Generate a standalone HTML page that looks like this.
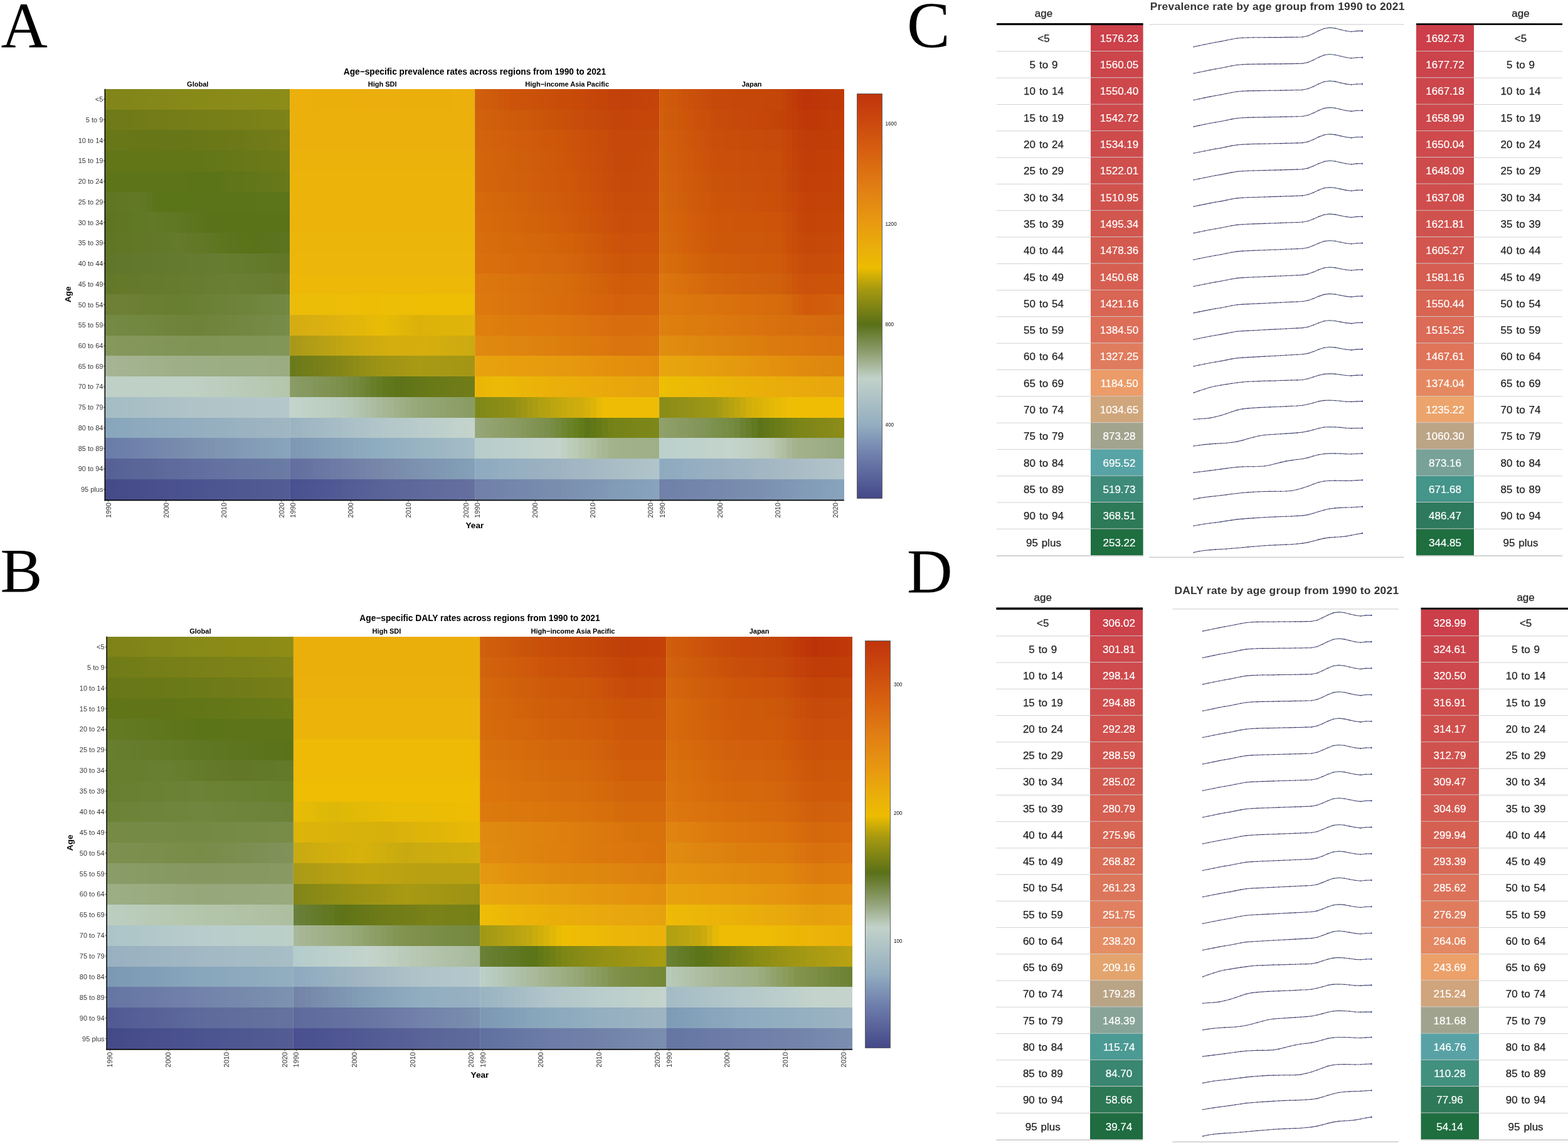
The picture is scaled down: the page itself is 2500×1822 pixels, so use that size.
<!DOCTYPE html>
<html><head><meta charset="utf-8"><title>Figure</title>
<style>
html,body{margin:0;padding:0;background:#fff;overflow:hidden}
#pg{position:relative;width:2500px;height:1822px;overflow:hidden;background:#fff}
.c{position:absolute}
svg{position:absolute;left:0;top:0}
text{font-family:"Liberation Sans",Arial,sans-serif}
.tk{fill:#383838}
.b{font-weight:bold;fill:#000}
.cbt{fill:#111}
.L{font-family:"Liberation Serif","Times New Roman",serif;fill:#000}
.t{fill:#222;stroke:#222;stroke-width:0.25px}
.ag{word-spacing:1.2px}
.v{fill:#fff;stroke:#fff;stroke-width:0.2px}
.tt{font-weight:bold;fill:#333}
.sp{fill:none;stroke:#505080;stroke-width:1.1;stroke-linejoin:round}
.dt circle{fill:#2a3040}
</style></head><body><div id="pg">
<div class="c" style="left:168px;top:141.8px;width:294.85px;height:33.24px;background:linear-gradient(to right,#80851a 0% 3.12%,#81851a 3.12% 6.25%,#81861a 6.25% 9.38%,#82861a 9.38% 12.5%,#828619 12.5% 15.62%,#838719 15.62% 21.88%,#848719 21.88% 25%,#848819 25% 28.12%,#858819 28.12% 34.38%,#868919 34.38% 37.5%,#868918 37.5% 40.62%,#878918 40.62% 43.75%,#878a18 43.75% 46.88%,#888a18 46.88% 56.25%,#898a18 56.25% 62.5%,#898b18 62.5% 68.75%,#8a8b18 68.75% 81.25%,#8b8b18 81.25% 87.5%,#8b8c18 87.5% 93.75%,#8c8c18 93.75% 100%)"></div>
<div class="c" style="left:168px;top:174.54px;width:294.85px;height:33.24px;background:linear-gradient(to right,#6e7a18 0% 3.12%,#6f7a18 3.12% 6.25%,#6f7b18 6.25% 9.38%,#707b18 9.38% 15.62%,#717b18 15.62% 18.75%,#717c18 18.75% 21.88%,#727c18 21.88% 28.12%,#737c18 28.12% 31.25%,#737d18 31.25% 34.38%,#747d18 34.38% 40.62%,#757d18 40.62% 43.75%,#757e18 43.75% 46.88%,#767e18 46.88% 53.12%,#777e18 53.12% 56.25%,#777f18 56.25% 59.38%,#787f18 59.38% 65.62%,#797f18 65.62% 68.75%,#798018 68.75% 71.88%,#7a8018 71.88% 78.12%,#7b8018 78.12% 81.25%,#7b8118 81.25% 84.38%,#7c8118 84.38% 90.62%,#7d8118 90.62% 93.75%,#7d8218 93.75% 96.88%,#7e8218 96.88% 100%)"></div>
<div class="c" style="left:168px;top:207.28px;width:294.85px;height:33.24px;background:linear-gradient(to right,#687818 0% 12.5%,#677718 12.5% 31.25%,#667618 31.25% 43.75%,#677718 43.75% 46.88%,#687718 46.88% 50%,#697718 50% 56.25%,#6a7818 56.25% 59.38%,#6b7818 59.38% 65.62%,#6c7918 65.62% 68.75%,#6d7918 68.75% 75%,#6e7a18 75% 78.12%,#6f7a18 78.12% 81.25%,#707a18 81.25% 84.38%,#707b18 84.38% 87.5%,#717b18 87.5% 90.62%,#727b18 90.62% 93.75%,#727c18 93.75% 96.88%,#737c18 96.88% 100%)"></div>
<div class="c" style="left:168px;top:240.02px;width:294.85px;height:33.24px;background:linear-gradient(to right,#627618 0% 53.12%,#637618 53.12% 56.25%,#647718 56.25% 59.38%,#657718 59.38% 65.62%,#667718 65.62% 68.75%,#677818 68.75% 71.88%,#687818 71.88% 75%,#697818 75% 81.25%,#6a7918 81.25% 84.38%,#6b7918 84.38% 87.5%,#6c7918 87.5% 93.75%,#6d7a18 93.75% 96.88%,#6e7a18 96.88% 100%)"></div>
<div class="c" style="left:168px;top:272.76px;width:294.85px;height:33.24px;background:linear-gradient(to right,#5e7418 0% 15.62%,#5d7418 15.62% 43.75%,#5c7418 43.75% 62.5%,#5d7418 62.5% 65.62%,#5e7518 65.62% 68.75%,#5f7519 68.75% 71.88%,#607519 71.88% 75%,#617619 75% 78.12%,#627619 78.12% 81.25%,#637619 81.25% 84.38%,#647719 84.38% 87.5%,#65771a 87.5% 90.62%,#66771a 90.62% 93.75%,#67781a 93.75% 96.88%,#68781a 96.88% 100%)"></div>
<div class="c" style="left:168px;top:305.5px;width:294.85px;height:33.24px;background:linear-gradient(to right,#607622 0% 3.12%,#607623 3.12% 6.25%,#617725 6.25% 9.38%,#617726 9.38% 12.5%,#627827 12.5% 15.62%,#617827 15.62% 18.75%,#607723 18.75% 21.88%,#5e7620 21.88% 25%,#5c751c 25% 28.12%,#5b7419 28.12% 31.25%,#5a7418 31.25% 46.88%,#5b7419 46.88% 81.25%,#5c741a 81.25% 100%)"></div>
<div class="c" style="left:168px;top:338.24px;width:294.85px;height:33.24px;background:linear-gradient(to right,#5e7420 0% 3.12%,#5f7521 3.12% 6.25%,#5f7622 6.25% 9.38%,#607623 9.38% 12.5%,#607724 12.5% 15.62%,#617825 15.62% 18.75%,#617926 18.75% 21.88%,#627927 21.88% 25%,#627a28 25% 28.12%,#617926 28.12% 31.25%,#607825 31.25% 34.38%,#607823 34.38% 37.5%,#5f7722 37.5% 40.62%,#5e7620 40.62% 43.75%,#5d751f 43.75% 46.88%,#5d751d 46.88% 50%,#5c741c 50% 53.12%,#5b731a 53.12% 56.25%,#5a7219 56.25% 59.38%,#5a7218 59.38% 100%)"></div>
<div class="c" style="left:168px;top:370.98px;width:294.85px;height:33.24px;background:linear-gradient(to right,#607624 0% 3.12%,#607625 3.12% 6.25%,#617725 6.25% 9.38%,#617726 9.38% 12.5%,#617727 12.5% 15.62%,#627827 15.62% 18.75%,#627828 18.75% 21.88%,#627829 21.88% 25%,#637929 25% 28.12%,#63792a 28.12% 34.38%,#647a2b 34.38% 37.5%,#647a2c 37.5% 40.62%,#647a2b 40.62% 43.75%,#637929 43.75% 46.88%,#627828 46.88% 50%,#617826 50% 53.12%,#607725 53.12% 56.25%,#5f7623 56.25% 59.38%,#5f7621 59.38% 62.5%,#5e7520 62.5% 65.62%,#5d741e 65.62% 68.75%,#5c741d 68.75% 71.88%,#5b731b 71.88% 75%,#5b7319 75% 78.12%,#5a7218 78.12% 81.25%,#5a721a 81.25% 84.38%,#5b731b 84.38% 87.5%,#5b731c 87.5% 90.62%,#5b731d 90.62% 93.75%,#5c741f 93.75% 96.88%,#5c7420 96.88% 100%)"></div>
<div class="c" style="left:168px;top:403.72px;width:294.85px;height:33.24px;background:linear-gradient(to right,#60762a 0% 6.25%,#61772b 6.25% 15.62%,#62782c 15.62% 25%,#63792d 25% 34.38%,#647a2e 34.38% 43.75%,#657b2f 43.75% 56.25%,#667c30 56.25% 62.5%,#667c2f 62.5% 65.62%,#657b2e 65.62% 71.88%,#657b2d 71.88% 75%,#647a2d 75% 78.12%,#647a2c 78.12% 81.25%,#647a2b 81.25% 84.38%,#63792b 84.38% 87.5%,#63792a 87.5% 90.62%,#637929 90.62% 93.75%,#627829 93.75% 96.88%,#627828 96.88% 100%)"></div>
<div class="c" style="left:168px;top:436.46px;width:294.85px;height:33.24px;background:linear-gradient(to right,#64782a 0% 6.25%,#65792b 6.25% 12.5%,#65792c 12.5% 18.75%,#667a2d 18.75% 25%,#667a2e 25% 31.25%,#677b2f 31.25% 37.5%,#677b30 37.5% 40.62%,#687c30 40.62% 46.88%,#687c31 46.88% 53.12%,#697d32 53.12% 59.38%,#697d33 59.38% 62.5%,#6a7e33 62.5% 65.62%,#6a7e34 65.62% 71.88%,#6a7e33 71.88% 78.12%,#697d33 78.12% 81.25%,#697d32 81.25% 87.5%,#697d31 87.5% 90.62%,#687c31 90.62% 93.75%,#687c30 93.75% 100%)"></div>
<div class="c" style="left:168px;top:469.2px;width:294.85px;height:33.24px;background:linear-gradient(to right,#6e8036 0% 6.25%,#6d8035 6.25% 12.5%,#6c7f34 12.5% 18.75%,#6b7f33 18.75% 25%,#6a7f32 25% 31.25%,#697e31 31.25% 37.5%,#687e30 37.5% 40.62%,#687e31 40.62% 43.75%,#697f32 43.75% 46.88%,#6a7f33 46.88% 50%,#6a8033 50% 53.12%,#6b8034 53.12% 56.25%,#6b8135 56.25% 59.38%,#6c8236 59.38% 62.5%,#6c8237 62.5% 65.62%,#6d8338 65.62% 68.75%,#6e8339 68.75% 71.88%,#6e843a 71.88% 75%,#6f843b 75% 78.12%,#6f853c 78.12% 81.25%,#70853d 81.25% 84.38%,#71863e 84.38% 87.5%,#71863f 87.5% 90.62%,#728740 90.62% 93.75%,#728741 93.75% 96.88%,#738842 96.88% 100%)"></div>
<div class="c" style="left:168px;top:501.94px;width:294.85px;height:33.24px;background:linear-gradient(to right,#748a44 0% 3.12%,#748943 3.12% 6.25%,#738942 6.25% 9.38%,#738842 9.38% 12.5%,#728841 12.5% 15.62%,#728740 15.62% 18.75%,#72873f 18.75% 21.88%,#71863f 21.88% 25%,#71863e 25% 28.12%,#71853d 28.12% 31.25%,#70853c 31.25% 34.38%,#70843b 34.38% 37.5%,#6f843b 37.5% 40.62%,#6f833a 40.62% 43.75%,#6f8339 43.75% 46.88%,#6e8238 46.88% 50%,#6e8239 50% 53.12%,#6f833a 53.12% 56.25%,#70843b 56.25% 59.38%,#70843c 59.38% 62.5%,#71853d 62.5% 65.62%,#72863e 65.62% 68.75%,#728640 68.75% 71.88%,#738741 71.88% 75%,#738742 75% 78.12%,#748843 78.12% 81.25%,#758944 81.25% 84.38%,#758945 84.38% 87.5%,#768a47 87.5% 90.62%,#778b48 90.62% 93.75%,#778b49 93.75% 96.88%,#788c4a 96.88% 100%)"></div>
<div class="c" style="left:168px;top:534.68px;width:294.85px;height:33.24px;background:linear-gradient(to right,#86985c 0% 6.25%,#85975b 6.25% 12.5%,#84975a 12.5% 18.75%,#84965a 18.75% 21.88%,#839659 21.88% 31.25%,#829558 31.25% 37.5%,#819557 37.5% 43.75%,#819457 43.75% 46.88%,#809456 46.88% 62.5%,#819557 62.5% 87.5%,#829658 87.5% 100%)"></div>
<div class="c" style="left:168px;top:567.42px;width:294.85px;height:33.24px;background:linear-gradient(to right,#a6b494 0% 3.12%,#a5b493 3.12% 6.25%,#a5b392 6.25% 9.38%,#a4b391 9.38% 12.5%,#a3b290 12.5% 15.62%,#a3b28f 15.62% 18.75%,#a2b28e 18.75% 21.88%,#a1b18d 21.88% 25%,#a1b18c 25% 28.12%,#a0b18b 28.12% 31.25%,#a0b08a 31.25% 34.38%,#9fb089 34.38% 37.5%,#9eaf88 37.5% 40.62%,#9eaf87 40.62% 43.75%,#9daf86 43.75% 46.88%,#9cae85 46.88% 50%,#9cae84 50% 56.25%,#9cae83 56.25% 62.5%,#9bad83 62.5% 68.75%,#9bad82 68.75% 81.25%,#9bad81 81.25% 87.5%,#9aac81 87.5% 93.75%,#9aac80 93.75% 100%)"></div>
<div class="c" style="left:168px;top:600.16px;width:294.85px;height:33.24px;background:linear-gradient(to right,#bfd0c8 0% 6.25%,#bfd0c7 6.25% 18.75%,#bfd0c6 18.75% 31.25%,#bfd0c5 31.25% 43.75%,#bfd0c4 43.75% 50%,#bfd0c3 50% 53.12%,#becfc2 53.12% 56.25%,#bdcec0 56.25% 59.38%,#bdcebf 59.38% 62.5%,#bccdbd 62.5% 65.62%,#bbccbb 65.62% 68.75%,#baccba 68.75% 71.88%,#bacbb8 71.88% 75%,#b9cbb7 75% 78.12%,#b8cab5 78.12% 81.25%,#b8c9b4 81.25% 84.38%,#b7c9b2 84.38% 87.5%,#b6c8b1 87.5% 90.62%,#b5c7af 90.62% 93.75%,#b5c7ae 93.75% 96.88%,#b4c6ac 96.88% 100%)"></div>
<div class="c" style="left:168px;top:632.9px;width:294.85px;height:33.24px;background:linear-gradient(to right,#a4bcc4 0% 3.12%,#a5bdc4 3.12% 6.25%,#a6bdc5 6.25% 9.38%,#a6bec5 9.38% 12.5%,#a7bec5 12.5% 15.62%,#a8bfc5 15.62% 18.75%,#a9bfc6 18.75% 21.88%,#a9c0c6 21.88% 25%,#aac0c6 25% 28.12%,#abc1c6 28.12% 31.25%,#acc1c7 31.25% 34.38%,#adc2c7 34.38% 40.62%,#aec3c7 40.62% 43.75%,#afc3c8 43.75% 46.88%,#b0c4c8 46.88% 56.25%,#b1c5c9 56.25% 68.75%,#b2c6ca 68.75% 81.25%,#b3c7cb 81.25% 93.75%,#b4c8cc 93.75% 100%)"></div>
<div class="c" style="left:168px;top:665.64px;width:294.85px;height:33.24px;background:linear-gradient(to right,#88a6bc 0% 3.12%,#89a7bc 3.12% 6.25%,#8aa7bd 6.25% 9.38%,#8aa8bd 9.38% 12.5%,#8ba8bd 12.5% 15.62%,#8ca9bd 15.62% 18.75%,#8da9be 18.75% 21.88%,#8daabe 21.88% 25%,#8eaabe 25% 28.12%,#8fabbe 28.12% 31.25%,#90abbf 31.25% 34.38%,#91acbf 34.38% 40.62%,#92adbf 40.62% 43.75%,#93adc0 43.75% 46.88%,#94aec0 46.88% 53.12%,#95afc0 53.12% 56.25%,#96afc0 56.25% 59.38%,#97b0c0 59.38% 62.5%,#97b0c1 62.5% 65.62%,#98b1c1 65.62% 68.75%,#99b1c1 68.75% 71.88%,#9ab2c1 71.88% 75%,#9bb2c1 75% 78.12%,#9bb3c1 78.12% 81.25%,#9cb3c1 81.25% 84.38%,#9db4c1 84.38% 87.5%,#9eb4c2 87.5% 90.62%,#9eb5c2 90.62% 93.75%,#9fb5c2 93.75% 96.88%,#a0b6c2 96.88% 100%)"></div>
<div class="c" style="left:168px;top:698.38px;width:294.85px;height:33.24px;background:linear-gradient(to right,#6a7ca8 0% 3.12%,#6b7da9 3.12% 6.25%,#6c7fa9 6.25% 9.38%,#6d80aa 9.38% 12.5%,#6f81aa 12.5% 15.62%,#7082ab 15.62% 18.75%,#7184ab 18.75% 21.88%,#7285ac 21.88% 25%,#7386ac 25% 28.12%,#7488ad 28.12% 31.25%,#7689ad 31.25% 34.38%,#778aae 34.38% 37.5%,#788bae 37.5% 40.62%,#798daf 40.62% 43.75%,#7a8eaf 43.75% 46.88%,#7b8fb0 46.88% 50%,#7c91b0 50% 53.12%,#7d92b1 53.12% 56.25%,#7e93b2 56.25% 59.38%,#7f95b3 59.38% 62.5%,#7f96b3 62.5% 65.62%,#8097b4 65.62% 68.75%,#8198b5 68.75% 71.88%,#829ab6 71.88% 75%,#839bb7 75% 78.12%,#839cb7 78.12% 81.25%,#849eb8 81.25% 84.38%,#859fb9 84.38% 87.5%,#86a0ba 87.5% 90.62%,#86a1ba 90.62% 93.75%,#87a3bb 93.75% 96.88%,#88a4bc 96.88% 100%)"></div>
<div class="c" style="left:168px;top:731.12px;width:294.85px;height:33.24px;background:linear-gradient(to right,#566094 0% 3.12%,#576195 3.12% 6.25%,#586296 6.25% 9.38%,#586396 9.38% 12.5%,#596497 12.5% 15.62%,#5a6598 15.62% 18.75%,#5b6599 18.75% 21.88%,#5b6699 21.88% 25%,#5c679a 25% 28.12%,#5d689b 28.12% 31.25%,#5e699c 31.25% 34.38%,#5f6a9d 34.38% 37.5%,#5f6b9d 37.5% 40.62%,#606c9e 40.62% 43.75%,#616d9f 43.75% 46.88%,#626ea0 46.88% 53.12%,#636fa0 53.12% 56.25%,#6370a1 56.25% 59.38%,#6471a1 59.38% 62.5%,#6472a1 62.5% 65.62%,#6573a1 65.62% 68.75%,#6574a2 68.75% 71.88%,#6675a2 71.88% 75%,#6676a2 75% 78.12%,#6777a2 78.12% 81.25%,#6777a3 81.25% 84.38%,#6878a3 84.38% 87.5%,#6879a3 87.5% 90.62%,#697aa3 90.62% 93.75%,#697ba4 93.75% 96.88%,#6a7ca4 96.88% 100%)"></div>
<div class="c" style="left:168px;top:763.86px;width:294.85px;height:33.24px;background:linear-gradient(to right,#454a88 0% 3.12%,#454b89 3.12% 6.25%,#464b89 6.25% 9.38%,#464c8a 9.38% 12.5%,#474d8a 12.5% 15.62%,#474d8b 15.62% 18.75%,#484e8b 18.75% 21.88%,#484f8c 21.88% 25%,#494f8c 25% 28.12%,#49508d 28.12% 31.25%,#4a508d 31.25% 34.38%,#4a518e 34.38% 37.5%,#4a528e 37.5% 40.62%,#4b528f 40.62% 43.75%,#4b538f 43.75% 46.88%,#4c5490 46.88% 53.12%,#4d5590 53.12% 56.25%,#4d5591 56.25% 59.38%,#4e5691 59.38% 65.62%,#4f5791 65.62% 68.75%,#4f5792 68.75% 71.88%,#505892 71.88% 78.12%,#515992 78.12% 81.25%,#515993 81.25% 84.38%,#525a93 84.38% 90.62%,#535b93 90.62% 93.75%,#535b94 93.75% 96.88%,#545c94 96.88% 100%)"></div>
<div class="c" style="left:462.45px;top:141.8px;width:294.85px;height:33.24px;background:linear-gradient(to right,#ebb00c 0% 12.5%,#ebaf0c 12.5% 37.5%,#ebae0c 37.5% 62.5%,#ebaf0c 62.5% 87.5%,#ebb00c 87.5% 100%)"></div>
<div class="c" style="left:462.45px;top:174.54px;width:294.85px;height:33.24px;background:linear-gradient(to right,#ebb00c 0% 100%)"></div>
<div class="c" style="left:462.45px;top:207.28px;width:294.85px;height:33.24px;background:linear-gradient(to right,#ebb00c 0% 100%)"></div>
<div class="c" style="left:462.45px;top:240.02px;width:294.85px;height:33.24px;background:linear-gradient(to right,#ebb20c 0% 100%)"></div>
<div class="c" style="left:462.45px;top:272.76px;width:294.85px;height:33.24px;background:linear-gradient(to right,#ecb40a 0% 100%)"></div>
<div class="c" style="left:462.45px;top:305.5px;width:294.85px;height:33.24px;background:linear-gradient(to right,#ecb40a 0% 100%)"></div>
<div class="c" style="left:462.45px;top:338.24px;width:294.85px;height:33.24px;background:linear-gradient(to right,#ecb40a 0% 100%)"></div>
<div class="c" style="left:462.45px;top:370.98px;width:294.85px;height:33.24px;background:linear-gradient(to right,#ecb50a 0% 100%)"></div>
<div class="c" style="left:462.45px;top:403.72px;width:294.85px;height:33.24px;background:linear-gradient(to right,#ecb60a 0% 100%)"></div>
<div class="c" style="left:462.45px;top:436.46px;width:294.85px;height:33.24px;background:linear-gradient(to right,#edb808 0% 100%)"></div>
<div class="c" style="left:462.45px;top:469.2px;width:294.85px;height:33.24px;background:linear-gradient(to right,#ecbd08 0% 12.5%,#ecbd07 12.5% 25%,#edbd07 25% 37.5%,#edbd06 37.5% 50%,#edbe06 50% 62.5%,#edbe05 62.5% 75%,#eebe05 75% 87.5%,#eebe04 87.5% 100%)"></div>
<div class="c" style="left:462.45px;top:501.94px;width:294.85px;height:33.24px;background:linear-gradient(to right,#d4ac14 0% 3.12%,#d5ad13 3.12% 6.25%,#d7ae12 6.25% 9.38%,#d8af11 9.38% 12.5%,#d9af11 12.5% 15.62%,#dab010 15.62% 18.75%,#dcb10f 18.75% 21.88%,#ddb20e 21.88% 25%,#deb30d 25% 28.12%,#e0b40c 28.12% 31.25%,#e1b50b 31.25% 34.38%,#e2b60a 34.38% 37.5%,#e3b709 37.5% 40.62%,#e5b908 40.62% 43.75%,#e6ba07 43.75% 46.88%,#e7bb06 46.88% 53.12%,#e5ba07 53.12% 56.25%,#e3b808 56.25% 59.38%,#e1b608 59.38% 62.5%,#dfb509 62.5% 65.62%,#ddb30a 65.62% 68.75%,#dcb20a 68.75% 71.88%,#ddb20a 71.88% 78.12%,#ddb30a 78.12% 81.25%,#deb30a 81.25% 87.5%,#dfb30a 87.5% 90.62%,#dfb40a 90.62% 93.75%,#e0b40a 93.75% 100%)"></div>
<div class="c" style="left:462.45px;top:534.68px;width:294.85px;height:33.24px;background:linear-gradient(to right,#a89818 0% 3.12%,#ab9a17 3.12% 6.25%,#ae9b17 6.25% 9.38%,#b19d16 9.38% 12.5%,#b49e15 12.5% 15.62%,#b7a015 15.62% 18.75%,#baa114 18.75% 21.88%,#bda313 21.88% 25%,#c0a413 25% 28.12%,#c3a612 28.12% 31.25%,#c5a712 31.25% 34.38%,#c8a811 34.38% 37.5%,#caa911 37.5% 40.62%,#ccaa10 40.62% 43.75%,#ceab10 43.75% 46.88%,#d0ac0f 46.88% 50%,#d2ad0f 50% 53.12%,#d4ae0e 53.12% 59.38%,#d5ae0e 59.38% 68.75%,#d6ae0e 68.75% 75%,#d5ae0e 75% 78.12%,#d4ad0f 78.12% 81.25%,#d2ad0f 81.25% 84.38%,#d1ac10 84.38% 87.5%,#d0ac10 87.5% 90.62%,#cfab11 90.62% 93.75%,#cdab11 93.75% 96.88%,#ccaa12 96.88% 100%)"></div>
<div class="c" style="left:462.45px;top:567.42px;width:294.85px;height:33.24px;background:linear-gradient(to right,#6a7a1a 0% 3.12%,#6d7b1a 3.12% 6.25%,#707d19 6.25% 9.38%,#737e19 9.38% 12.5%,#767f19 12.5% 15.62%,#798019 15.62% 18.75%,#7d8218 18.75% 21.88%,#808318 21.88% 25%,#838518 25% 28.12%,#878718 28.12% 31.25%,#8b8917 31.25% 34.38%,#8f8b17 34.38% 37.5%,#928e17 37.5% 40.62%,#969016 40.62% 43.75%,#9a9216 43.75% 46.88%,#9c9316 46.88% 50%,#9e9415 50% 53.12%,#a09515 53.12% 56.25%,#a19615 56.25% 59.38%,#a39715 59.38% 62.5%,#a59814 62.5% 65.62%,#a79914 65.62% 68.75%,#a89a14 68.75% 71.88%,#a79914 71.88% 81.25%,#a69814 81.25% 87.5%,#a59714 87.5% 93.75%,#a49614 93.75% 100%)"></div>
<div class="c" style="left:462.45px;top:600.16px;width:294.85px;height:33.24px;background:linear-gradient(to right,#8a9c66 0% 3.12%,#889a63 3.12% 6.25%,#879960 6.25% 9.38%,#85975c 9.38% 12.5%,#839659 12.5% 15.62%,#819456 15.62% 18.75%,#809353 18.75% 21.88%,#7e914f 21.88% 25%,#7c904c 25% 28.12%,#7b8e49 28.12% 31.25%,#778c43 31.25% 34.38%,#73893d 34.38% 37.5%,#708537 37.5% 40.62%,#6c8230 40.62% 43.75%,#687f2a 43.75% 46.88%,#647c23 46.88% 50%,#61791f 50% 53.12%,#60771c 53.12% 56.25%,#5f751a 56.25% 59.38%,#5f7418 59.38% 62.5%,#617518 62.5% 65.62%,#637618 65.62% 68.75%,#657718 68.75% 71.88%,#677818 71.88% 75%,#687918 75% 78.12%,#6a7a18 78.12% 81.25%,#6b7a18 81.25% 84.38%,#6c7b18 84.38% 87.5%,#6d7b18 87.5% 90.62%,#6e7b18 90.62% 93.75%,#6f7c18 93.75% 96.88%,#707c18 96.88% 100%)"></div>
<div class="c" style="left:462.45px;top:632.9px;width:294.85px;height:33.24px;background:linear-gradient(to right,#c2d4cc 0% 3.12%,#c1d3ca 3.12% 6.25%,#c0d2c8 6.25% 9.38%,#bfd1c6 9.38% 12.5%,#bed0c4 12.5% 15.62%,#bdcfc2 15.62% 18.75%,#bccec0 18.75% 21.88%,#baccbe 21.88% 25%,#b9cbbd 25% 28.12%,#b8cabb 28.12% 31.25%,#b6c8b6 31.25% 34.38%,#b4c5b1 34.38% 37.5%,#b1c2ab 37.5% 40.62%,#aebfa6 40.62% 43.75%,#acbca0 43.75% 46.88%,#a9b99b 46.88% 50%,#a7b795 50% 53.12%,#a4b490 53.12% 56.25%,#a1b28b 56.25% 59.38%,#9eaf86 59.38% 62.5%,#9bac81 62.5% 65.62%,#98aa7c 65.62% 68.75%,#96a877 68.75% 71.88%,#94a675 71.88% 75%,#93a573 75% 78.12%,#92a470 78.12% 81.25%,#90a26e 81.25% 84.38%,#8fa16b 84.38% 87.5%,#8ea069 87.5% 90.62%,#8d9f67 90.62% 93.75%,#8b9d64 93.75% 96.88%,#8a9c62 96.88% 100%)"></div>
<div class="c" style="left:462.45px;top:665.64px;width:294.85px;height:33.24px;background:linear-gradient(to right,#9cb4c2 0% 3.12%,#9db5c3 3.12% 6.25%,#9fb6c3 6.25% 9.38%,#a0b7c4 9.38% 12.5%,#a2b9c4 12.5% 15.62%,#a3bac5 15.62% 18.75%,#a5bbc5 18.75% 21.88%,#a6bcc6 21.88% 25%,#a7bdc6 25% 28.12%,#a9bec7 28.12% 31.25%,#aac0c7 31.25% 34.38%,#acc1c8 34.38% 37.5%,#adc2c8 37.5% 40.62%,#aec3c9 40.62% 43.75%,#b0c4c9 43.75% 46.88%,#b1c5ca 46.88% 50%,#b3c6ca 50% 53.12%,#b4c7ca 53.12% 56.25%,#b5c8ca 56.25% 59.38%,#b6c9ca 59.38% 62.5%,#b7cacb 62.5% 65.62%,#b8cbcb 65.62% 68.75%,#bacccb 68.75% 71.88%,#bbcdcb 71.88% 75%,#bccecb 75% 78.12%,#bdcfcb 78.12% 81.25%,#becfcb 81.25% 84.38%,#bfd0cb 84.38% 87.5%,#c1d1cc 87.5% 90.62%,#c2d2cc 90.62% 93.75%,#c3d3cc 93.75% 96.88%,#c4d4cc 96.88% 100%)"></div>
<div class="c" style="left:462.45px;top:698.38px;width:294.85px;height:33.24px;background:linear-gradient(to right,#7e98b4 0% 3.12%,#7f99b5 3.12% 6.25%,#809bb6 6.25% 9.38%,#819cb6 9.38% 12.5%,#839eb7 12.5% 15.62%,#849fb8 15.62% 18.75%,#85a1b9 18.75% 21.88%,#86a2b9 21.88% 25%,#87a3ba 25% 28.12%,#88a5bb 28.12% 31.25%,#8aa6bc 31.25% 34.38%,#8ba8bd 34.38% 37.5%,#8ca9bd 37.5% 40.62%,#8daabe 40.62% 43.75%,#8eacbf 43.75% 46.88%,#8fadc0 46.88% 50%,#91aec0 50% 53.12%,#92afc1 53.12% 56.25%,#93b0c1 56.25% 59.38%,#95b1c1 59.38% 62.5%,#96b2c2 62.5% 65.62%,#97b3c2 65.62% 68.75%,#98b4c3 68.75% 71.88%,#9ab5c3 71.88% 75%,#9bb6c3 75% 78.12%,#9cb7c4 78.12% 81.25%,#9eb7c4 81.25% 84.38%,#9fb8c4 84.38% 87.5%,#a0b9c5 87.5% 90.62%,#a1bac5 90.62% 93.75%,#a3bbc6 93.75% 96.88%,#a4bcc6 96.88% 100%)"></div>
<div class="c" style="left:462.45px;top:731.12px;width:294.85px;height:33.24px;background:linear-gradient(to right,#646ea0 0% 3.12%,#6570a1 3.12% 6.25%,#6771a1 6.25% 9.38%,#6873a2 9.38% 12.5%,#6975a3 12.5% 15.62%,#6a76a3 15.62% 18.75%,#6c78a4 18.75% 21.88%,#6d7aa5 21.88% 25%,#6e7ba5 25% 28.12%,#707da6 28.12% 31.25%,#717fa6 31.25% 34.38%,#7280a7 34.38% 37.5%,#7382a8 37.5% 40.62%,#7584a8 40.62% 43.75%,#7685a9 43.75% 46.88%,#7787aa 46.88% 50%,#7889aa 50% 53.12%,#798aab 53.12% 56.25%,#7a8cac 56.25% 59.38%,#7b8dad 59.38% 62.5%,#7b8fae 62.5% 65.62%,#7c91af 65.62% 68.75%,#7d92b0 68.75% 71.88%,#7e94b1 71.88% 75%,#7f95b2 75% 78.12%,#7f97b3 78.12% 81.25%,#8098b3 81.25% 84.38%,#819ab4 84.38% 87.5%,#829bb5 87.5% 90.62%,#829db6 90.62% 93.75%,#839eb7 93.75% 96.88%,#84a0b8 96.88% 100%)"></div>
<div class="c" style="left:462.45px;top:763.86px;width:294.85px;height:33.24px;background:linear-gradient(to right,#4a5090 0% 3.12%,#4b5191 3.12% 6.25%,#4c5391 6.25% 9.38%,#4d5492 9.38% 12.5%,#4e5592 12.5% 15.62%,#4f5693 15.62% 18.75%,#505893 18.75% 21.88%,#515994 21.88% 25%,#525a94 25% 28.12%,#535c95 28.12% 31.25%,#545d95 31.25% 34.38%,#555e96 34.38% 37.5%,#565f96 37.5% 40.62%,#576197 40.62% 43.75%,#586297 43.75% 46.88%,#596398 46.88% 50%,#5a6498 50% 53.12%,#5b6599 53.12% 56.25%,#5c6699 56.25% 59.38%,#5d679a 59.38% 65.62%,#5e689b 65.62% 68.75%,#5f699b 68.75% 71.88%,#606a9c 71.88% 75%,#616b9c 75% 78.12%,#616b9d 78.12% 81.25%,#626c9d 81.25% 84.38%,#636d9e 84.38% 87.5%,#646e9e 87.5% 90.62%,#646e9f 90.62% 93.75%,#656f9f 93.75% 96.88%,#6670a0 96.88% 100%)"></div>
<div class="c" style="left:756.9px;top:141.8px;width:294.85px;height:33.24px;background:linear-gradient(to right,#d0600c 0% 3.12%,#cf5e0c 3.12% 6.25%,#cf5c0b 6.25% 9.38%,#ce5a0b 9.38% 12.5%,#cd580b 12.5% 15.62%,#cd560a 15.62% 18.75%,#cc540a 18.75% 21.88%,#cc530a 21.88% 25%,#cb520a 25% 28.12%,#cb5209 28.12% 31.25%,#ca5109 31.25% 34.38%,#ca5009 34.38% 37.5%,#ca4f09 37.5% 40.62%,#c94e09 40.62% 43.75%,#c94d08 43.75% 46.88%,#c84c08 46.88% 50%,#c84b08 50% 53.12%,#c74a08 53.12% 56.25%,#c74909 56.25% 59.38%,#c64709 59.38% 62.5%,#c64609 62.5% 65.62%,#c54509 65.62% 68.75%,#c5440a 68.75% 71.88%,#c4420a 71.88% 75%,#c3410a 75% 78.12%,#c2400a 78.12% 81.25%,#c2410a 81.25% 84.38%,#c3410a 84.38% 87.5%,#c3420a 87.5% 90.62%,#c3430a 90.62% 93.75%,#c4430a 93.75% 96.88%,#c4440a 96.88% 100%)"></div>
<div class="c" style="left:756.9px;top:174.54px;width:294.85px;height:33.24px;background:linear-gradient(to right,#d2620c 0% 3.12%,#d1610c 3.12% 6.25%,#d1600c 6.25% 9.38%,#d05f0c 9.38% 12.5%,#cf5d0b 12.5% 15.62%,#cf5c0b 15.62% 18.75%,#ce5b0b 18.75% 21.88%,#cd5a0b 21.88% 25%,#cd590b 25% 28.12%,#cc580b 28.12% 31.25%,#cc560b 31.25% 34.38%,#cb550b 34.38% 37.5%,#ca540a 37.5% 40.62%,#ca530a 40.62% 43.75%,#c9520a 43.75% 46.88%,#c8510a 46.88% 50%,#c84f0a 50% 53.12%,#c74e0a 53.12% 56.25%,#c74d0a 56.25% 59.38%,#c64b0a 59.38% 62.5%,#c64a0a 62.5% 65.62%,#c6490a 65.62% 68.75%,#c5480a 68.75% 71.88%,#c5460a 71.88% 75%,#c4450a 75% 78.12%,#c4440a 78.12% 84.38%,#c5450a 84.38% 93.75%,#c6460a 93.75% 100%)"></div>
<div class="c" style="left:756.9px;top:207.28px;width:294.85px;height:33.24px;background:linear-gradient(to right,#d4640c 0% 3.12%,#d3630c 3.12% 6.25%,#d3620c 6.25% 9.38%,#d2610c 9.38% 12.5%,#d2600b 12.5% 15.62%,#d15f0b 15.62% 18.75%,#d15e0b 18.75% 21.88%,#d05d0b 21.88% 25%,#d05c0b 25% 28.12%,#cf5b0b 28.12% 31.25%,#cf5a0b 31.25% 34.38%,#ce590b 34.38% 37.5%,#ce580a 37.5% 40.62%,#cd570a 40.62% 43.75%,#cd560a 43.75% 46.88%,#cc550a 46.88% 50%,#cc530a 50% 53.12%,#cb520a 53.12% 56.25%,#ca510a 56.25% 59.38%,#ca4f0a 59.38% 62.5%,#c94e0a 62.5% 65.62%,#c84d0a 65.62% 68.75%,#c84c0a 68.75% 71.88%,#c74a0a 71.88% 75%,#c7490a 75% 78.12%,#c6480a 78.12% 84.38%,#c6490a 84.38% 93.75%,#c64a0a 93.75% 100%)"></div>
<div class="c" style="left:756.9px;top:240.02px;width:294.85px;height:33.24px;background:linear-gradient(to right,#d4660c 0% 3.12%,#d3650c 3.12% 6.25%,#d3640c 6.25% 9.38%,#d2630c 9.38% 12.5%,#d2620b 12.5% 15.62%,#d1610b 15.62% 18.75%,#d1600b 18.75% 21.88%,#d05f0b 21.88% 25%,#d05e0b 25% 28.12%,#cf5d0b 28.12% 31.25%,#cf5c0b 31.25% 34.38%,#ce5b0b 34.38% 37.5%,#ce5a0a 37.5% 40.62%,#cd590a 40.62% 43.75%,#cd580a 43.75% 46.88%,#cc570a 46.88% 50%,#cc550a 50% 53.12%,#cb540a 53.12% 56.25%,#ca520a 56.25% 59.38%,#ca510a 59.38% 62.5%,#c94f0a 62.5% 65.62%,#c84e0a 65.62% 68.75%,#c84c0a 68.75% 71.88%,#c74b0a 71.88% 75%,#c7490a 75% 78.12%,#c6480a 78.12% 81.25%,#c6490a 81.25% 84.38%,#c7490a 84.38% 87.5%,#c74a0a 87.5% 90.62%,#c74b0a 90.62% 93.75%,#c84b0a 93.75% 96.88%,#c84c0a 96.88% 100%)"></div>
<div class="c" style="left:756.9px;top:272.76px;width:294.85px;height:33.24px;background:linear-gradient(to right,#d4660c 0% 3.12%,#d4650c 3.12% 6.25%,#d3640c 6.25% 9.38%,#d3630c 9.38% 12.5%,#d2620b 12.5% 15.62%,#d2610b 15.62% 21.88%,#d1600b 21.88% 25%,#d15f0b 25% 28.12%,#d15e0b 28.12% 31.25%,#d05d0b 31.25% 34.38%,#d05c0b 34.38% 37.5%,#cf5b0a 37.5% 40.62%,#cf5a0a 40.62% 43.75%,#cf590a 43.75% 46.88%,#ce580a 46.88% 50%,#ce570a 50% 53.12%,#cd560a 53.12% 56.25%,#cc540a 56.25% 59.38%,#cb530a 59.38% 62.5%,#ca510a 62.5% 65.62%,#c9500a 65.62% 68.75%,#c84e0a 68.75% 71.88%,#c84d0a 71.88% 75%,#c74b0a 75% 78.12%,#c64a0a 78.12% 84.38%,#c74b0a 84.38% 93.75%,#c84c0a 93.75% 100%)"></div>
<div class="c" style="left:756.9px;top:305.5px;width:294.85px;height:33.24px;background:linear-gradient(to right,#d66a0c 0% 3.12%,#d5690c 3.12% 6.25%,#d5680c 6.25% 9.38%,#d4670c 9.38% 12.5%,#d4660b 12.5% 15.62%,#d3650b 15.62% 18.75%,#d3640b 18.75% 21.88%,#d2630b 21.88% 25%,#d2620b 25% 28.12%,#d1610b 28.12% 31.25%,#d1600b 31.25% 34.38%,#d05f0b 34.38% 37.5%,#d05e0a 37.5% 40.62%,#cf5d0a 40.62% 43.75%,#cf5c0a 43.75% 46.88%,#ce5b0a 46.88% 50%,#ce590a 50% 53.12%,#cd580a 53.12% 56.25%,#cc560a 56.25% 59.38%,#cc550a 59.38% 62.5%,#cb530a 62.5% 65.62%,#ca520a 65.62% 68.75%,#ca500a 68.75% 71.88%,#c94f0a 71.88% 75%,#c94d0a 75% 78.12%,#c84c0a 78.12% 84.38%,#c94d0a 84.38% 93.75%,#ca4e0a 93.75% 100%)"></div>
<div class="c" style="left:756.9px;top:338.24px;width:294.85px;height:33.24px;background:linear-gradient(to right,#d86c0c 0% 3.12%,#d76b0c 3.12% 6.25%,#d76a0c 6.25% 9.38%,#d6690c 9.38% 12.5%,#d6680b 12.5% 15.62%,#d5670b 15.62% 18.75%,#d5660b 18.75% 21.88%,#d4650b 21.88% 25%,#d4640b 25% 28.12%,#d3630b 28.12% 31.25%,#d3620b 31.25% 34.38%,#d2610b 34.38% 37.5%,#d2600a 37.5% 40.62%,#d15f0a 40.62% 43.75%,#d15e0a 43.75% 46.88%,#d05d0a 46.88% 50%,#d05b0a 50% 53.12%,#cf5a0a 53.12% 56.25%,#ce580a 56.25% 59.38%,#cd570a 59.38% 62.5%,#cc550a 62.5% 65.62%,#cb540a 65.62% 68.75%,#ca520a 68.75% 71.88%,#ca510a 71.88% 75%,#c94f0a 75% 78.12%,#c84e0a 78.12% 84.38%,#c94f0a 84.38% 93.75%,#ca500a 93.75% 100%)"></div>
<div class="c" style="left:756.9px;top:370.98px;width:294.85px;height:33.24px;background:linear-gradient(to right,#d86e0c 0% 3.12%,#d86d0c 3.12% 6.25%,#d76c0c 6.25% 12.5%,#d66b0b 12.5% 15.62%,#d66a0b 15.62% 18.75%,#d6690b 18.75% 21.88%,#d5690b 21.88% 25%,#d5680b 25% 28.12%,#d5670b 28.12% 31.25%,#d4660b 31.25% 34.38%,#d4650b 34.38% 37.5%,#d3650a 37.5% 40.62%,#d3640a 40.62% 43.75%,#d3630a 43.75% 46.88%,#d2620a 46.88% 50%,#d2610a 50% 53.12%,#d15f0a 53.12% 56.25%,#d05e0a 56.25% 59.38%,#cf5c0a 59.38% 62.5%,#ce5a0a 62.5% 65.62%,#cd590a 65.62% 68.75%,#cc570a 68.75% 71.88%,#cc550a 71.88% 75%,#cb530a 75% 78.12%,#ca520a 78.12% 84.38%,#cb530a 84.38% 93.75%,#cc540a 93.75% 100%)"></div>
<div class="c" style="left:756.9px;top:403.72px;width:294.85px;height:33.24px;background:linear-gradient(to right,#da700c 0% 3.12%,#da6f0c 3.12% 6.25%,#d96f0c 6.25% 9.38%,#d96e0c 9.38% 12.5%,#d86d0c 12.5% 18.75%,#d86c0c 18.75% 21.88%,#d76b0c 21.88% 28.12%,#d76a0c 28.12% 31.25%,#d66a0c 31.25% 34.38%,#d6690c 34.38% 37.5%,#d5680c 37.5% 43.75%,#d5670c 43.75% 46.88%,#d4660c 46.88% 50%,#d4650c 50% 53.12%,#d3630c 53.12% 56.25%,#d2620b 56.25% 59.38%,#d1600b 59.38% 62.5%,#d05e0b 62.5% 65.62%,#cf5d0b 65.62% 68.75%,#ce5b0b 68.75% 71.88%,#ce590a 71.88% 75%,#cd570a 75% 78.12%,#cc560a 78.12% 84.38%,#cd570a 84.38% 93.75%,#ce580a 93.75% 100%)"></div>
<div class="c" style="left:756.9px;top:436.46px;width:294.85px;height:33.24px;background:linear-gradient(to right,#dc780e 0% 3.12%,#dc770e 3.12% 6.25%,#db760e 6.25% 12.5%,#da750d 12.5% 15.62%,#da740d 15.62% 18.75%,#da730d 18.75% 21.88%,#d9730d 21.88% 25%,#d9720d 25% 28.12%,#d9710d 28.12% 31.25%,#d8700d 31.25% 34.38%,#d86f0d 34.38% 37.5%,#d76f0c 37.5% 40.62%,#d76e0c 40.62% 43.75%,#d76d0c 43.75% 46.88%,#d66c0c 46.88% 50%,#d66b0c 50% 53.12%,#d5690c 53.12% 56.25%,#d4680b 56.25% 59.38%,#d4660b 59.38% 62.5%,#d3640b 62.5% 65.62%,#d2630b 65.62% 68.75%,#d2610b 68.75% 71.88%,#d15f0a 71.88% 75%,#d15d0a 75% 78.12%,#d05c0a 78.12% 84.38%,#d05d0a 84.38% 93.75%,#d05e0a 93.75% 100%)"></div>
<div class="c" style="left:756.9px;top:469.2px;width:294.85px;height:33.24px;background:linear-gradient(to right,#dc7a0e 0% 3.12%,#dc790e 3.12% 6.25%,#db780e 6.25% 9.38%,#db770e 9.38% 12.5%,#db760d 12.5% 15.62%,#db750d 15.62% 18.75%,#da750d 18.75% 21.88%,#da740d 21.88% 25%,#da730d 25% 28.12%,#da720d 28.12% 31.25%,#d9710d 31.25% 34.38%,#d9700d 34.38% 37.5%,#d96f0c 37.5% 40.62%,#d96e0c 40.62% 43.75%,#d86d0c 43.75% 46.88%,#d86c0c 46.88% 50%,#d86b0c 50% 53.12%,#d76a0c 53.12% 56.25%,#d7690c 56.25% 59.38%,#d6670c 59.38% 62.5%,#d6660c 62.5% 65.62%,#d5640c 65.62% 68.75%,#d5630c 68.75% 71.88%,#d5620c 71.88% 75%,#d4600c 75% 81.25%,#d4610c 81.25% 93.75%,#d4620c 93.75% 100%)"></div>
<div class="c" style="left:756.9px;top:501.94px;width:294.85px;height:33.24px;background:linear-gradient(to right,#de800e 0% 3.12%,#de7f0e 3.12% 9.38%,#de7e0e 9.38% 12.5%,#dd7d0e 12.5% 18.75%,#dd7c0e 18.75% 21.88%,#dd7b0e 21.88% 28.12%,#dd7a0e 28.12% 34.38%,#dd790e 34.38% 37.5%,#dc780e 37.5% 43.75%,#dc770e 43.75% 46.88%,#dc760e 46.88% 50%,#dc750e 50% 53.12%,#db740e 53.12% 56.25%,#db730e 56.25% 59.38%,#da720e 59.38% 62.5%,#da710e 62.5% 65.62%,#da700e 65.62% 68.75%,#d96f0e 68.75% 71.88%,#d96e0e 71.88% 75%,#d86d0e 75% 78.12%,#d86c0e 78.12% 84.38%,#d86d0e 84.38% 93.75%,#d86e0e 93.75% 100%)"></div>
<div class="c" style="left:756.9px;top:534.68px;width:294.85px;height:33.24px;background:linear-gradient(to right,#e08a10 0% 3.12%,#e08910 3.12% 6.25%,#df8810 6.25% 12.5%,#df870f 12.5% 15.62%,#df860f 15.62% 18.75%,#de850f 18.75% 25%,#de840f 25% 28.12%,#de830f 28.12% 31.25%,#dd820f 31.25% 34.38%,#dd810f 34.38% 37.5%,#dd810e 37.5% 40.62%,#dd800e 40.62% 43.75%,#dc7f0e 43.75% 46.88%,#dc7e0e 46.88% 50%,#dc7d0e 50% 53.12%,#dc7c0e 53.12% 56.25%,#db7b0e 56.25% 59.38%,#db7a0e 59.38% 62.5%,#db790e 62.5% 65.62%,#db780e 65.62% 68.75%,#db770e 68.75% 71.88%,#da760e 71.88% 75%,#da750e 75% 78.12%,#da740e 78.12% 84.38%,#da750e 84.38% 93.75%,#da760e 93.75% 100%)"></div>
<div class="c" style="left:756.9px;top:567.42px;width:294.85px;height:33.24px;background:linear-gradient(to right,#e8a20e 0% 3.12%,#e8a10e 3.12% 9.38%,#e8a00e 9.38% 12.5%,#e79f0e 12.5% 18.75%,#e79e0e 18.75% 21.88%,#e79d0e 21.88% 28.12%,#e79c0e 28.12% 34.38%,#e79b0e 34.38% 37.5%,#e69a0e 37.5% 43.75%,#e6990e 43.75% 46.88%,#e6980e 46.88% 53.12%,#e6970e 53.12% 56.25%,#e5960e 56.25% 59.38%,#e5950e 59.38% 62.5%,#e5940e 62.5% 65.62%,#e5930e 65.62% 68.75%,#e4920e 68.75% 71.88%,#e4910e 71.88% 75%,#e4900e 75% 78.12%,#e48f0e 78.12% 81.25%,#e38f0e 81.25% 84.38%,#e38e0e 84.38% 87.5%,#e38d0e 87.5% 90.62%,#e38c0e 90.62% 93.75%,#e28b0e 93.75% 96.88%,#e28a0e 96.88% 100%)"></div>
<div class="c" style="left:756.9px;top:600.16px;width:294.85px;height:33.24px;background:linear-gradient(to right,#ecb408 0% 3.12%,#ecb607 3.12% 6.25%,#ecb807 6.25% 9.38%,#ecba06 9.38% 12.5%,#ecb906 12.5% 15.62%,#ecb807 15.62% 18.75%,#ecb707 18.75% 21.88%,#ebb607 21.88% 25%,#ebb508 25% 28.12%,#ebb408 28.12% 31.25%,#ebb308 31.25% 34.38%,#ebb209 34.38% 37.5%,#ebb109 37.5% 40.62%,#eab009 40.62% 43.75%,#eaaf0a 43.75% 46.88%,#eaae0a 46.88% 53.12%,#eaad0a 53.12% 56.25%,#eaac0b 56.25% 59.38%,#eaab0b 59.38% 62.5%,#e9ab0b 62.5% 65.62%,#e9aa0b 65.62% 68.75%,#e9a90c 68.75% 71.88%,#e9a80c 71.88% 75%,#e9a70c 75% 81.25%,#e9a60d 81.25% 84.38%,#e9a50d 84.38% 87.5%,#e8a40d 87.5% 93.75%,#e8a30e 93.75% 96.88%,#e8a20e 96.88% 100%)"></div>
<div class="c" style="left:756.9px;top:632.9px;width:294.85px;height:33.24px;background:linear-gradient(to right,#7e8818 0% 3.12%,#818918 3.12% 6.25%,#848b17 6.25% 9.38%,#888c17 9.38% 12.5%,#8b8d17 12.5% 15.62%,#8e8e16 15.62% 18.75%,#919016 18.75% 21.88%,#979315 21.88% 25%,#9e9614 25% 28.12%,#a49a14 28.12% 31.25%,#ab9d13 31.25% 34.38%,#b1a012 34.38% 37.5%,#b6a211 37.5% 40.62%,#bba510 40.62% 43.75%,#c0a70f 43.75% 46.88%,#c5a90e 46.88% 50%,#caab0e 50% 53.12%,#cdac0d 53.12% 56.25%,#d0ad0c 56.25% 59.38%,#d6b00b 59.38% 62.5%,#dfb408 62.5% 65.62%,#e8b906 65.62% 68.75%,#eebc04 68.75% 100%)"></div>
<div class="c" style="left:756.9px;top:665.64px;width:294.85px;height:33.24px;background:linear-gradient(to right,#96a678 0% 3.12%,#94a474 3.12% 6.25%,#92a371 6.25% 9.38%,#90a16d 9.38% 12.5%,#8ea06a 12.5% 15.62%,#8c9e66 15.62% 18.75%,#8a9c63 18.75% 21.88%,#889a5f 21.88% 25%,#85985b 25% 28.12%,#839657 28.12% 31.25%,#809353 31.25% 34.38%,#7e914f 34.38% 37.5%,#7b8f4c 37.5% 40.62%,#778c44 40.62% 43.75%,#73893b 43.75% 46.88%,#6f8631 46.88% 50%,#6b8328 50% 53.12%,#66801e 53.12% 56.25%,#627b1b 56.25% 59.38%,#5d7519 59.38% 62.5%,#617718 62.5% 65.62%,#677a18 65.62% 68.75%,#6d7e18 68.75% 71.88%,#738118 71.88% 75%,#758318 75% 78.12%,#768318 78.12% 81.25%,#788418 81.25% 84.38%,#798518 84.38% 87.5%,#7a8618 87.5% 90.62%,#7b8618 90.62% 93.75%,#7d8718 93.75% 96.88%,#7e8818 96.88% 100%)"></div>
<div class="c" style="left:756.9px;top:698.38px;width:294.85px;height:33.24px;background:linear-gradient(to right,#b8ccca 0% 3.12%,#b9cdca 3.12% 6.25%,#bacdca 6.25% 9.38%,#bbceca 9.38% 12.5%,#bbcecb 12.5% 15.62%,#bccfcb 15.62% 18.75%,#bdcfcb 18.75% 21.88%,#bed0cb 21.88% 25%,#bfd1cb 25% 28.12%,#c0d1cb 28.12% 31.25%,#c1d2cb 31.25% 34.38%,#c1d2cc 34.38% 37.5%,#c2d3cc 37.5% 40.62%,#c3d3cc 40.62% 43.75%,#c4d4cc 43.75% 46.88%,#c0d0c4 46.88% 50%,#bdcdbc 50% 53.12%,#bacab5 53.12% 56.25%,#b6c6ad 56.25% 59.38%,#b3c3a6 59.38% 62.5%,#afbf9f 62.5% 65.62%,#abbb99 65.62% 68.75%,#a7b793 68.75% 71.88%,#a3b38d 71.88% 75%,#a2b28c 75% 78.12%,#a1b28b 78.12% 81.25%,#a1b18b 81.25% 84.38%,#a0b18a 84.38% 90.62%,#9fb189 90.62% 93.75%,#9fb089 93.75% 96.88%,#9eb088 96.88% 100%)"></div>
<div class="c" style="left:756.9px;top:731.12px;width:294.85px;height:33.24px;background:linear-gradient(to right,#8eaac0 0% 3.12%,#8fabc0 3.12% 6.25%,#90abc0 6.25% 9.38%,#91acc0 9.38% 12.5%,#93adc1 12.5% 15.62%,#94adc1 15.62% 18.75%,#95aec1 18.75% 21.88%,#96afc1 21.88% 25%,#97afc1 25% 28.12%,#98b0c1 28.12% 31.25%,#9ab0c1 31.25% 34.38%,#9bb1c1 34.38% 37.5%,#9cb2c2 37.5% 40.62%,#9db2c2 40.62% 43.75%,#9eb3c2 43.75% 46.88%,#9fb4c2 46.88% 50%,#a1b5c2 50% 53.12%,#a2b6c3 53.12% 56.25%,#a3b7c3 56.25% 59.38%,#a4b8c4 59.38% 62.5%,#a5b9c4 62.5% 65.62%,#a6bac5 65.62% 68.75%,#a7bbc5 68.75% 71.88%,#a8bcc6 71.88% 75%,#a9bdc6 75% 78.12%,#aabec7 78.12% 81.25%,#abbfc7 81.25% 84.38%,#acc0c8 84.38% 87.5%,#adc1c8 87.5% 90.62%,#aec2c9 90.62% 93.75%,#afc3c9 93.75% 96.88%,#b0c4ca 96.88% 100%)"></div>
<div class="c" style="left:756.9px;top:763.86px;width:294.85px;height:33.24px;background:linear-gradient(to right,#7080a8 0% 3.12%,#7181a9 3.12% 6.25%,#7182a9 6.25% 9.38%,#7283aa 9.38% 12.5%,#7384aa 12.5% 15.62%,#7385ab 15.62% 18.75%,#7486ab 18.75% 21.88%,#7587ac 21.88% 25%,#7588ac 25% 28.12%,#7689ad 28.12% 31.25%,#768aad 31.25% 34.38%,#778bae 34.38% 37.5%,#788cae 37.5% 40.62%,#788daf 40.62% 43.75%,#798eaf 43.75% 46.88%,#7a8fb0 46.88% 50%,#7a91b0 50% 53.12%,#7b92b1 53.12% 56.25%,#7c93b2 56.25% 59.38%,#7d95b3 59.38% 62.5%,#7e96b3 62.5% 65.62%,#7f97b4 65.62% 68.75%,#8098b5 68.75% 71.88%,#819ab6 71.88% 75%,#829bb7 75% 78.12%,#839cb7 78.12% 81.25%,#839eb8 81.25% 84.38%,#849fb9 84.38% 87.5%,#85a0ba 87.5% 90.62%,#86a1ba 90.62% 93.75%,#87a3bb 93.75% 96.88%,#88a4bc 96.88% 100%)"></div>
<div class="c" style="left:1051.35px;top:141.8px;width:294.85px;height:33.24px;background:linear-gradient(to right,#d05c0c 0% 3.12%,#cf5a0c 3.12% 6.25%,#ce580c 6.25% 9.38%,#cd560b 9.38% 12.5%,#cc530b 12.5% 15.62%,#cb510b 15.62% 18.75%,#ca4f0b 18.75% 21.88%,#c84d0a 21.88% 25%,#c74b0a 25% 28.12%,#c6490a 28.12% 31.25%,#c6480a 31.25% 40.62%,#c54709 40.62% 56.25%,#c44608 56.25% 65.62%,#c34308 65.62% 68.75%,#c13f08 68.75% 71.88%,#bf3b08 71.88% 75%,#bd3708 75% 78.12%,#bc3408 78.12% 81.25%,#bd3508 81.25% 84.38%,#bd3608 84.38% 87.5%,#be3708 87.5% 90.62%,#bf3808 90.62% 93.75%,#bf3908 93.75% 96.88%,#c03a08 96.88% 100%)"></div>
<div class="c" style="left:1051.35px;top:174.54px;width:294.85px;height:33.24px;background:linear-gradient(to right,#d05e0c 0% 3.12%,#cf5c0c 3.12% 6.25%,#ce5a0c 6.25% 9.38%,#cd580b 9.38% 12.5%,#cd560b 12.5% 15.62%,#cc540b 15.62% 18.75%,#cb520b 18.75% 21.88%,#ca500a 21.88% 25%,#c94f0a 25% 28.12%,#c84d0a 28.12% 31.25%,#c84b0a 31.25% 34.38%,#c74b0a 34.38% 37.5%,#c74a0a 37.5% 40.62%,#c74909 40.62% 43.75%,#c64909 43.75% 46.88%,#c64809 46.88% 50%,#c64709 50% 53.12%,#c54609 53.12% 56.25%,#c54608 56.25% 59.38%,#c44508 59.38% 62.5%,#c44408 62.5% 65.62%,#c34208 65.62% 68.75%,#c23f08 68.75% 71.88%,#c03d08 71.88% 75%,#bf3a08 75% 78.12%,#be3808 78.12% 81.25%,#bf3908 81.25% 87.5%,#c03a08 87.5% 90.62%,#c13b08 90.62% 96.88%,#c23c08 96.88% 100%)"></div>
<div class="c" style="left:1051.35px;top:207.28px;width:294.85px;height:33.24px;background:linear-gradient(to right,#d2600c 0% 3.12%,#d15e0c 3.12% 6.25%,#d05c0c 6.25% 9.38%,#cf5a0b 9.38% 12.5%,#ce580b 12.5% 15.62%,#cd560b 15.62% 18.75%,#cc540b 18.75% 21.88%,#ca520a 21.88% 25%,#c9510a 25% 28.12%,#c84f0a 28.12% 31.25%,#c84e0a 31.25% 34.38%,#c84d0a 34.38% 40.62%,#c74d0a 40.62% 43.75%,#c74c0a 43.75% 53.12%,#c74b0a 53.12% 56.25%,#c64b0a 56.25% 59.38%,#c64a0a 59.38% 65.62%,#c5470a 65.62% 68.75%,#c44409 68.75% 71.88%,#c24109 71.88% 75%,#c13e08 75% 78.12%,#c03c08 78.12% 84.38%,#c13d08 84.38% 93.75%,#c23e08 93.75% 100%)"></div>
<div class="c" style="left:1051.35px;top:240.02px;width:294.85px;height:33.24px;background:linear-gradient(to right,#d2620c 0% 3.12%,#d1600c 3.12% 6.25%,#d05e0c 6.25% 9.38%,#cf5c0b 9.38% 12.5%,#cf5a0b 12.5% 15.62%,#ce580b 15.62% 18.75%,#cd560b 18.75% 21.88%,#cc540a 21.88% 25%,#cb530a 25% 28.12%,#ca510a 28.12% 31.25%,#ca500a 31.25% 34.38%,#ca4f0a 34.38% 40.62%,#c94f0a 40.62% 43.75%,#c94e0a 43.75% 53.12%,#c94d0a 53.12% 56.25%,#c84d0a 56.25% 59.38%,#c84c0a 59.38% 65.62%,#c7490a 65.62% 68.75%,#c64609 68.75% 71.88%,#c44309 71.88% 75%,#c34008 75% 78.12%,#c23e08 78.12% 84.38%,#c33f08 84.38% 93.75%,#c44008 93.75% 100%)"></div>
<div class="c" style="left:1051.35px;top:272.76px;width:294.85px;height:33.24px;background:linear-gradient(to right,#d4640c 0% 3.12%,#d3620c 3.12% 6.25%,#d2600c 6.25% 9.38%,#d15e0b 9.38% 12.5%,#d05c0b 12.5% 15.62%,#cf5a0b 15.62% 18.75%,#ce580b 18.75% 21.88%,#cc560a 21.88% 25%,#cb550a 25% 28.12%,#ca530a 28.12% 31.25%,#ca520a 31.25% 34.38%,#ca510a 34.38% 40.62%,#c9510a 40.62% 43.75%,#c9500a 43.75% 53.12%,#c94f0a 53.12% 56.25%,#c84f0a 56.25% 59.38%,#c84e0a 59.38% 65.62%,#c74b0a 65.62% 68.75%,#c64809 68.75% 71.88%,#c44509 71.88% 75%,#c34208 75% 78.12%,#c24008 78.12% 84.38%,#c34108 84.38% 93.75%,#c44208 93.75% 100%)"></div>
<div class="c" style="left:1051.35px;top:305.5px;width:294.85px;height:33.24px;background:linear-gradient(to right,#d4660c 0% 3.12%,#d3640c 3.12% 6.25%,#d2620c 6.25% 9.38%,#d1600b 9.38% 12.5%,#d15e0b 12.5% 15.62%,#d05c0b 15.62% 18.75%,#cf5a0b 18.75% 21.88%,#ce580a 21.88% 25%,#cd570a 25% 28.12%,#cc550a 28.12% 31.25%,#cc540a 31.25% 34.38%,#cc530a 34.38% 40.62%,#cb530a 40.62% 43.75%,#cb520a 43.75% 53.12%,#cb510a 53.12% 56.25%,#ca510a 56.25% 59.38%,#ca500a 59.38% 65.62%,#c94d0a 65.62% 68.75%,#c84a09 68.75% 71.88%,#c64709 71.88% 75%,#c54408 75% 78.12%,#c44208 78.12% 84.38%,#c44308 84.38% 93.75%,#c44408 93.75% 100%)"></div>
<div class="c" style="left:1051.35px;top:338.24px;width:294.85px;height:33.24px;background:linear-gradient(to right,#d6680c 0% 3.12%,#d5660c 3.12% 6.25%,#d4640c 6.25% 9.38%,#d3620b 9.38% 12.5%,#d3600b 12.5% 15.62%,#d25e0b 15.62% 18.75%,#d15c0b 18.75% 21.88%,#d05a0a 21.88% 25%,#cf590a 25% 28.12%,#ce570a 28.12% 31.25%,#ce560a 31.25% 40.62%,#cd550a 40.62% 56.25%,#cc540a 56.25% 65.62%,#cb510a 65.62% 68.75%,#c94e09 68.75% 71.88%,#c74a09 71.88% 75%,#c54708 75% 78.12%,#c44408 78.12% 84.38%,#c54508 84.38% 93.75%,#c64608 93.75% 100%)"></div>
<div class="c" style="left:1051.35px;top:370.98px;width:294.85px;height:33.24px;background:linear-gradient(to right,#d66a0c 0% 3.12%,#d5680c 3.12% 6.25%,#d4660c 6.25% 9.38%,#d3640b 9.38% 12.5%,#d3620b 12.5% 15.62%,#d2600b 15.62% 18.75%,#d15e0b 18.75% 21.88%,#d05c0a 21.88% 25%,#cf5b0a 25% 28.12%,#ce590a 28.12% 31.25%,#ce580a 31.25% 40.62%,#cd570a 40.62% 56.25%,#cc560a 56.25% 65.62%,#cb530a 65.62% 68.75%,#ca5009 68.75% 71.88%,#c84d09 71.88% 75%,#c74a08 75% 78.12%,#c64808 78.12% 84.38%,#c74909 84.38% 93.75%,#c84a0a 93.75% 100%)"></div>
<div class="c" style="left:1051.35px;top:403.72px;width:294.85px;height:33.24px;background:linear-gradient(to right,#d86e0c 0% 3.12%,#d76c0c 3.12% 6.25%,#d66b0c 6.25% 9.38%,#d5690b 9.38% 12.5%,#d5670b 12.5% 15.62%,#d4650b 15.62% 18.75%,#d3640b 18.75% 21.88%,#d2620a 21.88% 25%,#d1600a 25% 28.12%,#d05f0a 28.12% 31.25%,#d05e0a 31.25% 34.38%,#d05d0a 34.38% 40.62%,#cf5d0a 40.62% 43.75%,#cf5c0a 43.75% 53.12%,#cf5b0a 53.12% 56.25%,#ce5b0a 56.25% 59.38%,#ce5a0a 59.38% 65.62%,#cd570a 65.62% 68.75%,#cc540a 68.75% 71.88%,#ca510a 71.88% 75%,#c94e0a 75% 78.12%,#c84c0a 78.12% 84.38%,#c94d0a 84.38% 93.75%,#ca4e0a 93.75% 100%)"></div>
<div class="c" style="left:1051.35px;top:436.46px;width:294.85px;height:33.24px;background:linear-gradient(to right,#dc760e 0% 3.12%,#db740e 3.12% 6.25%,#da730e 6.25% 9.38%,#d9710d 9.38% 12.5%,#d96f0d 12.5% 15.62%,#d86d0d 15.62% 18.75%,#d76c0d 18.75% 21.88%,#d66a0c 21.88% 25%,#d5680c 25% 28.12%,#d4670c 28.12% 31.25%,#d4660c 31.25% 34.38%,#d3650c 34.38% 40.62%,#d3640c 40.62% 43.75%,#d2630c 43.75% 50%,#d2620c 50% 53.12%,#d1620c 53.12% 56.25%,#d1610c 56.25% 59.38%,#d0610c 59.38% 62.5%,#d0600c 62.5% 65.62%,#cf5d0c 65.62% 68.75%,#ce5a0b 68.75% 71.88%,#cc570b 71.88% 75%,#cb540a 75% 78.12%,#ca520a 78.12% 84.38%,#cb530a 84.38% 93.75%,#cc540a 93.75% 100%)"></div>
<div class="c" style="left:1051.35px;top:469.2px;width:294.85px;height:33.24px;background:linear-gradient(to right,#dc7a0e 0% 3.12%,#dc790e 3.12% 6.25%,#db780e 6.25% 12.5%,#db770d 12.5% 15.62%,#db760d 15.62% 18.75%,#da750d 18.75% 25%,#da740d 25% 28.12%,#da730d 28.12% 31.25%,#d9720d 31.25% 34.38%,#d9710d 34.38% 37.5%,#d9710c 37.5% 40.62%,#d9700c 40.62% 43.75%,#d86f0c 43.75% 46.88%,#d86e0c 46.88% 53.12%,#d76d0c 53.12% 56.25%,#d66c0c 56.25% 62.5%,#d56b0c 62.5% 65.62%,#d46a0c 65.62% 68.75%,#d4680c 68.75% 71.88%,#d2630b 71.88% 75%,#d15e0b 75% 78.12%,#d05a0a 78.12% 81.25%,#d05b0a 81.25% 84.38%,#d15c0b 84.38% 87.5%,#d15d0b 87.5% 90.62%,#d15e0b 90.62% 93.75%,#d25f0c 93.75% 96.88%,#d2600c 96.88% 100%)"></div>
<div class="c" style="left:1051.35px;top:501.94px;width:294.85px;height:33.24px;background:linear-gradient(to right,#de800e 0% 3.12%,#de7f0e 3.12% 6.25%,#dd7e0e 6.25% 12.5%,#dd7d0e 12.5% 15.62%,#dd7c0e 15.62% 18.75%,#dc7b0e 18.75% 25%,#dc7a0e 25% 28.12%,#dc790e 28.12% 31.25%,#db780e 31.25% 34.38%,#db770e 34.38% 40.62%,#db760e 40.62% 43.75%,#da750e 43.75% 46.88%,#da740e 46.88% 53.12%,#d9730e 53.12% 56.25%,#d9720e 56.25% 59.38%,#d8710e 59.38% 62.5%,#d8700e 62.5% 65.62%,#d86f0e 65.62% 68.75%,#d76e0e 68.75% 75%,#d66d0e 75% 78.12%,#d66c0e 78.12% 84.38%,#d56b0e 84.38% 93.75%,#d46a0e 93.75% 100%)"></div>
<div class="c" style="left:1051.35px;top:534.68px;width:294.85px;height:33.24px;background:linear-gradient(to right,#e08e10 0% 3.12%,#e08d10 3.12% 6.25%,#df8c10 6.25% 9.38%,#df8b10 9.38% 12.5%,#df8a0f 12.5% 15.62%,#df890f 15.62% 18.75%,#de880f 18.75% 21.88%,#de870f 21.88% 25%,#de860f 25% 28.12%,#de850f 28.12% 31.25%,#dd840f 31.25% 34.38%,#dd830f 34.38% 37.5%,#dd820e 37.5% 40.62%,#dd810e 40.62% 43.75%,#dc800e 43.75% 46.88%,#dc7f0e 46.88% 50%,#dc7e0e 50% 53.12%,#dc7d0e 53.12% 56.25%,#db7c0e 56.25% 59.38%,#db7b0e 59.38% 62.5%,#db7a0e 62.5% 65.62%,#db790e 65.62% 68.75%,#db780e 68.75% 71.88%,#da780e 71.88% 75%,#da770e 75% 78.12%,#da760e 78.12% 81.25%,#da750e 81.25% 84.38%,#d9750e 84.38% 87.5%,#d9740e 87.5% 90.62%,#d9730e 90.62% 93.75%,#d8730e 93.75% 96.88%,#d8720e 96.88% 100%)"></div>
<div class="c" style="left:1051.35px;top:567.42px;width:294.85px;height:33.24px;background:linear-gradient(to right,#e8a60e 0% 3.12%,#e8a50e 3.12% 6.25%,#e7a40e 6.25% 9.38%,#e7a30e 9.38% 12.5%,#e7a20e 12.5% 15.62%,#e7a10e 15.62% 18.75%,#e6a00e 18.75% 21.88%,#e69f0e 21.88% 25%,#e69e0e 25% 28.12%,#e69d0e 28.12% 31.25%,#e59c0e 31.25% 34.38%,#e59b0e 34.38% 37.5%,#e59a0e 37.5% 40.62%,#e5990e 40.62% 43.75%,#e4980e 43.75% 46.88%,#e4970e 46.88% 50%,#e4950e 50% 53.12%,#e3940e 53.12% 56.25%,#e3930e 56.25% 59.38%,#e2910e 59.38% 62.5%,#e2900e 62.5% 65.62%,#e28f0e 65.62% 68.75%,#e18e0e 68.75% 71.88%,#e18c0e 71.88% 75%,#e08b0e 75% 78.12%,#e08a0e 78.12% 81.25%,#e0890e 81.25% 84.38%,#df890e 84.38% 87.5%,#df880e 87.5% 90.62%,#df870e 90.62% 93.75%,#de870e 93.75% 96.88%,#de860e 96.88% 100%)"></div>
<div class="c" style="left:1051.35px;top:600.16px;width:294.85px;height:33.24px;background:linear-gradient(to right,#ecbe04 0% 3.12%,#ecbd04 3.12% 6.25%,#ecbc05 6.25% 9.38%,#ecbb05 9.38% 12.5%,#ebba06 12.5% 15.62%,#ebb906 15.62% 21.88%,#ebb807 21.88% 25%,#ebb707 25% 28.12%,#ebb607 28.12% 31.25%,#ebb508 31.25% 34.38%,#ebb408 34.38% 37.5%,#eab309 37.5% 40.62%,#eab209 40.62% 43.75%,#eab109 43.75% 46.88%,#eab00a 46.88% 53.12%,#eaaf0a 53.12% 56.25%,#eaae0b 56.25% 62.5%,#e9ad0b 62.5% 65.62%,#e9ac0b 65.62% 68.75%,#e9ac0c 68.75% 71.88%,#e9ab0c 71.88% 78.12%,#e9aa0c 78.12% 81.25%,#e9a90d 81.25% 87.5%,#e8a80d 87.5% 90.62%,#e8a70d 90.62% 93.75%,#e8a70e 93.75% 96.88%,#e8a60e 96.88% 100%)"></div>
<div class="c" style="left:1051.35px;top:632.9px;width:294.85px;height:33.24px;background:linear-gradient(to right,#8a8c18 0% 3.12%,#8c8d18 3.12% 6.25%,#8f8f18 6.25% 9.38%,#919017 9.38% 12.5%,#939117 12.5% 15.62%,#969217 15.62% 18.75%,#989417 18.75% 21.88%,#9b9516 21.88% 25%,#9d9616 25% 28.12%,#9f9816 28.12% 31.25%,#a69b15 31.25% 34.38%,#ae9f13 34.38% 37.5%,#b7a211 37.5% 40.62%,#bfa60f 40.62% 43.75%,#c7aa0d 43.75% 46.88%,#d0ae0b 46.88% 50%,#d6b10a 50% 53.12%,#dab309 53.12% 56.25%,#deb608 56.25% 59.38%,#e3b807 59.38% 62.5%,#e7ba06 62.5% 65.62%,#ebbc05 65.62% 68.75%,#eebe04 68.75% 78.12%,#efbd04 78.12% 90.62%,#f0bc04 90.62% 100%)"></div>
<div class="c" style="left:1051.35px;top:665.64px;width:294.85px;height:33.24px;background:linear-gradient(to right,#90a06a 0% 3.12%,#8e9e67 3.12% 6.25%,#8c9d65 6.25% 9.38%,#8a9b62 9.38% 12.5%,#889a60 12.5% 15.62%,#86985d 15.62% 18.75%,#84965b 18.75% 21.88%,#829457 21.88% 25%,#7f9352 25% 28.12%,#7d914e 28.12% 31.25%,#7a8f4a 31.25% 34.38%,#788d46 34.38% 37.5%,#758b42 37.5% 40.62%,#71873b 40.62% 43.75%,#6c8232 43.75% 46.88%,#677e2a 46.88% 50%,#617921 50% 53.12%,#5c7418 53.12% 56.25%,#617618 56.25% 59.38%,#657918 59.38% 62.5%,#6a7c18 62.5% 65.62%,#6f7e18 65.62% 68.75%,#748118 68.75% 71.88%,#798318 71.88% 75%,#7c8518 75% 78.12%,#7e8618 78.12% 81.25%,#808718 81.25% 84.38%,#838818 84.38% 87.5%,#858918 87.5% 90.62%,#878a18 90.62% 93.75%,#8a8b18 93.75% 96.88%,#8c8c18 96.88% 100%)"></div>
<div class="c" style="left:1051.35px;top:698.38px;width:294.85px;height:33.24px;background:linear-gradient(to right,#bcd0cc 0% 3.12%,#bdd0cc 3.12% 6.25%,#bdd1cc 6.25% 9.38%,#bed1cc 9.38% 12.5%,#bfd1cc 12.5% 15.62%,#bfd2cc 15.62% 18.75%,#c0d2cc 18.75% 21.88%,#c1d2cc 21.88% 25%,#c1d3cc 25% 28.12%,#c2d3cc 28.12% 34.38%,#c3d4cc 34.38% 37.5%,#c4d4cc 37.5% 40.62%,#c3d3ca 40.62% 43.75%,#c2d1c7 43.75% 46.88%,#c1d0c4 46.88% 50%,#bfcec0 50% 53.12%,#becdbd 53.12% 56.25%,#bdcbba 56.25% 59.38%,#bac8b4 59.38% 62.5%,#b5c3ab 62.5% 65.62%,#b0bea1 65.62% 68.75%,#aab898 68.75% 71.88%,#a5b38e 71.88% 75%,#a3b18b 75% 78.12%,#a1b089 78.12% 81.25%,#a0af88 81.25% 84.38%,#9eae86 84.38% 87.5%,#9dad85 87.5% 90.62%,#9bac83 90.62% 93.75%,#9aab82 93.75% 96.88%,#98aa80 96.88% 100%)"></div>
<div class="c" style="left:1051.35px;top:731.12px;width:294.85px;height:33.24px;background:linear-gradient(to right,#8eaac0 0% 3.12%,#8fabc0 3.12% 6.25%,#90abc0 6.25% 9.38%,#91acc0 9.38% 12.5%,#93adc1 12.5% 15.62%,#94adc1 15.62% 18.75%,#95aec1 18.75% 21.88%,#96afc1 21.88% 25%,#97afc1 25% 28.12%,#98b0c1 28.12% 31.25%,#9ab0c1 31.25% 34.38%,#9bb1c1 34.38% 37.5%,#9cb2c2 37.5% 40.62%,#9db2c2 40.62% 43.75%,#9eb3c2 43.75% 46.88%,#9fb4c2 46.88% 50%,#a1b5c2 50% 53.12%,#a2b6c3 53.12% 56.25%,#a3b7c3 56.25% 59.38%,#a4b8c4 59.38% 62.5%,#a5b9c4 62.5% 65.62%,#a6bac5 65.62% 68.75%,#a8bbc5 68.75% 71.88%,#a9bcc6 71.88% 75%,#aabdc6 75% 78.12%,#abbec7 78.12% 81.25%,#acbfc7 81.25% 84.38%,#adc0c8 84.38% 87.5%,#afc1c8 87.5% 90.62%,#b0c2c9 90.62% 93.75%,#b1c3c9 93.75% 96.88%,#b2c4ca 96.88% 100%)"></div>
<div class="c" style="left:1051.35px;top:763.86px;width:294.85px;height:33.24px;background:linear-gradient(to right,#7080a8 0% 3.12%,#7181a9 3.12% 6.25%,#7182a9 6.25% 9.38%,#7283aa 9.38% 12.5%,#7384aa 12.5% 15.62%,#7385ab 15.62% 18.75%,#7485ab 18.75% 21.88%,#7586ac 21.88% 25%,#7587ac 25% 28.12%,#7688ad 28.12% 31.25%,#7689ad 31.25% 34.38%,#778aae 34.38% 37.5%,#788bae 37.5% 40.62%,#788caf 40.62% 43.75%,#798daf 43.75% 46.88%,#7a8eb0 46.88% 50%,#7a8fb0 50% 53.12%,#7b90b1 53.12% 56.25%,#7c92b2 56.25% 59.38%,#7d93b3 59.38% 62.5%,#7e94b3 62.5% 65.62%,#7f96b4 65.62% 68.75%,#8097b5 68.75% 71.88%,#8199b6 71.88% 75%,#829ab7 75% 78.12%,#839bb7 78.12% 81.25%,#839db8 81.25% 84.38%,#849eb9 84.38% 87.5%,#85a0ba 87.5% 90.62%,#86a1ba 90.62% 93.75%,#87a3bb 93.75% 96.88%,#88a4bc 96.88% 100%)"></div>
<div class="c" style="left:462.05px;top:141.8px;width:0.8px;height:654.8px;background:rgba(255,255,255,0.11)"></div>
<div class="c" style="left:756.5px;top:141.8px;width:0.8px;height:654.8px;background:rgba(255,255,255,0.11)"></div>
<div class="c" style="left:1050.95px;top:141.8px;width:0.8px;height:654.8px;background:rgba(255,255,255,0.11)"></div>
<div class="c" style="left:1366.6px;top:149.6px;width:39.2px;height:644.6px;background:linear-gradient(to top,#444888 0%,#6e7eac 10.4%,#7e94b6 14%,#94aec0 18.2%,#c2d2ca 29.6%,#8a9a68 36.6%,#5a7018 43%,#a89a10 51.9%,#ecbc00 57%,#eab00a 61.5%,#e89a10 68%,#e07c14 77.6%,#d86410 84.6%,#cc4a0e 92.6%,#c0340c 100%);box-shadow:0 0 0 0.8px #3a3a3a"></div>
<div class="c" style="left:170.8px;top:1014.6px;width:297.47px;height:33.37px;background:linear-gradient(to right,#7e8218 0% 3.12%,#7f8318 3.12% 9.38%,#808418 9.38% 12.5%,#818418 12.5% 15.62%,#818518 15.62% 18.75%,#828518 18.75% 21.88%,#838618 21.88% 28.12%,#848718 28.12% 34.38%,#858818 34.38% 37.5%,#868818 37.5% 40.62%,#868918 40.62% 43.75%,#878918 43.75% 46.88%,#888a18 46.88% 53.12%,#898a18 53.12% 56.25%,#898a17 56.25% 62.5%,#8a8b17 62.5% 68.75%,#8b8b16 68.75% 78.12%,#8c8b16 78.12% 81.25%,#8c8b15 81.25% 87.5%,#8d8c15 87.5% 93.75%,#8e8c14 93.75% 100%)"></div>
<div class="c" style="left:170.8px;top:1047.47px;width:297.47px;height:33.37px;background:linear-gradient(to right,#707c18 0% 3.12%,#717c18 3.12% 6.25%,#717d18 6.25% 9.38%,#727d18 9.38% 12.5%,#737d18 12.5% 18.75%,#747e18 18.75% 21.88%,#757e18 21.88% 28.12%,#767e18 28.12% 31.25%,#767f18 31.25% 34.38%,#777f18 34.38% 37.5%,#787f18 37.5% 43.75%,#798018 43.75% 46.88%,#7a8018 46.88% 53.12%,#7b8018 53.12% 56.25%,#7b8118 56.25% 62.5%,#7c8118 62.5% 68.75%,#7d8218 68.75% 78.12%,#7e8218 78.12% 81.25%,#7e8318 81.25% 87.5%,#7f8318 87.5% 93.75%,#808418 93.75% 100%)"></div>
<div class="c" style="left:170.8px;top:1080.34px;width:297.47px;height:33.37px;background:linear-gradient(to right,#687818 0% 6.25%,#697818 6.25% 12.5%,#697918 12.5% 18.75%,#6a7918 18.75% 31.25%,#6b7918 31.25% 37.5%,#6b7a18 37.5% 43.75%,#6c7a18 43.75% 53.12%,#6d7a18 53.12% 56.25%,#6e7b18 56.25% 62.5%,#6f7b18 62.5% 65.62%,#707b18 65.62% 68.75%,#707c18 68.75% 71.88%,#717c18 71.88% 78.12%,#727c18 78.12% 81.25%,#737d18 81.25% 87.5%,#747d18 87.5% 90.62%,#757d18 90.62% 93.75%,#757e18 93.75% 96.88%,#767e18 96.88% 100%)"></div>
<div class="c" style="left:170.8px;top:1113.21px;width:297.47px;height:33.37px;background:linear-gradient(to right,#607418 0% 12.5%,#617518 12.5% 37.5%,#627618 37.5% 53.12%,#637618 53.12% 56.25%,#637718 56.25% 59.38%,#647718 59.38% 65.62%,#657718 65.62% 68.75%,#657818 68.75% 71.88%,#667818 71.88% 78.12%,#677818 78.12% 81.25%,#677918 81.25% 84.38%,#687918 84.38% 90.62%,#697918 90.62% 93.75%,#697a18 93.75% 96.88%,#6a7a18 96.88% 100%)"></div>
<div class="c" style="left:170.8px;top:1146.08px;width:297.47px;height:33.37px;background:linear-gradient(to right,#647a24 0% 3.12%,#637a23 3.12% 6.25%,#637922 6.25% 9.38%,#627922 9.38% 12.5%,#627821 12.5% 15.62%,#617820 15.62% 18.75%,#61781f 18.75% 21.88%,#60771f 21.88% 25%,#60771e 25% 28.12%,#5f771d 28.12% 31.25%,#5f761c 31.25% 34.38%,#5e761b 34.38% 37.5%,#5e751b 37.5% 40.62%,#5d751a 40.62% 43.75%,#5d7519 43.75% 46.88%,#5c7418 46.88% 62.5%,#5d7418 62.5% 87.5%,#5e7418 87.5% 100%)"></div>
<div class="c" style="left:170.8px;top:1178.95px;width:297.47px;height:33.37px;background:linear-gradient(to right,#687e30 0% 3.12%,#677e2f 3.12% 6.25%,#677d2e 6.25% 9.38%,#667d2d 9.38% 12.5%,#667c2d 12.5% 15.62%,#657c2c 15.62% 18.75%,#657b2b 18.75% 21.88%,#647b2a 21.88% 25%,#647b29 25% 28.12%,#637a28 28.12% 31.25%,#637a27 31.25% 34.38%,#627927 34.38% 37.5%,#627926 37.5% 40.62%,#617825 40.62% 43.75%,#607824 43.75% 46.88%,#607823 46.88% 50%,#5f7722 50% 53.12%,#5f7721 53.12% 56.25%,#5e7621 56.25% 59.38%,#5e7620 59.38% 62.5%,#5e761f 62.5% 65.62%,#5d751e 65.62% 71.88%,#5d751d 71.88% 75%,#5c741d 75% 78.12%,#5c741c 78.12% 81.25%,#5c741b 81.25% 84.38%,#5b731b 84.38% 87.5%,#5b731a 87.5% 90.62%,#5b7319 90.62% 93.75%,#5a7219 93.75% 96.88%,#5a7218 96.88% 100%)"></div>
<div class="c" style="left:170.8px;top:1211.82px;width:297.47px;height:33.37px;background:linear-gradient(to right,#667e2e 0% 9.38%,#677e2f 9.38% 21.88%,#687e30 21.88% 34.38%,#677d2f 34.38% 37.5%,#677d2e 37.5% 40.62%,#667c2e 40.62% 43.75%,#667c2d 43.75% 46.88%,#657b2c 46.88% 53.12%,#647a2b 53.12% 56.25%,#647a2a 56.25% 59.38%,#63792a 59.38% 62.5%,#637929 62.5% 65.62%,#627828 65.62% 78.12%,#627929 78.12% 90.62%,#627a2a 90.62% 100%)"></div>
<div class="c" style="left:170.8px;top:1244.69px;width:297.47px;height:33.37px;background:linear-gradient(to right,#687e30 0% 6.25%,#697f31 6.25% 12.5%,#697f32 12.5% 18.75%,#6a8032 18.75% 21.88%,#6a8033 21.88% 31.25%,#6b8134 31.25% 37.5%,#6b8135 37.5% 43.75%,#6c8235 43.75% 46.88%,#6c8236 46.88% 53.12%,#6b8235 53.12% 59.38%,#6b8234 59.38% 62.5%,#6a8134 62.5% 65.62%,#6a8133 65.62% 68.75%,#698133 68.75% 71.88%,#698132 71.88% 78.12%,#688131 78.12% 84.38%,#688130 84.38% 87.5%,#678030 87.5% 90.62%,#67802f 90.62% 93.75%,#66802f 93.75% 96.88%,#66802e 96.88% 100%)"></div>
<div class="c" style="left:170.8px;top:1277.56px;width:297.47px;height:33.37px;background:linear-gradient(to right,#6c8236 0% 3.12%,#6c8237 3.12% 6.25%,#6d8337 6.25% 9.38%,#6d8338 9.38% 15.62%,#6d8339 15.62% 18.75%,#6e8439 18.75% 21.88%,#6e843a 21.88% 28.12%,#6e843b 28.12% 31.25%,#6f853b 31.25% 34.38%,#6f853c 34.38% 40.62%,#6f853d 40.62% 43.75%,#70863d 43.75% 46.88%,#70863e 46.88% 53.12%,#70863d 53.12% 56.25%,#6f853d 56.25% 62.5%,#6f853c 62.5% 68.75%,#6e843b 68.75% 78.12%,#6e843a 78.12% 81.25%,#6d833a 81.25% 87.5%,#6d8339 87.5% 93.75%,#6c8238 93.75% 100%)"></div>
<div class="c" style="left:170.8px;top:1310.43px;width:297.47px;height:33.37px;background:linear-gradient(to right,#768a46 0% 12.5%,#758a45 12.5% 37.5%,#748a44 37.5% 56.25%,#758a45 56.25% 62.5%,#758b45 62.5% 68.75%,#768b46 68.75% 81.25%,#778b47 81.25% 87.5%,#778c47 87.5% 93.75%,#788c48 93.75% 100%)"></div>
<div class="c" style="left:170.8px;top:1343.3px;width:297.47px;height:33.37px;background:linear-gradient(to right,#7e9050 0% 3.12%,#7e904f 3.12% 6.25%,#7d8f4f 6.25% 9.38%,#7d8f4e 9.38% 12.5%,#7c8f4e 12.5% 15.62%,#7c8f4d 15.62% 18.75%,#7c8e4d 18.75% 21.88%,#7b8e4c 21.88% 28.12%,#7b8e4b 28.12% 31.25%,#7a8d4b 31.25% 34.38%,#7a8d4a 34.38% 37.5%,#798d4a 37.5% 40.62%,#798d49 40.62% 43.75%,#798c49 43.75% 46.88%,#788c48 46.88% 50%,#788c49 50% 53.12%,#798d4a 53.12% 56.25%,#798d4b 56.25% 59.38%,#7a8d4c 59.38% 62.5%,#7a8e4d 62.5% 65.62%,#7b8e4e 65.62% 68.75%,#7b8f50 68.75% 71.88%,#7c8f51 71.88% 75%,#7c8f52 75% 78.12%,#7d9053 78.12% 81.25%,#7d9054 81.25% 84.38%,#7e9055 84.38% 87.5%,#7e9157 87.5% 90.62%,#7f9158 90.62% 93.75%,#7f9259 93.75% 96.88%,#80925a 96.88% 100%)"></div>
<div class="c" style="left:170.8px;top:1376.17px;width:297.47px;height:33.37px;background:linear-gradient(to right,#8a9c68 0% 3.12%,#8a9c67 3.12% 6.25%,#899b67 6.25% 9.38%,#899b66 9.38% 15.62%,#899b65 15.62% 18.75%,#889a65 18.75% 21.88%,#889a64 21.88% 28.12%,#889a63 28.12% 31.25%,#879963 31.25% 34.38%,#879962 34.38% 40.62%,#879961 40.62% 43.75%,#869861 43.75% 46.88%,#869860 46.88% 62.5%,#879961 62.5% 87.5%,#889a62 87.5% 100%)"></div>
<div class="c" style="left:170.8px;top:1409.04px;width:297.47px;height:33.37px;background:linear-gradient(to right,#9cae84 0% 3.12%,#9cae83 3.12% 6.25%,#9bad83 6.25% 9.38%,#9bad82 9.38% 12.5%,#9aac81 12.5% 18.75%,#9aac80 18.75% 21.88%,#99ab7f 21.88% 28.12%,#99ab7e 28.12% 31.25%,#98aa7e 31.25% 34.38%,#98aa7d 34.38% 37.5%,#97a97c 37.5% 43.75%,#97a97b 43.75% 46.88%,#96a87a 46.88% 56.25%,#96a87b 56.25% 62.5%,#97a97b 62.5% 68.75%,#97a97c 68.75% 81.25%,#97a97d 81.25% 87.5%,#98aa7d 87.5% 93.75%,#98aa7e 93.75% 100%)"></div>
<div class="c" style="left:170.8px;top:1441.91px;width:297.47px;height:33.37px;background:linear-gradient(to right,#bccec0 0% 3.12%,#bbcdbf 3.12% 6.25%,#bbcdbd 6.25% 9.38%,#baccbc 9.38% 12.5%,#baccba 12.5% 15.62%,#b9cbb9 15.62% 18.75%,#b9cbb7 18.75% 21.88%,#b8cab6 21.88% 25%,#b8cab5 25% 28.12%,#b7c9b3 28.12% 31.25%,#b7c9b2 31.25% 34.38%,#b6c8b0 34.38% 37.5%,#b6c8af 37.5% 40.62%,#b5c7ae 40.62% 43.75%,#b5c7ac 43.75% 46.88%,#b4c6ab 46.88% 50%,#b4c6aa 50% 53.12%,#b3c5a9 53.12% 56.25%,#b3c5a8 56.25% 59.38%,#b3c4a8 59.38% 62.5%,#b2c4a7 62.5% 65.62%,#b2c3a6 65.62% 68.75%,#b1c3a6 68.75% 71.88%,#b1c2a5 71.88% 78.12%,#b0c1a4 78.12% 81.25%,#b0c1a3 81.25% 84.38%,#b0c0a3 84.38% 87.5%,#afc0a2 87.5% 90.62%,#afbfa1 90.62% 93.75%,#aebfa1 93.75% 96.88%,#aebea0 96.88% 100%)"></div>
<div class="c" style="left:170.8px;top:1474.78px;width:297.47px;height:33.37px;background:linear-gradient(to right,#acc4c8 0% 3.12%,#adc5c8 3.12% 6.25%,#aec5c9 6.25% 9.38%,#aec6c9 9.38% 12.5%,#afc6c9 12.5% 15.62%,#b0c7c9 15.62% 18.75%,#b1c7ca 18.75% 21.88%,#b1c8ca 21.88% 25%,#b2c8ca 25% 28.12%,#b3c9ca 28.12% 31.25%,#b4c9cb 31.25% 34.38%,#b5cacb 34.38% 40.62%,#b6cbcb 40.62% 43.75%,#b7cbcc 43.75% 46.88%,#b8cccc 46.88% 56.25%,#b9cdcb 56.25% 68.75%,#baceca 68.75% 81.25%,#bbcfc9 81.25% 93.75%,#bcd0c8 93.75% 100%)"></div>
<div class="c" style="left:170.8px;top:1507.65px;width:297.47px;height:33.37px;background:linear-gradient(to right,#98b0c0 0% 3.12%,#99b1c0 3.12% 6.25%,#99b1c1 6.25% 9.38%,#9ab2c1 9.38% 12.5%,#9bb2c1 12.5% 15.62%,#9bb3c1 15.62% 18.75%,#9cb3c2 18.75% 21.88%,#9db4c2 21.88% 28.12%,#9eb5c2 28.12% 31.25%,#9eb5c3 31.25% 34.38%,#9fb6c3 34.38% 37.5%,#a0b6c3 37.5% 40.62%,#a0b7c3 40.62% 43.75%,#a1b7c4 43.75% 46.88%,#a2b8c4 46.88% 53.12%,#a3b9c4 53.12% 62.5%,#a4bac5 62.5% 68.75%,#a5bbc5 68.75% 78.12%,#a6bcc5 78.12% 87.5%,#a7bdc6 87.5% 93.75%,#a8bec6 93.75% 100%)"></div>
<div class="c" style="left:170.8px;top:1540.52px;width:297.47px;height:33.37px;background:linear-gradient(to right,#7c98b4 0% 3.12%,#7d99b5 3.12% 6.25%,#7e9ab5 6.25% 9.38%,#7e9bb6 9.38% 12.5%,#7f9cb6 12.5% 15.62%,#809db7 15.62% 18.75%,#819db7 18.75% 21.88%,#819eb8 21.88% 25%,#829fb8 25% 28.12%,#83a0b9 28.12% 31.25%,#84a1b9 31.25% 34.38%,#85a2ba 34.38% 37.5%,#85a3ba 37.5% 40.62%,#86a4bb 40.62% 43.75%,#87a5bb 43.75% 46.88%,#88a6bc 46.88% 53.12%,#89a7bc 53.12% 56.25%,#8aa7bd 56.25% 59.38%,#8aa8bd 59.38% 62.5%,#8ba8bd 62.5% 65.62%,#8ca9bd 65.62% 68.75%,#8ca9be 68.75% 71.88%,#8daabe 71.88% 78.12%,#8eabbe 78.12% 81.25%,#8fabbf 81.25% 84.38%,#8facbf 84.38% 87.5%,#90acbf 87.5% 90.62%,#91adbf 90.62% 93.75%,#91adc0 93.75% 96.88%,#92aec0 96.88% 100%)"></div>
<div class="c" style="left:170.8px;top:1573.39px;width:297.47px;height:33.37px;background:linear-gradient(to right,#6676a4 0% 3.12%,#6777a4 3.12% 6.25%,#6878a5 6.25% 12.5%,#6979a6 12.5% 15.62%,#6a7aa6 15.62% 18.75%,#6b7ba6 18.75% 21.88%,#6b7ba7 21.88% 25%,#6c7ca7 25% 28.12%,#6d7da7 28.12% 31.25%,#6e7ea8 31.25% 34.38%,#6f7fa8 34.38% 37.5%,#6f7fa9 37.5% 40.62%,#7080a9 40.62% 43.75%,#7181a9 43.75% 46.88%,#7282aa 46.88% 50%,#7283aa 50% 53.12%,#7384ab 53.12% 56.25%,#7485ab 56.25% 59.38%,#7486ab 59.38% 62.5%,#7587ac 62.5% 65.62%,#7688ac 65.62% 68.75%,#7689ad 68.75% 71.88%,#778aad 71.88% 75%,#778bad 75% 78.12%,#788cae 78.12% 81.25%,#798dae 81.25% 84.38%,#798eae 84.38% 87.5%,#7a8faf 87.5% 90.62%,#7b90af 90.62% 93.75%,#7b91b0 93.75% 96.88%,#7c92b0 96.88% 100%)"></div>
<div class="c" style="left:170.8px;top:1606.26px;width:297.47px;height:33.37px;background:linear-gradient(to right,#525a94 0% 3.12%,#535b95 3.12% 6.25%,#545c95 6.25% 9.38%,#545d96 9.38% 12.5%,#555e96 12.5% 15.62%,#565f97 15.62% 18.75%,#576097 18.75% 21.88%,#576198 21.88% 25%,#586298 25% 28.12%,#596399 28.12% 31.25%,#5a6499 31.25% 34.38%,#5b659a 34.38% 37.5%,#5b669a 37.5% 40.62%,#5c679b 40.62% 43.75%,#5d689b 43.75% 46.88%,#5e699c 46.88% 50%,#5e6a9c 50% 53.12%,#5f6b9c 53.12% 59.38%,#606c9c 59.38% 62.5%,#606c9d 62.5% 65.62%,#616d9d 65.62% 71.88%,#626e9d 71.88% 78.12%,#636f9d 78.12% 84.38%,#64709d 84.38% 87.5%,#64709e 87.5% 90.62%,#65719e 90.62% 96.88%,#66729e 96.88% 100%)"></div>
<div class="c" style="left:170.8px;top:1639.13px;width:297.47px;height:33.37px;background:linear-gradient(to right,#444a88 0% 3.12%,#454b89 3.12% 9.38%,#464c8a 9.38% 12.5%,#464d8a 12.5% 15.62%,#474d8b 15.62% 18.75%,#474e8b 18.75% 21.88%,#484f8c 21.88% 28.12%,#49508d 28.12% 34.38%,#4a518e 34.38% 37.5%,#4a528e 37.5% 40.62%,#4b528f 40.62% 43.75%,#4b538f 43.75% 46.88%,#4c5490 46.88% 53.12%,#4d5590 53.12% 56.25%,#4d5591 56.25% 59.38%,#4e5691 59.38% 65.62%,#4f5791 65.62% 68.75%,#4f5792 68.75% 71.88%,#505892 71.88% 78.12%,#515992 78.12% 81.25%,#515993 81.25% 84.38%,#525a93 84.38% 90.62%,#535b93 90.62% 93.75%,#535b94 93.75% 96.88%,#545c94 96.88% 100%)"></div>
<div class="c" style="left:467.88px;top:1014.6px;width:297.47px;height:33.37px;background:linear-gradient(to right,#ebaf0c 0% 100%)"></div>
<div class="c" style="left:467.88px;top:1047.47px;width:297.47px;height:33.37px;background:linear-gradient(to right,#ebaf0c 0% 100%)"></div>
<div class="c" style="left:467.88px;top:1080.34px;width:297.47px;height:33.37px;background:linear-gradient(to right,#ebb00c 0% 100%)"></div>
<div class="c" style="left:467.88px;top:1113.21px;width:297.47px;height:33.37px;background:linear-gradient(to right,#ecb40a 0% 100%)"></div>
<div class="c" style="left:467.88px;top:1146.08px;width:297.47px;height:33.37px;background:linear-gradient(to right,#ecb40a 0% 100%)"></div>
<div class="c" style="left:467.88px;top:1178.95px;width:297.47px;height:33.37px;background:linear-gradient(to right,#eeba06 0% 100%)"></div>
<div class="c" style="left:467.88px;top:1211.82px;width:297.47px;height:33.37px;background:linear-gradient(to right,#eeba06 0% 100%)"></div>
<div class="c" style="left:467.88px;top:1244.69px;width:297.47px;height:33.37px;background:linear-gradient(to right,#eebd04 0% 100%)"></div>
<div class="c" style="left:467.88px;top:1277.56px;width:297.47px;height:33.37px;background:linear-gradient(to right,#e8bc06 0% 3.12%,#e6bb06 3.12% 6.25%,#e4bb07 6.25% 9.38%,#e2ba07 9.38% 12.5%,#e0b907 12.5% 15.62%,#deb908 15.62% 18.75%,#dcb808 18.75% 21.88%,#ddb808 21.88% 25%,#deb908 25% 28.12%,#e0b907 28.12% 31.25%,#e1ba07 31.25% 34.38%,#e2ba07 34.38% 37.5%,#e3ba07 37.5% 40.62%,#e5bb07 40.62% 43.75%,#e6bb06 43.75% 46.88%,#e7bc06 46.88% 50%,#e8bc06 50% 53.12%,#e9bc06 53.12% 62.5%,#eabc05 62.5% 68.75%,#ebbc05 68.75% 78.12%,#ecbc05 78.12% 87.5%,#edbc04 87.5% 93.75%,#eebc04 93.75% 100%)"></div>
<div class="c" style="left:467.88px;top:1310.43px;width:297.47px;height:33.37px;background:linear-gradient(to right,#dcb40a 0% 6.25%,#dbb30a 6.25% 12.5%,#dab30b 12.5% 18.75%,#dab20b 18.75% 21.88%,#d9b20b 21.88% 31.25%,#d8b10b 31.25% 37.5%,#d7b10c 37.5% 43.75%,#d7b00c 43.75% 46.88%,#d6b00c 46.88% 50%,#d7b00c 50% 53.12%,#d8b10b 53.12% 56.25%,#d9b20b 56.25% 59.38%,#dab20b 59.38% 62.5%,#dbb30a 62.5% 65.62%,#dcb40a 65.62% 68.75%,#deb409 68.75% 71.88%,#dfb509 71.88% 75%,#e0b509 75% 78.12%,#e1b608 78.12% 81.25%,#e2b708 81.25% 84.38%,#e3b708 84.38% 87.5%,#e5b807 87.5% 90.62%,#e6b907 90.62% 93.75%,#e7b906 93.75% 96.88%,#e8ba06 96.88% 100%)"></div>
<div class="c" style="left:467.88px;top:1343.3px;width:297.47px;height:33.37px;background:linear-gradient(to right,#c8aa12 0% 3.12%,#c9ab11 3.12% 6.25%,#cbab11 6.25% 9.38%,#ccac10 9.38% 12.5%,#cead0f 12.5% 15.62%,#cfae0e 15.62% 18.75%,#d1ae0e 18.75% 21.88%,#d2af0d 21.88% 25%,#d4b00c 25% 28.12%,#d5b10b 28.12% 31.25%,#d7b10b 31.25% 34.38%,#d8b20a 34.38% 37.5%,#d6b10b 37.5% 40.62%,#d4b00c 40.62% 43.75%,#d1af0c 43.75% 46.88%,#cfae0d 46.88% 50%,#cdad0e 50% 53.12%,#cbac0f 53.12% 56.25%,#c9ab10 56.25% 59.38%,#c8aa10 59.38% 62.5%,#c9aa10 62.5% 65.62%,#caab10 65.62% 68.75%,#cbab0f 68.75% 71.88%,#ccab0f 71.88% 75%,#ccac0f 75% 78.12%,#cdac0f 78.12% 81.25%,#ceac0f 81.25% 84.38%,#cfad0f 84.38% 87.5%,#d0ad0e 87.5% 93.75%,#d1ae0e 93.75% 96.88%,#d2ae0e 96.88% 100%)"></div>
<div class="c" style="left:467.88px;top:1376.17px;width:297.47px;height:33.37px;background:linear-gradient(to right,#aa9a16 0% 3.12%,#ac9b16 3.12% 6.25%,#ae9c15 6.25% 9.38%,#af9c15 9.38% 12.5%,#b19d14 12.5% 15.62%,#b39e14 15.62% 18.75%,#b59f13 18.75% 21.88%,#b6a013 21.88% 25%,#b8a012 25% 28.12%,#baa112 28.12% 31.25%,#bca211 31.25% 34.38%,#bea311 34.38% 37.5%,#bfa410 37.5% 43.75%,#bfa310 43.75% 46.88%,#bea311 46.88% 50%,#bda211 50% 53.12%,#bca211 53.12% 56.25%,#bba211 56.25% 59.38%,#baa111 59.38% 62.5%,#b9a112 62.5% 65.62%,#b9a012 65.62% 68.75%,#b8a012 68.75% 100%)"></div>
<div class="c" style="left:467.88px;top:1409.04px;width:297.47px;height:33.37px;background:linear-gradient(to right,#828618 0% 3.12%,#848718 3.12% 6.25%,#868817 6.25% 9.38%,#898917 9.38% 12.5%,#8b8a17 12.5% 15.62%,#8d8c16 15.62% 18.75%,#8f8d16 18.75% 21.88%,#918e15 21.88% 25%,#948f15 25% 28.12%,#969015 28.12% 31.25%,#989114 31.25% 34.38%,#9a9214 34.38% 37.5%,#9c9314 37.5% 40.62%,#9e9413 40.62% 43.75%,#a09513 43.75% 46.88%,#a19613 46.88% 50%,#a39713 50% 53.12%,#a59812 53.12% 56.25%,#a79912 56.25% 59.38%,#a89a12 59.38% 62.5%,#a79912 62.5% 65.62%,#a69812 65.62% 68.75%,#a59813 68.75% 71.88%,#a49713 71.88% 75%,#a39713 75% 78.12%,#a29613 78.12% 81.25%,#a19513 81.25% 84.38%,#a09513 84.38% 87.5%,#9f9414 87.5% 90.62%,#9e9314 90.62% 93.75%,#9d9314 93.75% 96.88%,#9c9214 96.88% 100%)"></div>
<div class="c" style="left:467.88px;top:1441.91px;width:297.47px;height:33.37px;background:linear-gradient(to right,#6a803a 0% 3.12%,#687e36 3.12% 6.25%,#677d31 6.25% 9.38%,#657b2d 9.38% 12.5%,#647a28 12.5% 15.62%,#627824 15.62% 18.75%,#617720 18.75% 21.88%,#5f751b 21.88% 25%,#5f7418 25% 28.12%,#617518 28.12% 31.25%,#637618 31.25% 34.38%,#657718 34.38% 37.5%,#687818 37.5% 40.62%,#6a7918 40.62% 43.75%,#6c7a18 43.75% 46.88%,#6e7b18 46.88% 50%,#6f7c18 50% 53.12%,#717d18 53.12% 56.25%,#727d18 56.25% 59.38%,#747e18 59.38% 62.5%,#757f18 62.5% 65.62%,#778018 65.62% 68.75%,#788118 68.75% 71.88%,#7a8218 71.88% 75%,#798218 75% 81.25%,#788118 81.25% 84.38%,#778118 84.38% 87.5%,#768118 87.5% 93.75%,#758018 93.75% 96.88%,#748018 96.88% 100%)"></div>
<div class="c" style="left:467.88px;top:1474.78px;width:297.47px;height:33.37px;background:linear-gradient(to right,#a8b898 0% 3.12%,#a6b695 3.12% 6.25%,#a5b592 6.25% 9.38%,#a3b38e 9.38% 12.5%,#a1b28b 12.5% 15.62%,#9fb088 15.62% 18.75%,#9eaf85 18.75% 21.88%,#9cad81 21.88% 25%,#9aac7e 25% 28.12%,#99aa7b 28.12% 31.25%,#96a877 31.25% 34.38%,#94a672 34.38% 37.5%,#91a36d 37.5% 40.62%,#8ea068 40.62% 43.75%,#8c9e64 43.75% 46.88%,#899b5f 46.88% 50%,#87995a 50% 53.12%,#849656 53.12% 56.25%,#829451 56.25% 59.38%,#80924d 59.38% 62.5%,#7f914c 62.5% 65.62%,#7e904b 65.62% 68.75%,#7d8f4a 68.75% 71.88%,#7c8e48 71.88% 75%,#7b8e47 75% 78.12%,#7a8d46 78.12% 81.25%,#798c44 81.25% 84.38%,#788b43 84.38% 87.5%,#778a42 87.5% 90.62%,#768a41 90.62% 93.75%,#75893f 93.75% 96.88%,#74883e 96.88% 100%)"></div>
<div class="c" style="left:467.88px;top:1507.65px;width:297.47px;height:33.37px;background:linear-gradient(to right,#b4cccc 0% 3.12%,#b5cdcc 3.12% 6.25%,#b7cdcc 6.25% 9.38%,#b8cecc 9.38% 12.5%,#b9cfcc 12.5% 15.62%,#bacfcc 15.62% 18.75%,#bcd0cc 18.75% 21.88%,#bdd1cc 21.88% 25%,#bed1cc 25% 28.12%,#c0d2cc 28.12% 31.25%,#c1d2cc 31.25% 34.38%,#c2d3cc 34.38% 37.5%,#c3d4cc 37.5% 40.62%,#c3d3ca 40.62% 43.75%,#c2d2c7 43.75% 46.88%,#c0d0c4 46.88% 50%,#becec1 50% 53.12%,#bdcdbe 53.12% 56.25%,#bbcbbb 56.25% 59.38%,#bacab8 59.38% 62.5%,#b8c8b4 62.5% 65.62%,#b7c7b2 65.62% 68.75%,#b5c6b0 68.75% 71.88%,#b4c4ae 71.88% 75%,#b2c3ab 75% 78.12%,#b1c2a9 78.12% 81.25%,#afc0a7 81.25% 84.38%,#aebfa5 84.38% 87.5%,#acbea3 87.5% 90.62%,#abbda0 90.62% 93.75%,#a9bb9e 93.75% 96.88%,#a8ba9c 96.88% 100%)"></div>
<div class="c" style="left:467.88px;top:1540.52px;width:297.47px;height:33.37px;background:linear-gradient(to right,#8eaac0 0% 3.12%,#90abc0 3.12% 6.25%,#91acc0 6.25% 9.38%,#93adc1 9.38% 12.5%,#95aec1 12.5% 15.62%,#96b0c1 15.62% 18.75%,#98b1c1 18.75% 21.88%,#9ab2c1 21.88% 25%,#9bb3c1 25% 28.12%,#9db4c2 28.12% 31.25%,#9fb5c2 31.25% 34.38%,#a0b6c2 34.38% 37.5%,#a2b7c3 37.5% 40.62%,#a3b9c3 40.62% 43.75%,#a5bac4 43.75% 46.88%,#a6bbc5 46.88% 50%,#a8bdc5 50% 53.12%,#a9bec6 53.12% 56.25%,#abbfc7 56.25% 59.38%,#acc1c7 59.38% 62.5%,#aec2c8 62.5% 68.75%,#afc3c9 68.75% 71.88%,#b0c4c9 71.88% 78.12%,#b1c5ca 78.12% 84.38%,#b2c6cb 84.38% 90.62%,#b3c7cb 90.62% 93.75%,#b3c7cc 93.75% 96.88%,#b4c8cc 96.88% 100%)"></div>
<div class="c" style="left:467.88px;top:1573.39px;width:297.47px;height:33.37px;background:linear-gradient(to right,#7484a8 0% 3.12%,#7586a9 3.12% 6.25%,#7789ab 6.25% 9.38%,#788bac 9.38% 12.5%,#798dad 12.5% 15.62%,#7a8fae 15.62% 18.75%,#7c92b0 18.75% 21.88%,#7d94b1 21.88% 25%,#7e96b2 25% 28.12%,#8098b4 28.12% 31.25%,#819bb5 31.25% 34.38%,#829db6 34.38% 37.5%,#839fb7 37.5% 40.62%,#85a1b9 40.62% 43.75%,#86a2b9 43.75% 46.88%,#87a4ba 46.88% 50%,#89a5bb 50% 53.12%,#8aa7bc 53.12% 56.25%,#8ba8bd 56.25% 59.38%,#8daabe 59.38% 62.5%,#8eabbf 62.5% 65.62%,#8fadbf 65.62% 68.75%,#90aec0 68.75% 71.88%,#91aec0 71.88% 75%,#92aec0 75% 78.12%,#93afc1 78.12% 81.25%,#94afc1 81.25% 84.38%,#95afc1 84.38% 90.62%,#96b0c2 90.62% 93.75%,#97b0c2 93.75% 96.88%,#98b0c2 96.88% 100%)"></div>
<div class="c" style="left:467.88px;top:1606.26px;width:297.47px;height:33.37px;background:linear-gradient(to right,#5e6a9c 0% 3.12%,#5f6b9c 3.12% 6.25%,#606c9d 6.25% 12.5%,#616d9e 12.5% 15.62%,#626e9e 15.62% 18.75%,#636f9f 18.75% 21.88%,#64709f 21.88% 25%,#6470a0 25% 28.12%,#6571a0 28.12% 31.25%,#6672a1 31.25% 34.38%,#6773a1 34.38% 37.5%,#6874a2 37.5% 40.62%,#6975a3 40.62% 43.75%,#6a76a3 43.75% 46.88%,#6b78a4 46.88% 50%,#6c79a5 50% 53.12%,#6d7ba6 53.12% 56.25%,#6e7ca7 56.25% 59.38%,#6f7ea8 59.38% 62.5%,#707fa9 62.5% 65.62%,#7181a9 65.62% 68.75%,#7282aa 68.75% 71.88%,#7384ab 71.88% 75%,#7485ab 75% 78.12%,#7586ab 78.12% 81.25%,#7688ac 81.25% 84.38%,#7789ac 84.38% 87.5%,#778aad 87.5% 90.62%,#788bad 90.62% 93.75%,#798dae 93.75% 96.88%,#7a8eae 96.88% 100%)"></div>
<div class="c" style="left:467.88px;top:1639.13px;width:297.47px;height:33.37px;background:linear-gradient(to right,#4a5090 0% 3.12%,#4b5190 3.12% 6.25%,#4b5291 6.25% 9.38%,#4c5291 9.38% 12.5%,#4d5391 12.5% 15.62%,#4d5492 15.62% 18.75%,#4e5592 18.75% 21.88%,#4f5692 21.88% 25%,#4f5693 25% 28.12%,#505793 28.12% 31.25%,#505893 31.25% 34.38%,#515994 34.38% 37.5%,#525a94 37.5% 40.62%,#535b94 40.62% 43.75%,#535c95 43.75% 46.88%,#545d95 46.88% 50%,#555e96 50% 53.12%,#565f96 53.12% 56.25%,#576096 56.25% 59.38%,#586197 59.38% 62.5%,#596297 62.5% 65.62%,#596398 65.62% 68.75%,#5a6498 68.75% 71.88%,#5b6599 71.88% 78.12%,#5b6699 78.12% 81.25%,#5c679a 81.25% 87.5%,#5d689b 87.5% 90.62%,#5d699b 90.62% 93.75%,#5e699c 93.75% 96.88%,#5e6a9c 96.88% 100%)"></div>
<div class="c" style="left:764.95px;top:1014.6px;width:297.47px;height:33.37px;background:linear-gradient(to right,#d0600c 0% 3.12%,#cf5e0c 3.12% 6.25%,#cf5d0c 6.25% 9.38%,#ce5b0b 9.38% 12.5%,#cd590b 12.5% 15.62%,#cc580b 15.62% 18.75%,#cc560b 18.75% 21.88%,#cb540b 21.88% 25%,#ca530b 25% 28.12%,#c9510a 28.12% 31.25%,#c94f0a 31.25% 34.38%,#c84e0a 34.38% 37.5%,#c74d0a 37.5% 40.62%,#c74c09 40.62% 43.75%,#c64c09 43.75% 46.88%,#c64b09 46.88% 50%,#c54a09 50% 53.12%,#c54908 53.12% 56.25%,#c44808 56.25% 59.38%,#c44708 59.38% 62.5%,#c34608 62.5% 65.62%,#c24408 65.62% 68.75%,#c24308 68.75% 71.88%,#c14108 71.88% 75%,#c13f08 75% 78.12%,#c03e08 78.12% 81.25%,#c13f08 81.25% 87.5%,#c24008 87.5% 90.62%,#c34108 90.62% 96.88%,#c44208 96.88% 100%)"></div>
<div class="c" style="left:764.95px;top:1047.47px;width:297.47px;height:33.37px;background:linear-gradient(to right,#d2640c 0% 3.12%,#d1630c 3.12% 6.25%,#d1610c 6.25% 9.38%,#d0600b 9.38% 12.5%,#d05e0b 12.5% 15.62%,#cf5d0b 15.62% 18.75%,#cf5b0b 18.75% 21.88%,#ce5a0b 21.88% 25%,#ce580b 25% 28.12%,#cd570a 28.12% 31.25%,#cc550a 31.25% 34.38%,#cc540a 34.38% 37.5%,#cb530a 37.5% 40.62%,#cb520a 40.62% 43.75%,#ca520a 43.75% 46.88%,#ca510a 46.88% 50%,#c9500a 50% 53.12%,#c94f0a 53.12% 56.25%,#c84e0a 56.25% 59.38%,#c84d0a 59.38% 62.5%,#c74c0a 62.5% 65.62%,#c64a09 65.62% 68.75%,#c64909 68.75% 71.88%,#c54709 71.88% 75%,#c54508 75% 78.12%,#c44408 78.12% 84.38%,#c54509 84.38% 93.75%,#c6460a 93.75% 100%)"></div>
<div class="c" style="left:764.95px;top:1080.34px;width:297.47px;height:33.37px;background:linear-gradient(to right,#d4680c 0% 3.12%,#d3670c 3.12% 6.25%,#d3650c 6.25% 9.38%,#d2640b 9.38% 12.5%,#d2630b 12.5% 15.62%,#d1620b 15.62% 18.75%,#d1600b 18.75% 21.88%,#d05f0b 21.88% 25%,#d05e0b 25% 28.12%,#cf5c0a 28.12% 31.25%,#ce5b0a 31.25% 34.38%,#ce5a0a 34.38% 37.5%,#ce590a 37.5% 40.62%,#cd590a 40.62% 43.75%,#cd580a 43.75% 50%,#cd570a 50% 53.12%,#cc570a 53.12% 56.25%,#cc560a 56.25% 59.38%,#cc550a 59.38% 62.5%,#cb530a 62.5% 65.62%,#ca510a 65.62% 68.75%,#ca4f0a 68.75% 71.88%,#c94d0a 71.88% 75%,#c94c0a 75% 78.12%,#c84a0a 78.12% 84.38%,#c84b0a 84.38% 93.75%,#c84c0a 93.75% 100%)"></div>
<div class="c" style="left:764.95px;top:1113.21px;width:297.47px;height:33.37px;background:linear-gradient(to right,#d66a0c 0% 3.12%,#d5690c 3.12% 6.25%,#d5680c 6.25% 9.38%,#d4670b 9.38% 12.5%,#d4660b 12.5% 15.62%,#d3640b 15.62% 18.75%,#d3630b 18.75% 21.88%,#d2620b 21.88% 25%,#d2610b 25% 28.12%,#d1600a 28.12% 31.25%,#d05f0a 31.25% 34.38%,#d05e0a 34.38% 37.5%,#cf5d0a 37.5% 43.75%,#ce5c0a 43.75% 50%,#cd5b0a 50% 56.25%,#cc5a0a 56.25% 59.38%,#cc590a 59.38% 62.5%,#cc580a 62.5% 65.62%,#cb570a 65.62% 68.75%,#cb560a 68.75% 71.88%,#cb540a 71.88% 75%,#ca530a 75% 78.12%,#ca520a 78.12% 84.38%,#ca530a 84.38% 93.75%,#ca540a 93.75% 100%)"></div>
<div class="c" style="left:764.95px;top:1146.08px;width:297.47px;height:33.37px;background:linear-gradient(to right,#d66c0c 0% 3.12%,#d66b0c 3.12% 6.25%,#d56a0c 6.25% 9.38%,#d5690c 9.38% 12.5%,#d5680c 12.5% 15.62%,#d4670c 15.62% 18.75%,#d4660c 18.75% 21.88%,#d3660c 21.88% 25%,#d3650c 25% 28.12%,#d3640c 28.12% 31.25%,#d2630c 31.25% 34.38%,#d2620c 34.38% 37.5%,#d2610c 37.5% 40.62%,#d1610b 40.62% 43.75%,#d1600b 43.75% 50%,#d15f0b 50% 53.12%,#d05f0a 53.12% 56.25%,#d05e0a 56.25% 59.38%,#d05d0a 59.38% 62.5%,#cf5c0a 62.5% 65.62%,#ce5b0a 65.62% 68.75%,#ce5a0a 68.75% 71.88%,#cd580a 71.88% 75%,#cd570a 75% 78.12%,#cc560a 78.12% 100%)"></div>
<div class="c" style="left:764.95px;top:1178.95px;width:297.47px;height:33.37px;background:linear-gradient(to right,#d8700c 0% 3.12%,#d86f0c 3.12% 6.25%,#d76f0c 6.25% 9.38%,#d76e0c 9.38% 12.5%,#d76d0c 12.5% 15.62%,#d66c0c 15.62% 21.88%,#d56b0c 21.88% 25%,#d56a0c 25% 28.12%,#d5690c 28.12% 31.25%,#d4690c 31.25% 34.38%,#d4680c 34.38% 37.5%,#d4670c 37.5% 40.62%,#d3670c 40.62% 43.75%,#d3660c 43.75% 50%,#d3650c 50% 53.12%,#d2650c 53.12% 56.25%,#d2640c 56.25% 59.38%,#d2630c 59.38% 62.5%,#d1620c 62.5% 65.62%,#d0600b 65.62% 68.75%,#d05f0b 68.75% 71.88%,#cf5d0b 71.88% 75%,#cf5b0a 75% 78.12%,#ce5a0a 78.12% 100%)"></div>
<div class="c" style="left:764.95px;top:1211.82px;width:297.47px;height:33.37px;background:linear-gradient(to right,#da740c 0% 3.12%,#da730c 3.12% 6.25%,#d9730c 6.25% 9.38%,#d9720c 9.38% 12.5%,#d9710c 12.5% 15.62%,#d8700c 15.62% 21.88%,#d76f0c 21.88% 25%,#d76e0c 25% 28.12%,#d76d0c 28.12% 31.25%,#d66d0c 31.25% 34.38%,#d66c0c 34.38% 37.5%,#d66b0c 37.5% 40.62%,#d56b0c 40.62% 43.75%,#d56a0c 43.75% 50%,#d5690c 50% 53.12%,#d4690c 53.12% 56.25%,#d4680c 56.25% 59.38%,#d4670c 59.38% 62.5%,#d3660c 62.5% 65.62%,#d2640b 65.62% 68.75%,#d2630b 68.75% 71.88%,#d1610b 71.88% 75%,#d15f0a 75% 78.12%,#d05e0a 78.12% 100%)"></div>
<div class="c" style="left:764.95px;top:1244.69px;width:297.47px;height:33.37px;background:linear-gradient(to right,#dc760c 0% 3.12%,#dc750c 3.12% 6.25%,#db750c 6.25% 9.38%,#db740c 9.38% 15.62%,#da730c 15.62% 21.88%,#d9720c 21.88% 28.12%,#d9710c 28.12% 31.25%,#d8700c 31.25% 37.5%,#d86f0c 37.5% 40.62%,#d76f0c 40.62% 43.75%,#d76e0c 43.75% 50%,#d76d0c 50% 53.12%,#d66d0c 53.12% 56.25%,#d66c0c 56.25% 59.38%,#d66b0c 59.38% 62.5%,#d56a0c 62.5% 65.62%,#d4690c 65.62% 68.75%,#d4680c 68.75% 71.88%,#d3660c 71.88% 75%,#d3650c 75% 78.12%,#d2640c 78.12% 100%)"></div>
<div class="c" style="left:764.95px;top:1277.56px;width:297.47px;height:33.37px;background:linear-gradient(to right,#dc7a0e 0% 6.25%,#dc790e 6.25% 9.38%,#db790d 9.38% 15.62%,#db780d 15.62% 21.88%,#db770d 21.88% 28.12%,#da770c 28.12% 31.25%,#da760c 31.25% 37.5%,#da750c 37.5% 40.62%,#d9750c 40.62% 43.75%,#d9740c 43.75% 50%,#d9730c 50% 53.12%,#d8730c 53.12% 56.25%,#d8720c 56.25% 59.38%,#d8710c 59.38% 62.5%,#d7700c 62.5% 65.62%,#d66f0c 65.62% 68.75%,#d66e0c 68.75% 71.88%,#d56c0c 71.88% 75%,#d56b0c 75% 78.12%,#d46a0c 78.12% 100%)"></div>
<div class="c" style="left:764.95px;top:1310.43px;width:297.47px;height:33.37px;background:linear-gradient(to right,#e08a10 0% 3.12%,#e08910 3.12% 9.38%,#df880f 9.38% 12.5%,#df870f 12.5% 15.62%,#df860f 15.62% 21.88%,#df850f 21.88% 25%,#df840f 25% 28.12%,#de830e 28.12% 34.38%,#de820e 34.38% 37.5%,#de810e 37.5% 40.62%,#dd800e 40.62% 43.75%,#dd7f0e 43.75% 46.88%,#dd7e0e 46.88% 50%,#dd7d0e 50% 53.12%,#dc7c0e 53.12% 56.25%,#dc7b0e 56.25% 59.38%,#dc7a0e 59.38% 62.5%,#db790e 62.5% 65.62%,#da780d 65.62% 68.75%,#da770d 68.75% 71.88%,#d9760d 71.88% 75%,#d9750c 75% 78.12%,#d8740c 78.12% 84.38%,#d8730c 84.38% 93.75%,#d8720c 93.75% 100%)"></div>
<div class="c" style="left:764.95px;top:1343.3px;width:297.47px;height:33.37px;background:linear-gradient(to right,#e08c10 0% 3.12%,#e08b10 3.12% 6.25%,#e08a10 6.25% 9.38%,#e08910 9.38% 12.5%,#df880f 12.5% 15.62%,#df870f 15.62% 18.75%,#df860f 18.75% 21.88%,#df850f 21.88% 25%,#df840f 25% 28.12%,#df830f 28.12% 31.25%,#de820e 31.25% 34.38%,#de810e 34.38% 37.5%,#de800e 37.5% 40.62%,#de7f0e 40.62% 46.88%,#dd7e0e 46.88% 50%,#dd7d0e 50% 53.12%,#dd7c0e 53.12% 56.25%,#dd7b0e 56.25% 59.38%,#dd7a0e 59.38% 62.5%,#dc790e 62.5% 68.75%,#dc780e 68.75% 71.88%,#dc770e 71.88% 78.12%,#db760d 78.12% 81.25%,#db750d 81.25% 87.5%,#db740d 87.5% 90.62%,#da730c 90.62% 96.88%,#da720c 96.88% 100%)"></div>
<div class="c" style="left:764.95px;top:1376.17px;width:297.47px;height:33.37px;background:linear-gradient(to right,#e49810 0% 3.12%,#e49710 3.12% 6.25%,#e39610 6.25% 9.38%,#e39510 9.38% 12.5%,#e3930f 12.5% 15.62%,#e2920f 15.62% 18.75%,#e2910f 18.75% 21.88%,#e2900f 21.88% 25%,#e18f0f 25% 28.12%,#e18e0f 28.12% 31.25%,#e18d0e 31.25% 34.38%,#e08c0e 34.38% 37.5%,#e08a0e 37.5% 43.75%,#e0890e 43.75% 46.88%,#df890e 46.88% 50%,#df880e 50% 59.38%,#df870e 59.38% 62.5%,#de870e 62.5% 65.62%,#de860e 65.62% 71.88%,#de850e 71.88% 75%,#de840e 75% 78.12%,#dd830e 78.12% 81.25%,#dd820e 81.25% 84.38%,#dd810e 84.38% 90.62%,#dc800e 90.62% 93.75%,#dc7f0e 93.75% 96.88%,#dc7e0e 96.88% 100%)"></div>
<div class="c" style="left:764.95px;top:1409.04px;width:297.47px;height:33.37px;background:linear-gradient(to right,#e8a80e 0% 3.12%,#e8a70e 3.12% 6.25%,#e8a60e 6.25% 12.5%,#e7a50e 12.5% 15.62%,#e7a40e 15.62% 18.75%,#e7a30e 18.75% 21.88%,#e7a20e 21.88% 28.12%,#e7a10e 28.12% 31.25%,#e6a00e 31.25% 34.38%,#e69f0e 34.38% 37.5%,#e69e0e 37.5% 40.62%,#e69d0e 40.62% 46.88%,#e59c0e 46.88% 50%,#e59b0e 50% 53.12%,#e59a0e 53.12% 56.25%,#e5990e 56.25% 59.38%,#e5980e 59.38% 62.5%,#e4970e 62.5% 68.75%,#e4960e 68.75% 71.88%,#e4950e 71.88% 75%,#e4940e 75% 78.12%,#e3930e 78.12% 81.25%,#e3920e 81.25% 84.38%,#e3910e 84.38% 90.62%,#e2900e 90.62% 93.75%,#e28f0e 93.75% 96.88%,#e28e0e 96.88% 100%)"></div>
<div class="c" style="left:764.95px;top:1441.91px;width:297.47px;height:33.37px;background:linear-gradient(to right,#eebc06 0% 3.12%,#eebb06 3.12% 6.25%,#edba07 6.25% 9.38%,#edb907 9.38% 12.5%,#edb707 12.5% 15.62%,#ecb608 15.62% 18.75%,#ecb508 18.75% 21.88%,#ecb408 21.88% 25%,#ebb309 25% 28.12%,#ebb209 28.12% 31.25%,#ebb109 31.25% 34.38%,#eab00a 34.38% 37.5%,#eaae0a 37.5% 43.75%,#eaad0b 43.75% 46.88%,#e9ac0b 46.88% 50%,#e9ac0c 50% 53.12%,#e9ab0c 53.12% 56.25%,#e9aa0c 56.25% 59.38%,#e9aa0d 59.38% 62.5%,#e8a90d 62.5% 65.62%,#e8a80e 65.62% 71.88%,#e8a70e 71.88% 78.12%,#e7a60e 78.12% 81.25%,#e7a50e 81.25% 87.5%,#e7a40e 87.5% 90.62%,#e6a30e 90.62% 96.88%,#e6a20e 96.88% 100%)"></div>
<div class="c" style="left:764.95px;top:1474.78px;width:297.47px;height:33.37px;background:linear-gradient(to right,#a09816 0% 3.12%,#a49a15 3.12% 6.25%,#a89c14 6.25% 9.38%,#ac9e14 9.38% 12.5%,#b1a013 12.5% 15.62%,#b5a212 15.62% 18.75%,#b9a411 18.75% 21.88%,#bda611 21.88% 25%,#c2a910 25% 28.12%,#c9ac0e 28.12% 31.25%,#d1b00c 31.25% 34.38%,#d8b40a 34.38% 37.5%,#e0b708 37.5% 40.62%,#e7bb06 40.62% 43.75%,#eebe04 43.75% 46.88%,#eebd04 46.88% 50%,#eebc05 50% 53.12%,#edbb05 53.12% 56.25%,#edbb06 56.25% 59.38%,#edba06 59.38% 62.5%,#edb907 62.5% 65.62%,#ecb807 65.62% 68.75%,#ecb707 68.75% 71.88%,#ecb608 71.88% 78.12%,#ecb508 78.12% 81.25%,#ebb509 81.25% 84.38%,#ebb409 84.38% 90.62%,#ebb309 90.62% 93.75%,#eab30a 93.75% 96.88%,#eab20a 96.88% 100%)"></div>
<div class="c" style="left:764.95px;top:1507.65px;width:297.47px;height:33.37px;background:linear-gradient(to right,#6a8036 0% 3.12%,#687f33 3.12% 6.25%,#667d2f 6.25% 9.38%,#647c2c 9.38% 12.5%,#637a28 12.5% 15.62%,#617925 15.62% 18.75%,#5f7821 18.75% 21.88%,#5d761e 21.88% 25%,#5b751a 25% 28.12%,#5c7518 28.12% 31.25%,#637917 31.25% 34.38%,#6a7c17 34.38% 37.5%,#717f17 37.5% 40.62%,#788316 40.62% 43.75%,#7e8616 43.75% 46.88%,#818816 46.88% 50%,#858915 50% 53.12%,#888b15 53.12% 56.25%,#8b8d15 56.25% 59.38%,#8e8e14 59.38% 62.5%,#929014 62.5% 65.62%,#949114 65.62% 68.75%,#969214 68.75% 71.88%,#989313 71.88% 75%,#9b9413 75% 78.12%,#9d9513 78.12% 81.25%,#9f9613 81.25% 84.38%,#a19813 84.38% 87.5%,#a39913 87.5% 90.62%,#a69a12 90.62% 93.75%,#a89b12 93.75% 96.88%,#aa9c12 96.88% 100%)"></div>
<div class="c" style="left:764.95px;top:1540.52px;width:297.47px;height:33.37px;background:linear-gradient(to right,#bccfc8 0% 3.12%,#bacdc3 3.12% 6.25%,#b8cabe 6.25% 9.38%,#b6c8b9 9.38% 12.5%,#b3c5b3 12.5% 15.62%,#b1c3ae 15.62% 18.75%,#afc0a9 18.75% 21.88%,#adbea4 21.88% 25%,#abbb9f 25% 28.12%,#a9b99a 28.12% 31.25%,#a6b695 31.25% 34.38%,#a4b490 34.38% 37.5%,#a1b28b 37.5% 40.62%,#9eb086 40.62% 43.75%,#9cad81 43.75% 46.88%,#99ab7c 46.88% 50%,#96a877 50% 53.12%,#93a570 53.12% 56.25%,#90a26a 56.25% 59.38%,#8c9e63 59.38% 62.5%,#899b5d 62.5% 65.62%,#869857 65.62% 68.75%,#829450 68.75% 71.88%,#7f914a 71.88% 75%,#7d8f46 75% 78.12%,#7c8e44 78.12% 81.25%,#7a8d42 81.25% 84.38%,#798c40 84.38% 87.5%,#788b3e 87.5% 90.62%,#778a3c 90.62% 93.75%,#75893a 93.75% 96.88%,#748838 96.88% 100%)"></div>
<div class="c" style="left:764.95px;top:1573.39px;width:297.47px;height:33.37px;background:linear-gradient(to right,#9ab4c2 0% 3.12%,#9cb5c3 3.12% 6.25%,#9eb7c3 6.25% 9.38%,#a0b8c4 9.38% 12.5%,#a2bac5 12.5% 15.62%,#a4bbc6 15.62% 18.75%,#a6bdc6 18.75% 21.88%,#a8bec7 21.88% 25%,#aac0c8 25% 28.12%,#acc1c9 28.12% 31.25%,#aec3c9 31.25% 34.38%,#b0c4ca 34.38% 37.5%,#b1c5ca 37.5% 40.62%,#b2c6cb 40.62% 43.75%,#b3c7cb 43.75% 46.88%,#b4c8cb 46.88% 50%,#b5c9cb 50% 53.12%,#b6cacc 53.12% 56.25%,#b7cbcc 56.25% 59.38%,#b8cccc 59.38% 62.5%,#b9cdcc 62.5% 65.62%,#bacecc 65.62% 68.75%,#bbcecc 68.75% 71.88%,#bccfcc 71.88% 75%,#bdcfcc 75% 78.12%,#bed0cc 78.12% 81.25%,#bfd1cc 81.25% 84.38%,#c0d1cc 84.38% 87.5%,#c1d2cc 87.5% 90.62%,#c2d3cc 90.62% 93.75%,#c3d3cc 93.75% 96.88%,#c4d4cc 96.88% 100%)"></div>
<div class="c" style="left:764.95px;top:1606.26px;width:297.47px;height:33.37px;background:linear-gradient(to right,#7c98b4 0% 3.12%,#7d99b5 3.12% 6.25%,#7f9bb5 6.25% 9.38%,#809cb6 9.38% 12.5%,#819eb7 12.5% 15.62%,#829fb8 15.62% 18.75%,#84a1b8 18.75% 21.88%,#85a2b9 21.88% 25%,#86a4ba 25% 28.12%,#88a5bb 28.12% 31.25%,#89a7bb 31.25% 34.38%,#8aa8bc 34.38% 37.5%,#8ba9bd 37.5% 40.62%,#8caabd 40.62% 43.75%,#8daabe 43.75% 46.88%,#8eabbe 46.88% 50%,#8facbf 50% 53.12%,#90adbf 53.12% 56.25%,#91aec0 56.25% 59.38%,#92aec0 59.38% 62.5%,#93afc0 62.5% 65.62%,#94afc0 65.62% 68.75%,#95b0c1 68.75% 71.88%,#96b0c1 71.88% 75%,#97b1c1 75% 78.12%,#98b1c1 78.12% 81.25%,#99b2c1 81.25% 84.38%,#9ab2c1 84.38% 87.5%,#9bb3c2 87.5% 90.62%,#9cb3c2 90.62% 93.75%,#9db4c2 93.75% 96.88%,#9eb4c2 96.88% 100%)"></div>
<div class="c" style="left:764.95px;top:1639.13px;width:297.47px;height:33.37px;background:linear-gradient(to right,#6070a0 0% 3.12%,#6171a1 3.12% 6.25%,#6272a1 6.25% 9.38%,#6373a2 9.38% 12.5%,#6474a3 12.5% 15.62%,#6676a4 15.62% 18.75%,#6777a4 18.75% 21.88%,#6878a5 21.88% 25%,#6979a6 25% 28.12%,#6a7aa7 28.12% 31.25%,#6b7ba7 31.25% 34.38%,#6c7ca8 34.38% 37.5%,#6d7da8 37.5% 43.75%,#6e7ea8 43.75% 50%,#6f7fa8 50% 56.25%,#7080a8 56.25% 62.5%,#7182a9 62.5% 65.62%,#7283aa 65.62% 68.75%,#7384aa 68.75% 71.88%,#7485ab 71.88% 75%,#7486ab 75% 78.12%,#7587ac 78.12% 81.25%,#7688ad 81.25% 84.38%,#7789ad 84.38% 87.5%,#788bae 87.5% 90.62%,#788caf 90.62% 93.75%,#798daf 93.75% 96.88%,#7a8eb0 96.88% 100%)"></div>
<div class="c" style="left:1062.02px;top:1014.6px;width:297.47px;height:33.37px;background:linear-gradient(to right,#d05e0c 0% 3.12%,#cf5c0c 3.12% 6.25%,#cf5a0c 6.25% 9.38%,#ce580b 9.38% 12.5%,#cd560b 12.5% 15.62%,#cc540b 15.62% 18.75%,#cc520b 18.75% 21.88%,#cb500b 21.88% 25%,#ca4e0b 25% 28.12%,#c94c0a 28.12% 31.25%,#c94a0a 31.25% 34.38%,#c8480a 34.38% 37.5%,#c7480a 37.5% 40.62%,#c74709 40.62% 43.75%,#c64709 43.75% 50%,#c54709 50% 53.12%,#c54608 53.12% 56.25%,#c44608 56.25% 59.38%,#c34508 59.38% 62.5%,#c24108 62.5% 65.62%,#c13e08 65.62% 68.75%,#c03b08 68.75% 71.88%,#be3808 71.88% 75%,#bd3508 75% 78.12%,#bc3208 78.12% 81.25%,#bd3408 81.25% 84.38%,#bd3508 84.38% 87.5%,#be3608 87.5% 90.62%,#bf3708 90.62% 93.75%,#bf3908 93.75% 96.88%,#c03a08 96.88% 100%)"></div>
<div class="c" style="left:1062.02px;top:1047.47px;width:297.47px;height:33.37px;background:linear-gradient(to right,#d2620c 0% 3.12%,#d1600c 3.12% 6.25%,#d05f0c 6.25% 9.38%,#cf5d0b 9.38% 12.5%,#ce5b0b 12.5% 15.62%,#cd5a0b 15.62% 18.75%,#cc580b 18.75% 21.88%,#cc560b 21.88% 25%,#cb550b 25% 28.12%,#ca530a 28.12% 31.25%,#c9510a 31.25% 34.38%,#c8500a 34.38% 37.5%,#c84f0a 37.5% 40.62%,#c74e0a 40.62% 46.88%,#c74d0a 46.88% 50%,#c74c0a 50% 53.12%,#c64b0a 53.12% 56.25%,#c64a0a 56.25% 59.38%,#c6490a 59.38% 62.5%,#c5470a 62.5% 65.62%,#c44509 65.62% 68.75%,#c34209 68.75% 71.88%,#c24009 71.88% 75%,#c13e08 75% 78.12%,#c03c08 78.12% 84.38%,#c13d08 84.38% 93.75%,#c23e08 93.75% 100%)"></div>
<div class="c" style="left:1062.02px;top:1080.34px;width:297.47px;height:33.37px;background:linear-gradient(to right,#d4660c 0% 3.12%,#d3650c 3.12% 6.25%,#d3630c 6.25% 9.38%,#d2620b 9.38% 12.5%,#d1600b 12.5% 15.62%,#d05f0b 15.62% 18.75%,#d05d0b 18.75% 21.88%,#cf5c0b 21.88% 25%,#ce5a0b 25% 28.12%,#cd590a 28.12% 31.25%,#cd570a 31.25% 34.38%,#cc560a 34.38% 37.5%,#cc550a 37.5% 40.62%,#cb550a 40.62% 43.75%,#cb540a 43.75% 50%,#cb530a 50% 53.12%,#ca530a 53.12% 56.25%,#ca520a 56.25% 59.38%,#ca510a 59.38% 62.5%,#c94f0a 62.5% 65.62%,#c84d09 65.62% 68.75%,#c74a09 68.75% 71.88%,#c64809 71.88% 75%,#c54608 75% 78.12%,#c44408 78.12% 84.38%,#c44508 84.38% 93.75%,#c44608 93.75% 100%)"></div>
<div class="c" style="left:1062.02px;top:1113.21px;width:297.47px;height:33.37px;background:linear-gradient(to right,#d66a0c 0% 3.12%,#d5690c 3.12% 6.25%,#d5670c 6.25% 9.38%,#d4660b 9.38% 12.5%,#d3640b 12.5% 15.62%,#d2630b 15.62% 18.75%,#d2610b 18.75% 21.88%,#d1600b 21.88% 25%,#d05e0b 25% 28.12%,#cf5d0a 28.12% 31.25%,#cf5b0a 31.25% 34.38%,#ce5a0a 34.38% 40.62%,#cd590a 40.62% 53.12%,#cc580a 53.12% 59.38%,#cc570a 59.38% 62.5%,#cb550a 62.5% 65.62%,#ca530a 65.62% 68.75%,#c9500a 68.75% 71.88%,#c84e0a 71.88% 75%,#c74c0a 75% 78.12%,#c64a0a 78.12% 84.38%,#c74b0a 84.38% 93.75%,#c84c0a 93.75% 100%)"></div>
<div class="c" style="left:1062.02px;top:1146.08px;width:297.47px;height:33.37px;background:linear-gradient(to right,#d66a0c 0% 3.12%,#d5690c 3.12% 6.25%,#d5670c 6.25% 9.38%,#d4660b 9.38% 12.5%,#d4650b 12.5% 15.62%,#d3640b 15.62% 18.75%,#d3620b 18.75% 21.88%,#d2610b 21.88% 25%,#d2600b 25% 28.12%,#d15e0a 28.12% 31.25%,#d05d0a 31.25% 34.38%,#d05c0a 34.38% 40.62%,#cf5b0a 40.62% 53.12%,#ce5a0a 53.12% 59.38%,#ce590a 59.38% 62.5%,#cd570a 62.5% 65.62%,#cc550a 65.62% 68.75%,#cb530a 68.75% 71.88%,#ca510a 71.88% 75%,#c9500a 75% 78.12%,#c84e0a 78.12% 84.38%,#c94f0a 84.38% 93.75%,#ca500a 93.75% 100%)"></div>
<div class="c" style="left:1062.02px;top:1178.95px;width:297.47px;height:33.37px;background:linear-gradient(to right,#d86e0c 0% 3.12%,#d76d0c 3.12% 6.25%,#d76b0c 6.25% 9.38%,#d66a0c 9.38% 12.5%,#d6690c 12.5% 15.62%,#d5680c 15.62% 18.75%,#d5660c 18.75% 21.88%,#d4650c 21.88% 25%,#d4640c 25% 28.12%,#d3620c 28.12% 31.25%,#d2610c 31.25% 34.38%,#d2600c 34.38% 40.62%,#d15f0b 40.62% 53.12%,#d05e0a 53.12% 59.38%,#d05d0a 59.38% 62.5%,#cf5b0a 62.5% 65.62%,#ce590a 65.62% 68.75%,#cd570a 68.75% 71.88%,#cc550a 71.88% 75%,#cb540a 75% 78.12%,#ca520a 78.12% 84.38%,#cb530a 84.38% 93.75%,#cc540a 93.75% 100%)"></div>
<div class="c" style="left:1062.02px;top:1211.82px;width:297.47px;height:33.37px;background:linear-gradient(to right,#da720c 0% 3.12%,#d9710c 3.12% 6.25%,#d96f0c 6.25% 9.38%,#d86e0c 9.38% 12.5%,#d86d0c 12.5% 15.62%,#d76c0c 15.62% 18.75%,#d76a0c 18.75% 21.88%,#d6690c 21.88% 25%,#d6680c 25% 28.12%,#d5660c 28.12% 31.25%,#d4650c 31.25% 34.38%,#d4640c 34.38% 40.62%,#d3630c 40.62% 53.12%,#d2620c 53.12% 59.38%,#d2610c 59.38% 62.5%,#d15f0c 62.5% 65.62%,#d05d0b 65.62% 68.75%,#cf5b0b 68.75% 71.88%,#ce590b 71.88% 75%,#cd580a 75% 78.12%,#cc560a 78.12% 84.38%,#cd570a 84.38% 93.75%,#ce580a 93.75% 100%)"></div>
<div class="c" style="left:1062.02px;top:1244.69px;width:297.47px;height:33.37px;background:linear-gradient(to right,#da740c 0% 3.12%,#da730c 3.12% 6.25%,#d9720c 6.25% 9.38%,#d9710c 9.38% 12.5%,#d9700c 12.5% 15.62%,#d86e0c 15.62% 18.75%,#d86d0c 18.75% 21.88%,#d76c0c 21.88% 25%,#d76b0c 25% 28.12%,#d76a0c 28.12% 31.25%,#d6690c 31.25% 34.38%,#d6680c 34.38% 40.62%,#d5670c 40.62% 53.12%,#d4660c 53.12% 59.38%,#d4650c 59.38% 62.5%,#d3630c 62.5% 65.62%,#d2610b 65.62% 68.75%,#d15f0b 68.75% 71.88%,#d05d0b 71.88% 75%,#cf5c0a 75% 78.12%,#ce5a0a 78.12% 84.38%,#cf5b0a 84.38% 93.75%,#d05c0a 93.75% 100%)"></div>
<div class="c" style="left:1062.02px;top:1277.56px;width:297.47px;height:33.37px;background:linear-gradient(to right,#dc780e 0% 3.12%,#dc770e 3.12% 6.25%,#db760e 6.25% 9.38%,#db750d 9.38% 12.5%,#db740d 12.5% 15.62%,#da730d 15.62% 18.75%,#da720d 18.75% 21.88%,#d9720d 21.88% 25%,#d9710d 25% 28.12%,#d9700c 28.12% 31.25%,#d86f0c 31.25% 34.38%,#d86e0c 34.38% 37.5%,#d86d0c 37.5% 40.62%,#d76d0c 40.62% 43.75%,#d76c0c 43.75% 50%,#d76b0c 50% 53.12%,#d66b0c 53.12% 56.25%,#d66a0c 56.25% 59.38%,#d6690c 59.38% 62.5%,#d5680c 62.5% 65.62%,#d4660c 65.62% 68.75%,#d3650c 68.75% 71.88%,#d2630c 71.88% 75%,#d1610c 75% 78.12%,#d0600c 78.12% 84.38%,#d1610c 84.38% 93.75%,#d2620c 93.75% 100%)"></div>
<div class="c" style="left:1062.02px;top:1310.43px;width:297.47px;height:33.37px;background:linear-gradient(to right,#e08410 0% 3.12%,#e08310 3.12% 6.25%,#df8110 6.25% 9.38%,#df800f 9.38% 12.5%,#df7f0f 12.5% 15.62%,#de7e0f 15.62% 18.75%,#de7c0f 18.75% 21.88%,#dd7b0f 21.88% 25%,#dd7a0f 25% 28.12%,#dd780e 28.12% 31.25%,#dc770e 31.25% 34.38%,#dc760e 34.38% 37.5%,#dc750e 37.5% 40.62%,#db750d 40.62% 43.75%,#db740d 43.75% 50%,#db730d 50% 53.12%,#da730c 53.12% 56.25%,#da720c 56.25% 59.38%,#da710c 59.38% 62.5%,#d9700c 62.5% 65.62%,#d86e0c 65.62% 68.75%,#d76d0c 68.75% 71.88%,#d66b0c 71.88% 75%,#d5690c 75% 78.12%,#d4680c 78.12% 84.38%,#d5690c 84.38% 93.75%,#d66a0c 93.75% 100%)"></div>
<div class="c" style="left:1062.02px;top:1343.3px;width:297.47px;height:33.37px;background:linear-gradient(to right,#e08c10 0% 3.12%,#e08b10 3.12% 6.25%,#df8a10 6.25% 9.38%,#df8910 9.38% 12.5%,#df870f 12.5% 15.62%,#de860f 15.62% 18.75%,#de850f 18.75% 21.88%,#de840f 21.88% 25%,#dd830f 25% 28.12%,#dd820f 28.12% 31.25%,#dd810e 31.25% 34.38%,#dc800e 34.38% 37.5%,#dc7e0e 37.5% 43.75%,#dc7d0e 43.75% 50%,#dc7c0e 50% 56.25%,#dc7b0e 56.25% 62.5%,#dc7a0e 62.5% 65.62%,#db780e 65.62% 68.75%,#da760e 68.75% 71.88%,#da740e 71.88% 75%,#d9720e 75% 78.12%,#d8700e 78.12% 84.38%,#d9710e 84.38% 93.75%,#da720e 93.75% 100%)"></div>
<div class="c" style="left:1062.02px;top:1376.17px;width:297.47px;height:33.37px;background:linear-gradient(to right,#e49410 0% 3.12%,#e49310 3.12% 6.25%,#e39210 6.25% 12.5%,#e3910f 12.5% 15.62%,#e2900f 15.62% 18.75%,#e28f0f 18.75% 21.88%,#e28e0f 21.88% 25%,#e18e0f 25% 28.12%,#e18d0f 28.12% 31.25%,#e18c0e 31.25% 34.38%,#e08b0e 34.38% 37.5%,#e08a0e 37.5% 43.75%,#e0890e 43.75% 50%,#e0880e 50% 56.25%,#e0870e 56.25% 62.5%,#e0860e 62.5% 65.62%,#df840e 65.62% 68.75%,#de820e 68.75% 71.88%,#de800e 71.88% 75%,#dd7e0e 75% 78.12%,#dc7c0e 78.12% 84.38%,#dd7d0e 84.38% 93.75%,#de7e0e 93.75% 100%)"></div>
<div class="c" style="left:1062.02px;top:1409.04px;width:297.47px;height:33.37px;background:linear-gradient(to right,#e8a20e 0% 3.12%,#e8a10e 3.12% 9.38%,#e8a00e 9.38% 12.5%,#e79f0e 12.5% 18.75%,#e79e0e 18.75% 21.88%,#e79d0e 21.88% 28.12%,#e79c0e 28.12% 31.25%,#e69c0e 31.25% 34.38%,#e69b0e 34.38% 37.5%,#e69a0e 37.5% 43.75%,#e6990e 43.75% 46.88%,#e5980e 46.88% 50%,#e5970e 50% 53.12%,#e5960e 53.12% 59.38%,#e4950e 59.38% 62.5%,#e4940e 62.5% 65.62%,#e4930e 65.62% 68.75%,#e3910e 68.75% 71.88%,#e38f0e 71.88% 75%,#e28d0e 75% 78.12%,#e28c0e 78.12% 84.38%,#e28d0e 84.38% 93.75%,#e28e0e 93.75% 100%)"></div>
<div class="c" style="left:1062.02px;top:1441.91px;width:297.47px;height:33.37px;background:linear-gradient(to right,#eeba06 0% 3.12%,#eeb906 3.12% 6.25%,#edb807 6.25% 12.5%,#edb707 12.5% 15.62%,#ecb608 15.62% 18.75%,#ecb508 18.75% 21.88%,#ecb408 21.88% 25%,#ebb409 25% 28.12%,#ebb309 28.12% 31.25%,#ebb209 31.25% 34.38%,#eab10a 34.38% 37.5%,#eab00a 37.5% 40.62%,#eaaf0a 40.62% 43.75%,#eaae0b 43.75% 46.88%,#e9ad0b 46.88% 50%,#e9ac0c 50% 53.12%,#e9ab0c 53.12% 56.25%,#e9aa0d 56.25% 59.38%,#e8a90d 59.38% 62.5%,#e8a80e 62.5% 65.62%,#e8a70e 65.62% 68.75%,#e7a50e 68.75% 71.88%,#e7a30e 71.88% 75%,#e6a10e 75% 78.12%,#e6a00e 78.12% 84.38%,#e7a10e 84.38% 93.75%,#e8a20e 93.75% 100%)"></div>
<div class="c" style="left:1062.02px;top:1474.78px;width:297.47px;height:33.37px;background:linear-gradient(to right,#b0a012 0% 3.12%,#b4a112 3.12% 6.25%,#b8a311 6.25% 9.38%,#bca411 9.38% 12.5%,#c0a611 12.5% 15.62%,#c4a710 15.62% 18.75%,#cbab0e 18.75% 21.88%,#d8b10b 21.88% 25%,#e5b807 25% 28.12%,#eebc04 28.12% 53.12%,#eebb05 53.12% 56.25%,#edba05 56.25% 59.38%,#edb906 59.38% 62.5%,#edb806 62.5% 65.62%,#edb706 65.62% 68.75%,#edb607 68.75% 71.88%,#ecb607 71.88% 75%,#ecb508 75% 78.12%,#ecb408 78.12% 81.25%,#ecb308 81.25% 84.38%,#ebb309 84.38% 87.5%,#ebb209 87.5% 90.62%,#ebb109 90.62% 93.75%,#eab10a 93.75% 96.88%,#eab00a 96.88% 100%)"></div>
<div class="c" style="left:1062.02px;top:1507.65px;width:297.47px;height:33.37px;background:linear-gradient(to right,#6a8032 0% 3.12%,#677e2d 3.12% 6.25%,#647c29 6.25% 9.38%,#617a24 9.38% 12.5%,#5f771f 12.5% 15.62%,#5c751b 15.62% 18.75%,#5c7518 18.75% 21.88%,#617617 21.88% 25%,#667817 25% 28.12%,#6b7a16 28.12% 31.25%,#6f7c16 31.25% 34.38%,#747f15 34.38% 37.5%,#798215 37.5% 40.62%,#7e8515 40.62% 43.75%,#838814 43.75% 46.88%,#888b14 46.88% 50%,#8c8d14 50% 53.12%,#8f8e14 53.12% 56.25%,#939014 56.25% 59.38%,#969214 59.38% 62.5%,#9a9314 62.5% 65.62%,#9e9514 65.62% 68.75%,#a19614 68.75% 71.88%,#a39814 71.88% 75%,#a69914 75% 78.12%,#a99a13 78.12% 81.25%,#ab9c13 81.25% 84.38%,#ae9d13 84.38% 87.5%,#b09e13 87.5% 90.62%,#b39f12 90.62% 93.75%,#b5a112 93.75% 96.88%,#b8a212 96.88% 100%)"></div>
<div class="c" style="left:1062.02px;top:1540.52px;width:297.47px;height:33.37px;background:linear-gradient(to right,#b8cab8 0% 3.12%,#b6c8b4 3.12% 6.25%,#b4c5b0 6.25% 9.38%,#b2c3ac 9.38% 12.5%,#b0c1a7 12.5% 15.62%,#aebea3 15.62% 18.75%,#acbc9f 18.75% 21.88%,#aaba9b 21.88% 25%,#a8b897 25% 28.12%,#a6b694 28.12% 31.25%,#a5b592 31.25% 34.38%,#a3b48f 34.38% 37.5%,#a1b38c 37.5% 40.62%,#a0b189 40.62% 43.75%,#9eb086 43.75% 46.88%,#9daf83 46.88% 50%,#9aac7e 50% 53.12%,#96a875 53.12% 56.25%,#92a46d 56.25% 59.38%,#8ea065 59.38% 62.5%,#8b9d5c 62.5% 65.62%,#879954 65.62% 68.75%,#83954d 68.75% 71.88%,#81934a 71.88% 75%,#7e9148 75% 78.12%,#7b8f45 78.12% 81.25%,#798d42 81.25% 84.38%,#768b3f 84.38% 87.5%,#74883c 87.5% 90.62%,#71863a 90.62% 93.75%,#6f8437 93.75% 96.88%,#6c8234 96.88% 100%)"></div>
<div class="c" style="left:1062.02px;top:1573.39px;width:297.47px;height:33.37px;background:linear-gradient(to right,#a4bcc6 0% 3.12%,#a5bdc6 3.12% 6.25%,#a7bec7 6.25% 9.38%,#a8bfc7 9.38% 12.5%,#a9c0c7 12.5% 15.62%,#aac1c8 15.62% 18.75%,#acc2c8 18.75% 21.88%,#adc3c8 21.88% 25%,#aec4c9 25% 28.12%,#b0c5c9 28.12% 31.25%,#b1c6c9 31.25% 34.38%,#b2c7ca 34.38% 37.5%,#b3c8ca 37.5% 40.62%,#b5c9ca 40.62% 43.75%,#b6c9ca 43.75% 46.88%,#b7caca 46.88% 50%,#b8cbca 50% 53.12%,#b9cccb 53.12% 56.25%,#bacdcb 56.25% 59.38%,#bbcecb 59.38% 62.5%,#bccfcb 62.5% 65.62%,#bdd0cb 65.62% 68.75%,#bfd1cb 68.75% 71.88%,#c1d2cc 71.88% 75%,#c3d3cc 75% 78.12%,#c4d4cc 78.12% 100%)"></div>
<div class="c" style="left:1062.02px;top:1606.26px;width:297.47px;height:33.37px;background:linear-gradient(to right,#7e9cb6 0% 3.12%,#7f9db7 3.12% 6.25%,#819eb8 6.25% 9.38%,#829fb8 9.38% 12.5%,#83a1b9 12.5% 15.62%,#84a2ba 15.62% 18.75%,#86a3bb 18.75% 21.88%,#87a4bc 21.88% 25%,#88a5bc 25% 28.12%,#8aa6bd 28.12% 31.25%,#8ba7be 31.25% 34.38%,#8ca8bf 34.38% 37.5%,#8daac0 37.5% 40.62%,#8eaac0 40.62% 43.75%,#8fabc0 43.75% 50%,#90acc0 50% 56.25%,#91adc0 56.25% 62.5%,#92aec0 62.5% 65.62%,#93aec0 65.62% 68.75%,#94afc0 68.75% 71.88%,#95b0c1 71.88% 75%,#96b0c1 75% 78.12%,#96b1c1 78.12% 81.25%,#97b1c1 81.25% 84.38%,#98b2c1 84.38% 87.5%,#99b2c1 87.5% 90.62%,#9ab3c2 90.62% 93.75%,#9bb3c2 93.75% 96.88%,#9cb4c2 96.88% 100%)"></div>
<div class="c" style="left:1062.02px;top:1639.13px;width:297.47px;height:33.37px;background:linear-gradient(to right,#6676a4 0% 3.12%,#6777a4 3.12% 6.25%,#6777a5 6.25% 9.38%,#6878a5 9.38% 12.5%,#6979a5 12.5% 15.62%,#6979a6 15.62% 18.75%,#6a7aa6 18.75% 21.88%,#6b7ba6 21.88% 25%,#6b7ba7 25% 28.12%,#6c7ca7 28.12% 34.38%,#6d7da8 34.38% 37.5%,#6e7ea8 37.5% 43.75%,#6f7fa8 43.75% 46.88%,#6f7fa9 46.88% 50%,#7080a9 50% 56.25%,#7181a9 56.25% 59.38%,#7181aa 59.38% 62.5%,#7282aa 62.5% 65.62%,#7383aa 65.62% 68.75%,#7384ab 68.75% 71.88%,#7485ac 71.88% 75%,#7586ac 75% 78.12%,#7687ad 78.12% 81.25%,#7688ad 81.25% 84.38%,#778aae 84.38% 87.5%,#788bae 87.5% 90.62%,#798caf 90.62% 93.75%,#798daf 93.75% 96.88%,#7a8eb0 96.88% 100%)"></div>
<div class="c" style="left:467.48px;top:1014.6px;width:0.8px;height:657.4px;background:rgba(255,255,255,0.11)"></div>
<div class="c" style="left:764.55px;top:1014.6px;width:0.8px;height:657.4px;background:rgba(255,255,255,0.11)"></div>
<div class="c" style="left:1061.62px;top:1014.6px;width:0.8px;height:657.4px;background:rgba(255,255,255,0.11)"></div>
<div class="c" style="left:1380.4px;top:1021.8px;width:38.8px;height:647.8px;background:linear-gradient(to top,#444888 0%,#6e7eac 10.4%,#7e94b6 14%,#94aec0 18.2%,#c2d2ca 29.6%,#8a9a68 36.6%,#5a7018 43%,#a89a10 51.9%,#ecbc00 57%,#eab00a 61.5%,#e89a10 68%,#e07c14 77.6%,#d86410 84.6%,#cc4a0e 92.6%,#c0340c 100%);box-shadow:0 0 0 0.8px #3a3a3a"></div>
<svg width="2500" height="1822" viewBox="0 0 2500 1822">
<rect x="166.5" y="141.8" width="1.6" height="656.5" fill="#000"/>
<rect x="166.5" y="796.6" width="1179.3" height="1.7" fill="#000"/>
<rect x="165" y="157.67" width="1.6" height="1" fill="#222"/>
<text x="164.4" y="162.11" class="tk" text-anchor="end" font-size="11">&lt;5</text>
<rect x="165" y="190.41" width="1.6" height="1" fill="#222"/>
<text x="164.4" y="194.85" class="tk" text-anchor="end" font-size="11">5 to 9</text>
<rect x="165" y="223.15" width="1.6" height="1" fill="#222"/>
<text x="164.4" y="227.59" class="tk" text-anchor="end" font-size="11">10 to 14</text>
<rect x="165" y="255.89" width="1.6" height="1" fill="#222"/>
<text x="164.4" y="260.33" class="tk" text-anchor="end" font-size="11">15 to 19</text>
<rect x="165" y="288.63" width="1.6" height="1" fill="#222"/>
<text x="164.4" y="293.07" class="tk" text-anchor="end" font-size="11">20 to 24</text>
<rect x="165" y="321.37" width="1.6" height="1" fill="#222"/>
<text x="164.4" y="325.81" class="tk" text-anchor="end" font-size="11">25 to 29</text>
<rect x="165" y="354.11" width="1.6" height="1" fill="#222"/>
<text x="164.4" y="358.55" class="tk" text-anchor="end" font-size="11">30 to 34</text>
<rect x="165" y="386.85" width="1.6" height="1" fill="#222"/>
<text x="164.4" y="391.29" class="tk" text-anchor="end" font-size="11">35 to 39</text>
<rect x="165" y="419.59" width="1.6" height="1" fill="#222"/>
<text x="164.4" y="424.03" class="tk" text-anchor="end" font-size="11">40 to 44</text>
<rect x="165" y="452.33" width="1.6" height="1" fill="#222"/>
<text x="164.4" y="456.77" class="tk" text-anchor="end" font-size="11">45 to 49</text>
<rect x="165" y="485.07" width="1.6" height="1" fill="#222"/>
<text x="164.4" y="489.51" class="tk" text-anchor="end" font-size="11">50 to 54</text>
<rect x="165" y="517.81" width="1.6" height="1" fill="#222"/>
<text x="164.4" y="522.25" class="tk" text-anchor="end" font-size="11">55 to 59</text>
<rect x="165" y="550.55" width="1.6" height="1" fill="#222"/>
<text x="164.4" y="554.99" class="tk" text-anchor="end" font-size="11">60 to 64</text>
<rect x="165" y="583.29" width="1.6" height="1" fill="#222"/>
<text x="164.4" y="587.73" class="tk" text-anchor="end" font-size="11">65 to 69</text>
<rect x="165" y="616.03" width="1.6" height="1" fill="#222"/>
<text x="164.4" y="620.47" class="tk" text-anchor="end" font-size="11">70 to 74</text>
<rect x="165" y="648.77" width="1.6" height="1" fill="#222"/>
<text x="164.4" y="653.21" class="tk" text-anchor="end" font-size="11">75 to 79</text>
<rect x="165" y="681.51" width="1.6" height="1" fill="#222"/>
<text x="164.4" y="685.95" class="tk" text-anchor="end" font-size="11">80 to 84</text>
<rect x="165" y="714.25" width="1.6" height="1" fill="#222"/>
<text x="164.4" y="718.69" class="tk" text-anchor="end" font-size="11">85 to 89</text>
<rect x="165" y="746.99" width="1.6" height="1" fill="#222"/>
<text x="164.4" y="751.43" class="tk" text-anchor="end" font-size="11">90 to 94</text>
<rect x="165" y="779.73" width="1.6" height="1" fill="#222"/>
<text x="164.4" y="784.17" class="tk" text-anchor="end" font-size="11">95 plus</text>
<rect x="172.15" y="797.8" width="0.9" height="2.2" fill="#333"/>
<text transform="translate(176.54,801) rotate(-90)" class="tk" text-anchor="end" font-size="11">1990</text>
<rect x="264.17" y="797.8" width="0.9" height="2.2" fill="#333"/>
<text transform="translate(268.55,801) rotate(-90)" class="tk" text-anchor="end" font-size="11">2000</text>
<rect x="356.18" y="797.8" width="0.9" height="2.2" fill="#333"/>
<text transform="translate(360.57,801) rotate(-90)" class="tk" text-anchor="end" font-size="11">2010</text>
<rect x="448.2" y="797.8" width="0.9" height="2.2" fill="#333"/>
<text transform="translate(452.59,801) rotate(-90)" class="tk" text-anchor="end" font-size="11">2020</text>
<text x="315.23" y="137.6" class="b" text-anchor="middle" font-size="11">Global</text>
<rect x="466.6" y="797.8" width="0.9" height="2.2" fill="#333"/>
<text transform="translate(470.99,801) rotate(-90)" class="tk" text-anchor="end" font-size="11">1990</text>
<rect x="558.62" y="797.8" width="0.9" height="2.2" fill="#333"/>
<text transform="translate(563,801) rotate(-90)" class="tk" text-anchor="end" font-size="11">2000</text>
<rect x="650.63" y="797.8" width="0.9" height="2.2" fill="#333"/>
<text transform="translate(655.02,801) rotate(-90)" class="tk" text-anchor="end" font-size="11">2010</text>
<rect x="742.65" y="797.8" width="0.9" height="2.2" fill="#333"/>
<text transform="translate(747.04,801) rotate(-90)" class="tk" text-anchor="end" font-size="11">2020</text>
<text x="609.67" y="137.6" class="b" text-anchor="middle" font-size="11">High SDI</text>
<rect x="761.05" y="797.8" width="0.9" height="2.2" fill="#333"/>
<text transform="translate(765.44,801) rotate(-90)" class="tk" text-anchor="end" font-size="11">1990</text>
<rect x="853.07" y="797.8" width="0.9" height="2.2" fill="#333"/>
<text transform="translate(857.45,801) rotate(-90)" class="tk" text-anchor="end" font-size="11">2000</text>
<rect x="945.08" y="797.8" width="0.9" height="2.2" fill="#333"/>
<text transform="translate(949.47,801) rotate(-90)" class="tk" text-anchor="end" font-size="11">2010</text>
<rect x="1037.1" y="797.8" width="0.9" height="2.2" fill="#333"/>
<text transform="translate(1041.49,801) rotate(-90)" class="tk" text-anchor="end" font-size="11">2020</text>
<text x="904.12" y="137.6" class="b" text-anchor="middle" font-size="11">High−income Asia Pacific</text>
<rect x="1055.5" y="797.8" width="0.9" height="2.2" fill="#333"/>
<text transform="translate(1059.89,801) rotate(-90)" class="tk" text-anchor="end" font-size="11">1990</text>
<rect x="1147.52" y="797.8" width="0.9" height="2.2" fill="#333"/>
<text transform="translate(1151.9,801) rotate(-90)" class="tk" text-anchor="end" font-size="11">2000</text>
<rect x="1239.53" y="797.8" width="0.9" height="2.2" fill="#333"/>
<text transform="translate(1243.92,801) rotate(-90)" class="tk" text-anchor="end" font-size="11">2010</text>
<rect x="1331.55" y="797.8" width="0.9" height="2.2" fill="#333"/>
<text transform="translate(1335.94,801) rotate(-90)" class="tk" text-anchor="end" font-size="11">2020</text>
<text x="1198.58" y="137.6" class="b" text-anchor="middle" font-size="11">Japan</text>
<text x="756.9" y="118.6" class="b" text-anchor="middle" font-size="13.72">Age−specific prevalence rates across regions from 1990 to 2021</text>
<text x="756.9" y="842.1" class="b" text-anchor="middle" font-size="13.6">Year</text>
<text transform="translate(113.47,469.2) rotate(-90)" class="b" text-anchor="middle" font-size="13.6">Age</text>
<text x="1411.5" y="200.04" class="cbt" font-size="8.2">1600</text>
<text x="1411.5" y="359.74" class="cbt" font-size="8.2">1200</text>
<text x="1411.5" y="519.94" class="cbt" font-size="8.2">800</text>
<text x="1411.5" y="679.94" class="cbt" font-size="8.2">400</text>
<rect x="169.3" y="1014.6" width="1.6" height="659.1" fill="#000"/>
<rect x="169.3" y="1672" width="1189.8" height="1.7" fill="#000"/>
<rect x="167.8" y="1030.54" width="1.6" height="1" fill="#222"/>
<text x="166.6" y="1034.97" class="tk" text-anchor="end" font-size="11">&lt;5</text>
<rect x="167.8" y="1063.4" width="1.6" height="1" fill="#222"/>
<text x="166.6" y="1067.84" class="tk" text-anchor="end" font-size="11">5 to 9</text>
<rect x="167.8" y="1096.28" width="1.6" height="1" fill="#222"/>
<text x="166.6" y="1100.71" class="tk" text-anchor="end" font-size="11">10 to 14</text>
<rect x="167.8" y="1129.14" width="1.6" height="1" fill="#222"/>
<text x="166.6" y="1133.58" class="tk" text-anchor="end" font-size="11">15 to 19</text>
<rect x="167.8" y="1162.02" width="1.6" height="1" fill="#222"/>
<text x="166.6" y="1166.45" class="tk" text-anchor="end" font-size="11">20 to 24</text>
<rect x="167.8" y="1194.88" width="1.6" height="1" fill="#222"/>
<text x="166.6" y="1199.32" class="tk" text-anchor="end" font-size="11">25 to 29</text>
<rect x="167.8" y="1227.76" width="1.6" height="1" fill="#222"/>
<text x="166.6" y="1232.19" class="tk" text-anchor="end" font-size="11">30 to 34</text>
<rect x="167.8" y="1260.62" width="1.6" height="1" fill="#222"/>
<text x="166.6" y="1265.06" class="tk" text-anchor="end" font-size="11">35 to 39</text>
<rect x="167.8" y="1293.49" width="1.6" height="1" fill="#222"/>
<text x="166.6" y="1297.93" class="tk" text-anchor="end" font-size="11">40 to 44</text>
<rect x="167.8" y="1326.37" width="1.6" height="1" fill="#222"/>
<text x="166.6" y="1330.8" class="tk" text-anchor="end" font-size="11">45 to 49</text>
<rect x="167.8" y="1359.24" width="1.6" height="1" fill="#222"/>
<text x="166.6" y="1363.67" class="tk" text-anchor="end" font-size="11">50 to 54</text>
<rect x="167.8" y="1392.11" width="1.6" height="1" fill="#222"/>
<text x="166.6" y="1396.54" class="tk" text-anchor="end" font-size="11">55 to 59</text>
<rect x="167.8" y="1424.97" width="1.6" height="1" fill="#222"/>
<text x="166.6" y="1429.41" class="tk" text-anchor="end" font-size="11">60 to 64</text>
<rect x="167.8" y="1457.85" width="1.6" height="1" fill="#222"/>
<text x="166.6" y="1462.28" class="tk" text-anchor="end" font-size="11">65 to 69</text>
<rect x="167.8" y="1490.71" width="1.6" height="1" fill="#222"/>
<text x="166.6" y="1495.15" class="tk" text-anchor="end" font-size="11">70 to 74</text>
<rect x="167.8" y="1523.59" width="1.6" height="1" fill="#222"/>
<text x="166.6" y="1528.02" class="tk" text-anchor="end" font-size="11">75 to 79</text>
<rect x="167.8" y="1556.45" width="1.6" height="1" fill="#222"/>
<text x="166.6" y="1560.89" class="tk" text-anchor="end" font-size="11">80 to 84</text>
<rect x="167.8" y="1589.32" width="1.6" height="1" fill="#222"/>
<text x="166.6" y="1593.76" class="tk" text-anchor="end" font-size="11">85 to 89</text>
<rect x="167.8" y="1622.19" width="1.6" height="1" fill="#222"/>
<text x="166.6" y="1626.63" class="tk" text-anchor="end" font-size="11">90 to 94</text>
<rect x="167.8" y="1655.07" width="1.6" height="1" fill="#222"/>
<text x="166.6" y="1659.5" class="tk" text-anchor="end" font-size="11">95 plus</text>
<rect x="174.99" y="1673.2" width="0.9" height="2.2" fill="#333"/>
<text transform="translate(179.38,1677) rotate(-90)" class="tk" text-anchor="end" font-size="11">1990</text>
<rect x="267.83" y="1673.2" width="0.9" height="2.2" fill="#333"/>
<text transform="translate(272.22,1677) rotate(-90)" class="tk" text-anchor="end" font-size="11">2000</text>
<rect x="360.66" y="1673.2" width="0.9" height="2.2" fill="#333"/>
<text transform="translate(365.05,1677) rotate(-90)" class="tk" text-anchor="end" font-size="11">2010</text>
<rect x="453.5" y="1673.2" width="0.9" height="2.2" fill="#333"/>
<text transform="translate(457.89,1677) rotate(-90)" class="tk" text-anchor="end" font-size="11">2020</text>
<text x="319.34" y="1009.7" class="b" text-anchor="middle" font-size="11">Global</text>
<rect x="472.07" y="1673.2" width="0.9" height="2.2" fill="#333"/>
<text transform="translate(476.45,1677) rotate(-90)" class="tk" text-anchor="end" font-size="11">1990</text>
<rect x="564.9" y="1673.2" width="0.9" height="2.2" fill="#333"/>
<text transform="translate(569.29,1677) rotate(-90)" class="tk" text-anchor="end" font-size="11">2000</text>
<rect x="657.74" y="1673.2" width="0.9" height="2.2" fill="#333"/>
<text transform="translate(662.13,1677) rotate(-90)" class="tk" text-anchor="end" font-size="11">2010</text>
<rect x="750.57" y="1673.2" width="0.9" height="2.2" fill="#333"/>
<text transform="translate(754.96,1677) rotate(-90)" class="tk" text-anchor="end" font-size="11">2020</text>
<text x="616.41" y="1009.7" class="b" text-anchor="middle" font-size="11">High SDI</text>
<rect x="769.14" y="1673.2" width="0.9" height="2.2" fill="#333"/>
<text transform="translate(773.53,1677) rotate(-90)" class="tk" text-anchor="end" font-size="11">1990</text>
<rect x="861.98" y="1673.2" width="0.9" height="2.2" fill="#333"/>
<text transform="translate(866.37,1677) rotate(-90)" class="tk" text-anchor="end" font-size="11">2000</text>
<rect x="954.81" y="1673.2" width="0.9" height="2.2" fill="#333"/>
<text transform="translate(959.2,1677) rotate(-90)" class="tk" text-anchor="end" font-size="11">2010</text>
<rect x="1047.65" y="1673.2" width="0.9" height="2.2" fill="#333"/>
<text transform="translate(1052.04,1677) rotate(-90)" class="tk" text-anchor="end" font-size="11">2020</text>
<text x="913.49" y="1009.7" class="b" text-anchor="middle" font-size="11">High−income Asia Pacific</text>
<rect x="1066.22" y="1673.2" width="0.9" height="2.2" fill="#333"/>
<text transform="translate(1070.6,1677) rotate(-90)" class="tk" text-anchor="end" font-size="11">1990</text>
<rect x="1159.05" y="1673.2" width="0.9" height="2.2" fill="#333"/>
<text transform="translate(1163.44,1677) rotate(-90)" class="tk" text-anchor="end" font-size="11">2000</text>
<rect x="1251.89" y="1673.2" width="0.9" height="2.2" fill="#333"/>
<text transform="translate(1256.28,1677) rotate(-90)" class="tk" text-anchor="end" font-size="11">2010</text>
<rect x="1344.72" y="1673.2" width="0.9" height="2.2" fill="#333"/>
<text transform="translate(1349.11,1677) rotate(-90)" class="tk" text-anchor="end" font-size="11">2020</text>
<text x="1210.56" y="1009.7" class="b" text-anchor="middle" font-size="11">Japan</text>
<text x="764.95" y="990.4" class="b" text-anchor="middle" font-size="13.75">Age−specific DALY rates across regions from 1990 to 2021</text>
<text x="764.95" y="1718" class="b" text-anchor="middle" font-size="13.6">Year</text>
<text transform="translate(115.67,1343.3) rotate(-90)" class="b" text-anchor="middle" font-size="13.6">Age</text>
<text x="1425" y="1094.34" class="cbt" font-size="8.2">300</text>
<text x="1425" y="1298.54" class="cbt" font-size="8.2">200</text>
<text x="1425" y="1503.14" class="cbt" font-size="8.2">100</text>
<text x="1.4" y="76.2" class="L" font-size="103">A</text>
<text x="0.6" y="943.4" class="L" font-size="100.5">B</text>
<text x="1446" y="75.4" class="L" font-size="103">C</text>
<text x="1446" y="943.8" class="L" font-size="100.5">D</text>
<text x="1664" y="27" class="t" text-anchor="middle" font-size="17">age</text>
<text x="2424.5" y="27" class="t" text-anchor="middle" font-size="17">age</text>
<rect x="1739" y="39.6" width="83.6" height="42.6" fill="#cc414a"/>
<rect x="2258" y="39.6" width="92" height="42.6" fill="#cc3f4a"/>
<text x="1664" y="66.84" class="t ag" text-anchor="middle" font-size="17">&lt;5</text>
<text x="1784.5" y="66.84" class="v" text-anchor="middle" font-size="17">1576.23</text>
<text x="2304" y="66.84" class="v" text-anchor="middle" font-size="17">1692.73</text>
<text x="2424.5" y="66.84" class="t ag" text-anchor="middle" font-size="17">&lt;5</text>
<rect x="1589" y="81.4" width="233.6" height="1" fill="#d3d3d3"/>
<rect x="2258" y="81.4" width="233" height="1" fill="#d3d3d3"/>
<rect x="1739" y="81.1" width="83.6" height="1.6" fill="#d0d0d0"/>
<rect x="2258" y="81.1" width="92" height="1.6" fill="#d0d0d0"/>
<polyline points="1903.1,74.65 1911.77,72.83 1920.44,71.02 1929.11,69.2 1937.78,67.57 1946.45,66.12 1955.13,64.3 1963.8,62.49 1972.47,61.03 1981.14,60.31 1989.81,59.94 1998.48,59.76 2007.15,59.76 2015.82,59.76 2024.49,59.58 2033.16,59.58 2041.84,59.58 2050.51,59.4 2059.18,59.4 2067.85,59.22 2076.52,59.04 2085.19,57.22 2093.86,53.41 2102.53,49.05 2111.2,45.42 2119.87,44.15 2128.55,45.06 2137.22,47.24 2145.89,49.23 2154.56,50.5 2163.23,49.41 2171.9,49.41" class="sp"/>
<g class="dt"><circle cx="1903.1" cy="74.65" r="0.75"/><circle cx="1911.77" cy="72.83" r="0.75"/><circle cx="1920.44" cy="71.02" r="0.75"/><circle cx="1929.11" cy="69.2" r="0.75"/><circle cx="1937.78" cy="67.57" r="0.75"/><circle cx="1946.45" cy="66.12" r="0.75"/><circle cx="1955.13" cy="64.3" r="0.75"/><circle cx="1963.8" cy="62.49" r="0.75"/><circle cx="1972.47" cy="61.03" r="0.75"/><circle cx="1981.14" cy="60.31" r="0.75"/><circle cx="1989.81" cy="59.94" r="0.75"/><circle cx="1998.48" cy="59.76" r="0.75"/><circle cx="2007.15" cy="59.76" r="0.75"/><circle cx="2015.82" cy="59.76" r="0.75"/><circle cx="2024.49" cy="59.58" r="0.75"/><circle cx="2033.16" cy="59.58" r="0.75"/><circle cx="2041.84" cy="59.58" r="0.75"/><circle cx="2050.51" cy="59.4" r="0.75"/><circle cx="2059.18" cy="59.4" r="0.75"/><circle cx="2067.85" cy="59.22" r="0.75"/><circle cx="2076.52" cy="59.04" r="0.75"/><circle cx="2085.19" cy="57.22" r="0.75"/><circle cx="2093.86" cy="53.41" r="0.75"/><circle cx="2102.53" cy="49.05" r="0.75"/><circle cx="2111.2" cy="45.42" r="0.75"/><circle cx="2119.87" cy="44.15" r="0.75"/><circle cx="2128.55" cy="45.06" r="0.75"/><circle cx="2137.22" cy="47.24" r="0.75"/><circle cx="2145.89" cy="49.23" r="0.75"/><circle cx="2154.56" cy="50.5" r="0.75"/><circle cx="2163.23" cy="49.41" r="0.75"/><circle cx="2171.9" cy="49.41" r="0.75"/></g>
<circle cx="2119.87" cy="44.15" r="0.9" fill="#5fbf6f"/>
<circle cx="2171.9" cy="49.41" r="1.1" fill="#2a38a8"/>
<rect x="1739" y="81.9" width="83.6" height="42.6" fill="#cc454a"/>
<rect x="2258" y="81.9" width="92" height="42.6" fill="#cb434b"/>
<text x="1664" y="109.14" class="t ag" text-anchor="middle" font-size="17">5 to 9</text>
<text x="1784.5" y="109.14" class="v" text-anchor="middle" font-size="17">1560.05</text>
<text x="2304" y="109.14" class="v" text-anchor="middle" font-size="17">1677.72</text>
<text x="2424.5" y="109.14" class="t ag" text-anchor="middle" font-size="17">5 to 9</text>
<rect x="1589" y="123.7" width="233.6" height="1" fill="#d3d3d3"/>
<rect x="2258" y="123.7" width="233" height="1" fill="#d3d3d3"/>
<rect x="1739" y="123.4" width="83.6" height="1.6" fill="#d0d0d0"/>
<rect x="2258" y="123.4" width="92" height="1.6" fill="#d0d0d0"/>
<polyline points="1903.1,117.07 1911.77,115.26 1920.44,113.45 1929.11,111.65 1937.78,110.02 1946.45,108.57 1955.13,106.77 1963.8,104.96 1972.47,103.51 1981.14,102.79 1989.81,102.42 1998.48,102.21 2007.15,102.17 2015.82,102.13 2024.49,101.92 2033.16,101.88 2041.84,101.84 2050.51,101.64 2059.18,101.6 2067.85,101.39 2076.52,101.18 2085.19,99.4 2093.86,95.66 2102.53,91.38 2111.2,87.82 2119.87,86.57 2128.55,87.46 2137.22,89.59 2145.89,91.55 2154.56,92.79 2163.23,91.7 2171.9,91.68" class="sp"/>
<g class="dt"><circle cx="1903.1" cy="117.07" r="0.75"/><circle cx="1911.77" cy="115.26" r="0.75"/><circle cx="1920.44" cy="113.45" r="0.75"/><circle cx="1929.11" cy="111.65" r="0.75"/><circle cx="1937.78" cy="110.02" r="0.75"/><circle cx="1946.45" cy="108.57" r="0.75"/><circle cx="1955.13" cy="106.77" r="0.75"/><circle cx="1963.8" cy="104.96" r="0.75"/><circle cx="1972.47" cy="103.51" r="0.75"/><circle cx="1981.14" cy="102.79" r="0.75"/><circle cx="1989.81" cy="102.42" r="0.75"/><circle cx="1998.48" cy="102.21" r="0.75"/><circle cx="2007.15" cy="102.17" r="0.75"/><circle cx="2015.82" cy="102.13" r="0.75"/><circle cx="2024.49" cy="101.92" r="0.75"/><circle cx="2033.16" cy="101.88" r="0.75"/><circle cx="2041.84" cy="101.84" r="0.75"/><circle cx="2050.51" cy="101.64" r="0.75"/><circle cx="2059.18" cy="101.6" r="0.75"/><circle cx="2067.85" cy="101.39" r="0.75"/><circle cx="2076.52" cy="101.18" r="0.75"/><circle cx="2085.19" cy="99.4" r="0.75"/><circle cx="2093.86" cy="95.66" r="0.75"/><circle cx="2102.53" cy="91.38" r="0.75"/><circle cx="2111.2" cy="87.82" r="0.75"/><circle cx="2119.87" cy="86.57" r="0.75"/><circle cx="2128.55" cy="87.46" r="0.75"/><circle cx="2137.22" cy="89.59" r="0.75"/><circle cx="2145.89" cy="91.55" r="0.75"/><circle cx="2154.56" cy="92.79" r="0.75"/><circle cx="2163.23" cy="91.7" r="0.75"/><circle cx="2171.9" cy="91.68" r="0.75"/></g>
<circle cx="2119.87" cy="86.57" r="0.9" fill="#5fbf6f"/>
<circle cx="2171.9" cy="91.68" r="1.1" fill="#2a38a8"/>
<rect x="1739" y="124.2" width="83.6" height="42.6" fill="#cd474b"/>
<rect x="2258" y="124.2" width="92" height="42.6" fill="#cc464b"/>
<text x="1664" y="151.44" class="t ag" text-anchor="middle" font-size="17">10 to 14</text>
<text x="1784.5" y="151.44" class="v" text-anchor="middle" font-size="17">1550.40</text>
<text x="2304" y="151.44" class="v" text-anchor="middle" font-size="17">1667.18</text>
<text x="2424.5" y="151.44" class="t ag" text-anchor="middle" font-size="17">10 to 14</text>
<rect x="1589" y="166" width="233.6" height="1" fill="#d3d3d3"/>
<rect x="2258" y="166" width="233" height="1" fill="#d3d3d3"/>
<rect x="1739" y="165.7" width="83.6" height="1.6" fill="#d0d0d0"/>
<rect x="2258" y="165.7" width="92" height="1.6" fill="#d0d0d0"/>
<polyline points="1903.1,159.49 1911.77,157.69 1920.44,155.89 1929.11,154.09 1937.78,152.47 1946.45,151.03 1955.13,149.23 1963.8,147.43 1972.47,145.99 1981.14,145.27 1989.81,144.89 1998.48,144.66 2007.15,144.58 2015.82,144.5 2024.49,144.27 2033.16,144.19 2041.84,144.11 2050.51,143.87 2059.18,143.79 2067.85,143.56 2076.52,143.33 2085.19,141.58 2093.86,137.91 2102.53,133.71 2111.2,130.21 2119.87,128.99 2128.55,129.86 2137.22,131.95 2145.89,133.86 2154.56,135.07 2163.23,133.99 2171.9,133.95" class="sp"/>
<g class="dt"><circle cx="1903.1" cy="159.49" r="0.75"/><circle cx="1911.77" cy="157.69" r="0.75"/><circle cx="1920.44" cy="155.89" r="0.75"/><circle cx="1929.11" cy="154.09" r="0.75"/><circle cx="1937.78" cy="152.47" r="0.75"/><circle cx="1946.45" cy="151.03" r="0.75"/><circle cx="1955.13" cy="149.23" r="0.75"/><circle cx="1963.8" cy="147.43" r="0.75"/><circle cx="1972.47" cy="145.99" r="0.75"/><circle cx="1981.14" cy="145.27" r="0.75"/><circle cx="1989.81" cy="144.89" r="0.75"/><circle cx="1998.48" cy="144.66" r="0.75"/><circle cx="2007.15" cy="144.58" r="0.75"/><circle cx="2015.82" cy="144.5" r="0.75"/><circle cx="2024.49" cy="144.27" r="0.75"/><circle cx="2033.16" cy="144.19" r="0.75"/><circle cx="2041.84" cy="144.11" r="0.75"/><circle cx="2050.51" cy="143.87" r="0.75"/><circle cx="2059.18" cy="143.79" r="0.75"/><circle cx="2067.85" cy="143.56" r="0.75"/><circle cx="2076.52" cy="143.33" r="0.75"/><circle cx="2085.19" cy="141.58" r="0.75"/><circle cx="2093.86" cy="137.91" r="0.75"/><circle cx="2102.53" cy="133.71" r="0.75"/><circle cx="2111.2" cy="130.21" r="0.75"/><circle cx="2119.87" cy="128.99" r="0.75"/><circle cx="2128.55" cy="129.86" r="0.75"/><circle cx="2137.22" cy="131.95" r="0.75"/><circle cx="2145.89" cy="133.86" r="0.75"/><circle cx="2154.56" cy="135.07" r="0.75"/><circle cx="2163.23" cy="133.99" r="0.75"/><circle cx="2171.9" cy="133.95" r="0.75"/></g>
<circle cx="2119.87" cy="128.99" r="0.9" fill="#5fbf6f"/>
<circle cx="2171.9" cy="133.95" r="1.1" fill="#2a38a8"/>
<rect x="1739" y="166.5" width="83.6" height="42.6" fill="#cd494b"/>
<rect x="2258" y="166.5" width="92" height="42.6" fill="#cd484c"/>
<text x="1664" y="193.74" class="t ag" text-anchor="middle" font-size="17">15 to 19</text>
<text x="1784.5" y="193.74" class="v" text-anchor="middle" font-size="17">1542.72</text>
<text x="2304" y="193.74" class="v" text-anchor="middle" font-size="17">1658.99</text>
<text x="2424.5" y="193.74" class="t ag" text-anchor="middle" font-size="17">15 to 19</text>
<rect x="1589" y="208.3" width="233.6" height="1" fill="#d3d3d3"/>
<rect x="2258" y="208.3" width="233" height="1" fill="#d3d3d3"/>
<rect x="1739" y="208" width="83.6" height="1.6" fill="#d0d0d0"/>
<rect x="2258" y="208" width="92" height="1.6" fill="#d0d0d0"/>
<polyline points="1903.1,201.91 1911.77,200.12 1920.44,198.33 1929.11,196.53 1937.78,194.92 1946.45,193.49 1955.13,191.69 1963.8,189.9 1972.47,188.47 1981.14,187.75 1989.81,187.36 1998.48,187.1 2007.15,186.98 2015.82,186.86 2024.49,186.61 2033.16,186.49 2041.84,186.37 2050.51,186.11 2059.18,185.99 2067.85,185.74 2076.52,185.48 2085.19,183.76 2093.86,180.16 2102.53,176.04 2111.2,172.61 2119.87,171.41 2128.55,172.26 2137.22,174.3 2145.89,176.17 2154.56,177.36 2163.23,176.27 2171.9,176.22" class="sp"/>
<g class="dt"><circle cx="1903.1" cy="201.91" r="0.75"/><circle cx="1911.77" cy="200.12" r="0.75"/><circle cx="1920.44" cy="198.33" r="0.75"/><circle cx="1929.11" cy="196.53" r="0.75"/><circle cx="1937.78" cy="194.92" r="0.75"/><circle cx="1946.45" cy="193.49" r="0.75"/><circle cx="1955.13" cy="191.69" r="0.75"/><circle cx="1963.8" cy="189.9" r="0.75"/><circle cx="1972.47" cy="188.47" r="0.75"/><circle cx="1981.14" cy="187.75" r="0.75"/><circle cx="1989.81" cy="187.36" r="0.75"/><circle cx="1998.48" cy="187.1" r="0.75"/><circle cx="2007.15" cy="186.98" r="0.75"/><circle cx="2015.82" cy="186.86" r="0.75"/><circle cx="2024.49" cy="186.61" r="0.75"/><circle cx="2033.16" cy="186.49" r="0.75"/><circle cx="2041.84" cy="186.37" r="0.75"/><circle cx="2050.51" cy="186.11" r="0.75"/><circle cx="2059.18" cy="185.99" r="0.75"/><circle cx="2067.85" cy="185.74" r="0.75"/><circle cx="2076.52" cy="185.48" r="0.75"/><circle cx="2085.19" cy="183.76" r="0.75"/><circle cx="2093.86" cy="180.16" r="0.75"/><circle cx="2102.53" cy="176.04" r="0.75"/><circle cx="2111.2" cy="172.61" r="0.75"/><circle cx="2119.87" cy="171.41" r="0.75"/><circle cx="2128.55" cy="172.26" r="0.75"/><circle cx="2137.22" cy="174.3" r="0.75"/><circle cx="2145.89" cy="176.17" r="0.75"/><circle cx="2154.56" cy="177.36" r="0.75"/><circle cx="2163.23" cy="176.27" r="0.75"/><circle cx="2171.9" cy="176.22" r="0.75"/></g>
<circle cx="2119.87" cy="171.41" r="0.9" fill="#5fbf6f"/>
<circle cx="2171.9" cy="176.22" r="1.1" fill="#2a38a8"/>
<rect x="1739" y="208.8" width="83.6" height="42.6" fill="#ce4b4c"/>
<rect x="2258" y="208.8" width="92" height="42.6" fill="#ce4a4c"/>
<text x="1664" y="236.04" class="t ag" text-anchor="middle" font-size="17">20 to 24</text>
<text x="1784.5" y="236.04" class="v" text-anchor="middle" font-size="17">1534.19</text>
<text x="2304" y="236.04" class="v" text-anchor="middle" font-size="17">1650.04</text>
<text x="2424.5" y="236.04" class="t ag" text-anchor="middle" font-size="17">20 to 24</text>
<rect x="1589" y="250.6" width="233.6" height="1" fill="#d3d3d3"/>
<rect x="2258" y="250.6" width="233" height="1" fill="#d3d3d3"/>
<rect x="1739" y="250.3" width="83.6" height="1.6" fill="#d0d0d0"/>
<rect x="2258" y="250.3" width="92" height="1.6" fill="#d0d0d0"/>
<polyline points="1903.1,244.33 1911.77,242.55 1920.44,240.76 1929.11,238.98 1937.78,237.37 1946.45,235.94 1955.13,234.16 1963.8,232.37 1972.47,230.95 1981.14,230.23 1989.81,229.83 1998.48,229.55 2007.15,229.39 2015.82,229.23 2024.49,228.95 2033.16,228.79 2041.84,228.63 2050.51,228.35 2059.18,228.19 2067.85,227.91 2076.52,227.63 2085.19,225.95 2093.86,222.41 2102.53,218.37 2111.2,215.01 2119.87,213.83 2128.55,214.66 2137.22,216.65 2145.89,218.48 2154.56,219.64 2163.23,218.56 2171.9,218.49" class="sp"/>
<g class="dt"><circle cx="1903.1" cy="244.33" r="0.75"/><circle cx="1911.77" cy="242.55" r="0.75"/><circle cx="1920.44" cy="240.76" r="0.75"/><circle cx="1929.11" cy="238.98" r="0.75"/><circle cx="1937.78" cy="237.37" r="0.75"/><circle cx="1946.45" cy="235.94" r="0.75"/><circle cx="1955.13" cy="234.16" r="0.75"/><circle cx="1963.8" cy="232.37" r="0.75"/><circle cx="1972.47" cy="230.95" r="0.75"/><circle cx="1981.14" cy="230.23" r="0.75"/><circle cx="1989.81" cy="229.83" r="0.75"/><circle cx="1998.48" cy="229.55" r="0.75"/><circle cx="2007.15" cy="229.39" r="0.75"/><circle cx="2015.82" cy="229.23" r="0.75"/><circle cx="2024.49" cy="228.95" r="0.75"/><circle cx="2033.16" cy="228.79" r="0.75"/><circle cx="2041.84" cy="228.63" r="0.75"/><circle cx="2050.51" cy="228.35" r="0.75"/><circle cx="2059.18" cy="228.19" r="0.75"/><circle cx="2067.85" cy="227.91" r="0.75"/><circle cx="2076.52" cy="227.63" r="0.75"/><circle cx="2085.19" cy="225.95" r="0.75"/><circle cx="2093.86" cy="222.41" r="0.75"/><circle cx="2102.53" cy="218.37" r="0.75"/><circle cx="2111.2" cy="215.01" r="0.75"/><circle cx="2119.87" cy="213.83" r="0.75"/><circle cx="2128.55" cy="214.66" r="0.75"/><circle cx="2137.22" cy="216.65" r="0.75"/><circle cx="2145.89" cy="218.48" r="0.75"/><circle cx="2154.56" cy="219.64" r="0.75"/><circle cx="2163.23" cy="218.56" r="0.75"/><circle cx="2171.9" cy="218.49" r="0.75"/></g>
<circle cx="2119.87" cy="213.83" r="0.9" fill="#5fbf6f"/>
<circle cx="2171.9" cy="218.49" r="1.1" fill="#2a38a8"/>
<rect x="1739" y="251.1" width="83.6" height="42.6" fill="#cf4f4d"/>
<rect x="2258" y="251.1" width="92" height="42.6" fill="#ce4b4c"/>
<text x="1664" y="278.34" class="t ag" text-anchor="middle" font-size="17">25 to 29</text>
<text x="1784.5" y="278.34" class="v" text-anchor="middle" font-size="17">1522.01</text>
<text x="2304" y="278.34" class="v" text-anchor="middle" font-size="17">1648.09</text>
<text x="2424.5" y="278.34" class="t ag" text-anchor="middle" font-size="17">25 to 29</text>
<rect x="1589" y="292.9" width="233.6" height="1" fill="#d3d3d3"/>
<rect x="2258" y="292.9" width="233" height="1" fill="#d3d3d3"/>
<rect x="1739" y="292.6" width="83.6" height="1.6" fill="#d0d0d0"/>
<rect x="2258" y="292.6" width="92" height="1.6" fill="#d0d0d0"/>
<polyline points="1903.1,286.75 1911.77,284.97 1920.44,283.2 1929.11,281.42 1937.78,279.82 1946.45,278.4 1955.13,276.62 1963.8,274.85 1972.47,273.42 1981.14,272.72 1989.81,272.3 1998.48,272 2007.15,271.8 2015.82,271.6 2024.49,271.29 2033.16,271.09 2041.84,270.89 2050.51,270.59 2059.18,270.39 2067.85,270.08 2076.52,269.78 2085.19,268.13 2093.86,264.66 2102.53,260.7 2111.2,257.4 2119.87,256.25 2128.55,257.06 2137.22,259.01 2145.89,260.79 2154.56,261.93 2163.23,260.85 2171.9,260.76" class="sp"/>
<g class="dt"><circle cx="1903.1" cy="286.75" r="0.75"/><circle cx="1911.77" cy="284.97" r="0.75"/><circle cx="1920.44" cy="283.2" r="0.75"/><circle cx="1929.11" cy="281.42" r="0.75"/><circle cx="1937.78" cy="279.82" r="0.75"/><circle cx="1946.45" cy="278.4" r="0.75"/><circle cx="1955.13" cy="276.62" r="0.75"/><circle cx="1963.8" cy="274.85" r="0.75"/><circle cx="1972.47" cy="273.42" r="0.75"/><circle cx="1981.14" cy="272.72" r="0.75"/><circle cx="1989.81" cy="272.3" r="0.75"/><circle cx="1998.48" cy="272" r="0.75"/><circle cx="2007.15" cy="271.8" r="0.75"/><circle cx="2015.82" cy="271.6" r="0.75"/><circle cx="2024.49" cy="271.29" r="0.75"/><circle cx="2033.16" cy="271.09" r="0.75"/><circle cx="2041.84" cy="270.89" r="0.75"/><circle cx="2050.51" cy="270.59" r="0.75"/><circle cx="2059.18" cy="270.39" r="0.75"/><circle cx="2067.85" cy="270.08" r="0.75"/><circle cx="2076.52" cy="269.78" r="0.75"/><circle cx="2085.19" cy="268.13" r="0.75"/><circle cx="2093.86" cy="264.66" r="0.75"/><circle cx="2102.53" cy="260.7" r="0.75"/><circle cx="2111.2" cy="257.4" r="0.75"/><circle cx="2119.87" cy="256.25" r="0.75"/><circle cx="2128.55" cy="257.06" r="0.75"/><circle cx="2137.22" cy="259.01" r="0.75"/><circle cx="2145.89" cy="260.79" r="0.75"/><circle cx="2154.56" cy="261.93" r="0.75"/><circle cx="2163.23" cy="260.85" r="0.75"/><circle cx="2171.9" cy="260.76" r="0.75"/></g>
<circle cx="2119.87" cy="256.25" r="0.9" fill="#5fbf6f"/>
<circle cx="2171.9" cy="260.76" r="1.1" fill="#2a38a8"/>
<rect x="1739" y="293.4" width="83.6" height="42.6" fill="#d0524d"/>
<rect x="2258" y="293.4" width="92" height="42.6" fill="#cf4e4d"/>
<text x="1664" y="320.64" class="t ag" text-anchor="middle" font-size="17">30 to 34</text>
<text x="1784.5" y="320.64" class="v" text-anchor="middle" font-size="17">1510.95</text>
<text x="2304" y="320.64" class="v" text-anchor="middle" font-size="17">1637.08</text>
<text x="2424.5" y="320.64" class="t ag" text-anchor="middle" font-size="17">30 to 34</text>
<rect x="1589" y="335.2" width="233.6" height="1" fill="#d3d3d3"/>
<rect x="2258" y="335.2" width="233" height="1" fill="#d3d3d3"/>
<rect x="1739" y="334.9" width="83.6" height="1.6" fill="#d0d0d0"/>
<rect x="2258" y="334.9" width="92" height="1.6" fill="#d0d0d0"/>
<polyline points="1903.1,329.17 1911.77,327.4 1920.44,325.63 1929.11,323.86 1937.78,322.27 1946.45,320.86 1955.13,319.09 1963.8,317.32 1972.47,315.9 1981.14,315.2 1989.81,314.78 1998.48,314.45 2007.15,314.21 2015.82,313.97 2024.49,313.64 2033.16,313.4 2041.84,313.16 2050.51,312.82 2059.18,312.58 2067.85,312.25 2076.52,311.92 2085.19,310.31 2093.86,306.91 2102.53,303.03 2111.2,299.8 2119.87,298.67 2128.55,299.46 2137.22,301.36 2145.89,303.11 2154.56,304.21 2163.23,303.13 2171.9,303.03" class="sp"/>
<g class="dt"><circle cx="1903.1" cy="329.17" r="0.75"/><circle cx="1911.77" cy="327.4" r="0.75"/><circle cx="1920.44" cy="325.63" r="0.75"/><circle cx="1929.11" cy="323.86" r="0.75"/><circle cx="1937.78" cy="322.27" r="0.75"/><circle cx="1946.45" cy="320.86" r="0.75"/><circle cx="1955.13" cy="319.09" r="0.75"/><circle cx="1963.8" cy="317.32" r="0.75"/><circle cx="1972.47" cy="315.9" r="0.75"/><circle cx="1981.14" cy="315.2" r="0.75"/><circle cx="1989.81" cy="314.78" r="0.75"/><circle cx="1998.48" cy="314.45" r="0.75"/><circle cx="2007.15" cy="314.21" r="0.75"/><circle cx="2015.82" cy="313.97" r="0.75"/><circle cx="2024.49" cy="313.64" r="0.75"/><circle cx="2033.16" cy="313.4" r="0.75"/><circle cx="2041.84" cy="313.16" r="0.75"/><circle cx="2050.51" cy="312.82" r="0.75"/><circle cx="2059.18" cy="312.58" r="0.75"/><circle cx="2067.85" cy="312.25" r="0.75"/><circle cx="2076.52" cy="311.92" r="0.75"/><circle cx="2085.19" cy="310.31" r="0.75"/><circle cx="2093.86" cy="306.91" r="0.75"/><circle cx="2102.53" cy="303.03" r="0.75"/><circle cx="2111.2" cy="299.8" r="0.75"/><circle cx="2119.87" cy="298.67" r="0.75"/><circle cx="2128.55" cy="299.46" r="0.75"/><circle cx="2137.22" cy="301.36" r="0.75"/><circle cx="2145.89" cy="303.11" r="0.75"/><circle cx="2154.56" cy="304.21" r="0.75"/><circle cx="2163.23" cy="303.13" r="0.75"/><circle cx="2171.9" cy="303.03" r="0.75"/></g>
<circle cx="2119.87" cy="298.67" r="0.9" fill="#5fbf6f"/>
<circle cx="2171.9" cy="303.03" r="1.1" fill="#2a38a8"/>
<rect x="1739" y="335.7" width="83.6" height="42.6" fill="#d1564e"/>
<rect x="2258" y="335.7" width="92" height="42.6" fill="#d0524e"/>
<text x="1664" y="362.94" class="t ag" text-anchor="middle" font-size="17">35 to 39</text>
<text x="1784.5" y="362.94" class="v" text-anchor="middle" font-size="17">1495.34</text>
<text x="2304" y="362.94" class="v" text-anchor="middle" font-size="17">1621.81</text>
<text x="2424.5" y="362.94" class="t ag" text-anchor="middle" font-size="17">35 to 39</text>
<rect x="1589" y="377.5" width="233.6" height="1" fill="#d3d3d3"/>
<rect x="2258" y="377.5" width="233" height="1" fill="#d3d3d3"/>
<rect x="1739" y="377.2" width="83.6" height="1.6" fill="#d0d0d0"/>
<rect x="2258" y="377.2" width="92" height="1.6" fill="#d0d0d0"/>
<polyline points="1903.1,371.59 1911.77,369.83 1920.44,368.07 1929.11,366.31 1937.78,364.72 1946.45,363.31 1955.13,361.55 1963.8,359.79 1972.47,358.38 1981.14,357.68 1989.81,357.25 1998.48,356.89 2007.15,356.61 2015.82,356.33 2024.49,355.98 2033.16,355.7 2041.84,355.42 2050.51,355.06 2059.18,354.78 2067.85,354.43 2076.52,354.07 2085.19,352.49 2093.86,349.16 2102.53,345.36 2111.2,342.2 2119.87,341.09 2128.55,341.86 2137.22,343.72 2145.89,345.42 2154.56,346.5 2163.23,345.42 2171.9,345.29" class="sp"/>
<g class="dt"><circle cx="1903.1" cy="371.59" r="0.75"/><circle cx="1911.77" cy="369.83" r="0.75"/><circle cx="1920.44" cy="368.07" r="0.75"/><circle cx="1929.11" cy="366.31" r="0.75"/><circle cx="1937.78" cy="364.72" r="0.75"/><circle cx="1946.45" cy="363.31" r="0.75"/><circle cx="1955.13" cy="361.55" r="0.75"/><circle cx="1963.8" cy="359.79" r="0.75"/><circle cx="1972.47" cy="358.38" r="0.75"/><circle cx="1981.14" cy="357.68" r="0.75"/><circle cx="1989.81" cy="357.25" r="0.75"/><circle cx="1998.48" cy="356.89" r="0.75"/><circle cx="2007.15" cy="356.61" r="0.75"/><circle cx="2015.82" cy="356.33" r="0.75"/><circle cx="2024.49" cy="355.98" r="0.75"/><circle cx="2033.16" cy="355.7" r="0.75"/><circle cx="2041.84" cy="355.42" r="0.75"/><circle cx="2050.51" cy="355.06" r="0.75"/><circle cx="2059.18" cy="354.78" r="0.75"/><circle cx="2067.85" cy="354.43" r="0.75"/><circle cx="2076.52" cy="354.07" r="0.75"/><circle cx="2085.19" cy="352.49" r="0.75"/><circle cx="2093.86" cy="349.16" r="0.75"/><circle cx="2102.53" cy="345.36" r="0.75"/><circle cx="2111.2" cy="342.2" r="0.75"/><circle cx="2119.87" cy="341.09" r="0.75"/><circle cx="2128.55" cy="341.86" r="0.75"/><circle cx="2137.22" cy="343.72" r="0.75"/><circle cx="2145.89" cy="345.42" r="0.75"/><circle cx="2154.56" cy="346.5" r="0.75"/><circle cx="2163.23" cy="345.42" r="0.75"/><circle cx="2171.9" cy="345.29" r="0.75"/></g>
<circle cx="2119.87" cy="341.09" r="0.9" fill="#5fbf6f"/>
<circle cx="2171.9" cy="345.29" r="1.1" fill="#2a38a8"/>
<rect x="1739" y="378" width="83.6" height="42.6" fill="#d35a4f"/>
<rect x="2258" y="378" width="92" height="42.6" fill="#d2564f"/>
<text x="1664" y="405.24" class="t ag" text-anchor="middle" font-size="17">40 to 44</text>
<text x="1784.5" y="405.24" class="v" text-anchor="middle" font-size="17">1478.36</text>
<text x="2304" y="405.24" class="v" text-anchor="middle" font-size="17">1605.27</text>
<text x="2424.5" y="405.24" class="t ag" text-anchor="middle" font-size="17">40 to 44</text>
<rect x="1589" y="419.8" width="233.6" height="1" fill="#d3d3d3"/>
<rect x="2258" y="419.8" width="233" height="1" fill="#d3d3d3"/>
<rect x="1739" y="419.5" width="83.6" height="1.6" fill="#d0d0d0"/>
<rect x="2258" y="419.5" width="92" height="1.6" fill="#d0d0d0"/>
<polyline points="1903.1,414.01 1911.77,412.26 1920.44,410.5 1929.11,408.75 1937.78,407.17 1946.45,405.77 1955.13,404.01 1963.8,402.26 1972.47,400.86 1981.14,400.16 1989.81,399.72 1998.48,399.34 2007.15,399.02 2015.82,398.7 2024.49,398.32 2033.16,398 2041.84,397.68 2050.51,397.3 2059.18,396.98 2067.85,396.6 2076.52,396.22 2085.19,394.67 2093.86,391.41 2102.53,387.69 2111.2,384.59 2119.87,383.51 2128.55,384.26 2137.22,386.07 2145.89,387.73 2154.56,388.78 2163.23,387.7 2171.9,387.56" class="sp"/>
<g class="dt"><circle cx="1903.1" cy="414.01" r="0.75"/><circle cx="1911.77" cy="412.26" r="0.75"/><circle cx="1920.44" cy="410.5" r="0.75"/><circle cx="1929.11" cy="408.75" r="0.75"/><circle cx="1937.78" cy="407.17" r="0.75"/><circle cx="1946.45" cy="405.77" r="0.75"/><circle cx="1955.13" cy="404.01" r="0.75"/><circle cx="1963.8" cy="402.26" r="0.75"/><circle cx="1972.47" cy="400.86" r="0.75"/><circle cx="1981.14" cy="400.16" r="0.75"/><circle cx="1989.81" cy="399.72" r="0.75"/><circle cx="1998.48" cy="399.34" r="0.75"/><circle cx="2007.15" cy="399.02" r="0.75"/><circle cx="2015.82" cy="398.7" r="0.75"/><circle cx="2024.49" cy="398.32" r="0.75"/><circle cx="2033.16" cy="398" r="0.75"/><circle cx="2041.84" cy="397.68" r="0.75"/><circle cx="2050.51" cy="397.3" r="0.75"/><circle cx="2059.18" cy="396.98" r="0.75"/><circle cx="2067.85" cy="396.6" r="0.75"/><circle cx="2076.52" cy="396.22" r="0.75"/><circle cx="2085.19" cy="394.67" r="0.75"/><circle cx="2093.86" cy="391.41" r="0.75"/><circle cx="2102.53" cy="387.69" r="0.75"/><circle cx="2111.2" cy="384.59" r="0.75"/><circle cx="2119.87" cy="383.51" r="0.75"/><circle cx="2128.55" cy="384.26" r="0.75"/><circle cx="2137.22" cy="386.07" r="0.75"/><circle cx="2145.89" cy="387.73" r="0.75"/><circle cx="2154.56" cy="388.78" r="0.75"/><circle cx="2163.23" cy="387.7" r="0.75"/><circle cx="2171.9" cy="387.56" r="0.75"/></g>
<circle cx="2119.87" cy="383.51" r="0.9" fill="#5fbf6f"/>
<circle cx="2171.9" cy="387.56" r="1.1" fill="#2a38a8"/>
<rect x="1739" y="420.3" width="83.6" height="42.6" fill="#d65f51"/>
<rect x="2258" y="420.3" width="92" height="42.6" fill="#d55d51"/>
<text x="1664" y="447.54" class="t ag" text-anchor="middle" font-size="17">45 to 49</text>
<text x="1784.5" y="447.54" class="v" text-anchor="middle" font-size="17">1450.68</text>
<text x="2304" y="447.54" class="v" text-anchor="middle" font-size="17">1581.16</text>
<text x="2424.5" y="447.54" class="t ag" text-anchor="middle" font-size="17">45 to 49</text>
<rect x="1589" y="462.1" width="233.6" height="1" fill="#d3d3d3"/>
<rect x="2258" y="462.1" width="233" height="1" fill="#d3d3d3"/>
<rect x="1739" y="461.8" width="83.6" height="1.6" fill="#d0d0d0"/>
<rect x="2258" y="461.8" width="92" height="1.6" fill="#d0d0d0"/>
<polyline points="1903.1,456.43 1911.77,454.68 1920.44,452.94 1929.11,451.19 1937.78,449.62 1946.45,448.22 1955.13,446.48 1963.8,444.73 1972.47,443.34 1981.14,442.64 1989.81,442.19 1998.48,441.79 2007.15,441.43 2015.82,441.07 2024.49,440.66 2033.16,440.3 2041.84,439.94 2050.51,439.54 2059.18,439.18 2067.85,438.77 2076.52,438.37 2085.19,436.85 2093.86,433.67 2102.53,430.03 2111.2,426.99 2119.87,425.93 2128.55,426.66 2137.22,428.43 2145.89,430.04 2154.56,431.07 2163.23,429.99 2171.9,429.83" class="sp"/>
<g class="dt"><circle cx="1903.1" cy="456.43" r="0.75"/><circle cx="1911.77" cy="454.68" r="0.75"/><circle cx="1920.44" cy="452.94" r="0.75"/><circle cx="1929.11" cy="451.19" r="0.75"/><circle cx="1937.78" cy="449.62" r="0.75"/><circle cx="1946.45" cy="448.22" r="0.75"/><circle cx="1955.13" cy="446.48" r="0.75"/><circle cx="1963.8" cy="444.73" r="0.75"/><circle cx="1972.47" cy="443.34" r="0.75"/><circle cx="1981.14" cy="442.64" r="0.75"/><circle cx="1989.81" cy="442.19" r="0.75"/><circle cx="1998.48" cy="441.79" r="0.75"/><circle cx="2007.15" cy="441.43" r="0.75"/><circle cx="2015.82" cy="441.07" r="0.75"/><circle cx="2024.49" cy="440.66" r="0.75"/><circle cx="2033.16" cy="440.3" r="0.75"/><circle cx="2041.84" cy="439.94" r="0.75"/><circle cx="2050.51" cy="439.54" r="0.75"/><circle cx="2059.18" cy="439.18" r="0.75"/><circle cx="2067.85" cy="438.77" r="0.75"/><circle cx="2076.52" cy="438.37" r="0.75"/><circle cx="2085.19" cy="436.85" r="0.75"/><circle cx="2093.86" cy="433.67" r="0.75"/><circle cx="2102.53" cy="430.03" r="0.75"/><circle cx="2111.2" cy="426.99" r="0.75"/><circle cx="2119.87" cy="425.93" r="0.75"/><circle cx="2128.55" cy="426.66" r="0.75"/><circle cx="2137.22" cy="428.43" r="0.75"/><circle cx="2145.89" cy="430.04" r="0.75"/><circle cx="2154.56" cy="431.07" r="0.75"/><circle cx="2163.23" cy="429.99" r="0.75"/><circle cx="2171.9" cy="429.83" r="0.75"/></g>
<circle cx="2119.87" cy="425.93" r="0.9" fill="#5fbf6f"/>
<circle cx="2171.9" cy="429.83" r="1.1" fill="#2a38a8"/>
<rect x="1739" y="462.6" width="83.6" height="42.6" fill="#d96554"/>
<rect x="2258" y="462.6" width="92" height="42.6" fill="#d86452"/>
<text x="1664" y="489.84" class="t ag" text-anchor="middle" font-size="17">50 to 54</text>
<text x="1784.5" y="489.84" class="v" text-anchor="middle" font-size="17">1421.16</text>
<text x="2304" y="489.84" class="v" text-anchor="middle" font-size="17">1550.44</text>
<text x="2424.5" y="489.84" class="t ag" text-anchor="middle" font-size="17">50 to 54</text>
<rect x="1589" y="504.4" width="233.6" height="1" fill="#d3d3d3"/>
<rect x="2258" y="504.4" width="233" height="1" fill="#d3d3d3"/>
<rect x="1739" y="504.1" width="83.6" height="1.6" fill="#d0d0d0"/>
<rect x="2258" y="504.1" width="92" height="1.6" fill="#d0d0d0"/>
<polyline points="1903.1,498.85 1911.77,497.11 1920.44,495.37 1929.11,493.64 1937.78,492.07 1946.45,490.68 1955.13,488.94 1963.8,487.2 1972.47,485.81 1981.14,485.12 1989.81,484.66 1998.48,484.23 2007.15,483.83 2015.82,483.43 2024.49,483 2033.16,482.6 2041.84,482.2 2050.51,481.77 2059.18,481.37 2067.85,480.94 2076.52,480.51 2085.19,479.03 2093.86,475.92 2102.53,472.36 2111.2,469.39 2119.87,468.35 2128.55,469.06 2137.22,470.78 2145.89,472.35 2154.56,473.35 2163.23,472.28 2171.9,472.1" class="sp"/>
<g class="dt"><circle cx="1903.1" cy="498.85" r="0.75"/><circle cx="1911.77" cy="497.11" r="0.75"/><circle cx="1920.44" cy="495.37" r="0.75"/><circle cx="1929.11" cy="493.64" r="0.75"/><circle cx="1937.78" cy="492.07" r="0.75"/><circle cx="1946.45" cy="490.68" r="0.75"/><circle cx="1955.13" cy="488.94" r="0.75"/><circle cx="1963.8" cy="487.2" r="0.75"/><circle cx="1972.47" cy="485.81" r="0.75"/><circle cx="1981.14" cy="485.12" r="0.75"/><circle cx="1989.81" cy="484.66" r="0.75"/><circle cx="1998.48" cy="484.23" r="0.75"/><circle cx="2007.15" cy="483.83" r="0.75"/><circle cx="2015.82" cy="483.43" r="0.75"/><circle cx="2024.49" cy="483" r="0.75"/><circle cx="2033.16" cy="482.6" r="0.75"/><circle cx="2041.84" cy="482.2" r="0.75"/><circle cx="2050.51" cy="481.77" r="0.75"/><circle cx="2059.18" cy="481.37" r="0.75"/><circle cx="2067.85" cy="480.94" r="0.75"/><circle cx="2076.52" cy="480.51" r="0.75"/><circle cx="2085.19" cy="479.03" r="0.75"/><circle cx="2093.86" cy="475.92" r="0.75"/><circle cx="2102.53" cy="472.36" r="0.75"/><circle cx="2111.2" cy="469.39" r="0.75"/><circle cx="2119.87" cy="468.35" r="0.75"/><circle cx="2128.55" cy="469.06" r="0.75"/><circle cx="2137.22" cy="470.78" r="0.75"/><circle cx="2145.89" cy="472.35" r="0.75"/><circle cx="2154.56" cy="473.35" r="0.75"/><circle cx="2163.23" cy="472.28" r="0.75"/><circle cx="2171.9" cy="472.1" r="0.75"/></g>
<circle cx="2119.87" cy="468.35" r="0.9" fill="#5fbf6f"/>
<circle cx="2171.9" cy="472.1" r="1.1" fill="#2a38a8"/>
<rect x="1739" y="504.9" width="83.6" height="42.6" fill="#dd6e58"/>
<rect x="2258" y="504.9" width="92" height="42.6" fill="#db6a56"/>
<text x="1664" y="532.14" class="t ag" text-anchor="middle" font-size="17">55 to 59</text>
<text x="1784.5" y="532.14" class="v" text-anchor="middle" font-size="17">1384.50</text>
<text x="2304" y="532.14" class="v" text-anchor="middle" font-size="17">1515.25</text>
<text x="2424.5" y="532.14" class="t ag" text-anchor="middle" font-size="17">55 to 59</text>
<rect x="1589" y="546.7" width="233.6" height="1" fill="#d3d3d3"/>
<rect x="2258" y="546.7" width="233" height="1" fill="#d3d3d3"/>
<rect x="1739" y="546.4" width="83.6" height="1.6" fill="#d0d0d0"/>
<rect x="2258" y="546.4" width="92" height="1.6" fill="#d0d0d0"/>
<polyline points="1903.1,541.27 1911.77,539.54 1920.44,537.81 1929.11,536.08 1937.78,534.52 1946.45,533.14 1955.13,531.41 1963.8,529.68 1972.47,528.29 1981.14,527.61 1989.81,527.14 1998.48,526.68 2007.15,526.24 2015.82,525.8 2024.49,525.35 2033.16,524.91 2041.84,524.47 2050.51,524.01 2059.18,523.57 2067.85,523.12 2076.52,522.66 2085.19,521.21 2093.86,518.17 2102.53,514.69 2111.2,511.79 2119.87,510.77 2128.55,511.47 2137.22,513.13 2145.89,514.67 2154.56,515.64 2163.23,514.56 2171.9,514.37" class="sp"/>
<g class="dt"><circle cx="1903.1" cy="541.27" r="0.75"/><circle cx="1911.77" cy="539.54" r="0.75"/><circle cx="1920.44" cy="537.81" r="0.75"/><circle cx="1929.11" cy="536.08" r="0.75"/><circle cx="1937.78" cy="534.52" r="0.75"/><circle cx="1946.45" cy="533.14" r="0.75"/><circle cx="1955.13" cy="531.41" r="0.75"/><circle cx="1963.8" cy="529.68" r="0.75"/><circle cx="1972.47" cy="528.29" r="0.75"/><circle cx="1981.14" cy="527.61" r="0.75"/><circle cx="1989.81" cy="527.14" r="0.75"/><circle cx="1998.48" cy="526.68" r="0.75"/><circle cx="2007.15" cy="526.24" r="0.75"/><circle cx="2015.82" cy="525.8" r="0.75"/><circle cx="2024.49" cy="525.35" r="0.75"/><circle cx="2033.16" cy="524.91" r="0.75"/><circle cx="2041.84" cy="524.47" r="0.75"/><circle cx="2050.51" cy="524.01" r="0.75"/><circle cx="2059.18" cy="523.57" r="0.75"/><circle cx="2067.85" cy="523.12" r="0.75"/><circle cx="2076.52" cy="522.66" r="0.75"/><circle cx="2085.19" cy="521.21" r="0.75"/><circle cx="2093.86" cy="518.17" r="0.75"/><circle cx="2102.53" cy="514.69" r="0.75"/><circle cx="2111.2" cy="511.79" r="0.75"/><circle cx="2119.87" cy="510.77" r="0.75"/><circle cx="2128.55" cy="511.47" r="0.75"/><circle cx="2137.22" cy="513.13" r="0.75"/><circle cx="2145.89" cy="514.67" r="0.75"/><circle cx="2154.56" cy="515.64" r="0.75"/><circle cx="2163.23" cy="514.56" r="0.75"/><circle cx="2171.9" cy="514.37" r="0.75"/></g>
<circle cx="2119.87" cy="510.77" r="0.9" fill="#5fbf6f"/>
<circle cx="2171.9" cy="514.37" r="1.1" fill="#2a38a8"/>
<rect x="1739" y="547.2" width="83.6" height="42.6" fill="#e07c5e"/>
<rect x="2258" y="547.2" width="92" height="42.6" fill="#df7459"/>
<text x="1664" y="574.44" class="t ag" text-anchor="middle" font-size="17">60 to 64</text>
<text x="1784.5" y="574.44" class="v" text-anchor="middle" font-size="17">1327.25</text>
<text x="2304" y="574.44" class="v" text-anchor="middle" font-size="17">1467.61</text>
<text x="2424.5" y="574.44" class="t ag" text-anchor="middle" font-size="17">60 to 64</text>
<rect x="1589" y="589" width="233.6" height="1" fill="#d3d3d3"/>
<rect x="2258" y="589" width="233" height="1" fill="#d3d3d3"/>
<rect x="1739" y="588.7" width="83.6" height="1.6" fill="#d0d0d0"/>
<rect x="2258" y="588.7" width="92" height="1.6" fill="#d0d0d0"/>
<polyline points="1903.1,583.69 1911.77,581.97 1920.44,580.24 1929.11,578.52 1937.78,576.97 1946.45,575.59 1955.13,573.87 1963.8,572.15 1972.47,570.77 1981.14,570.09 1989.81,569.61 1998.48,569.13 2007.15,568.65 2015.82,568.17 2024.49,567.69 2033.16,567.21 2041.84,566.73 2050.51,566.25 2059.18,565.77 2067.85,565.29 2076.52,564.81 2085.19,563.39 2093.86,560.42 2102.53,557.02 2111.2,554.18 2119.87,553.19 2128.55,553.87 2137.22,555.49 2145.89,556.98 2154.56,557.92 2163.23,556.85 2171.9,556.64" class="sp"/>
<g class="dt"><circle cx="1903.1" cy="583.69" r="0.75"/><circle cx="1911.77" cy="581.97" r="0.75"/><circle cx="1920.44" cy="580.24" r="0.75"/><circle cx="1929.11" cy="578.52" r="0.75"/><circle cx="1937.78" cy="576.97" r="0.75"/><circle cx="1946.45" cy="575.59" r="0.75"/><circle cx="1955.13" cy="573.87" r="0.75"/><circle cx="1963.8" cy="572.15" r="0.75"/><circle cx="1972.47" cy="570.77" r="0.75"/><circle cx="1981.14" cy="570.09" r="0.75"/><circle cx="1989.81" cy="569.61" r="0.75"/><circle cx="1998.48" cy="569.13" r="0.75"/><circle cx="2007.15" cy="568.65" r="0.75"/><circle cx="2015.82" cy="568.17" r="0.75"/><circle cx="2024.49" cy="567.69" r="0.75"/><circle cx="2033.16" cy="567.21" r="0.75"/><circle cx="2041.84" cy="566.73" r="0.75"/><circle cx="2050.51" cy="566.25" r="0.75"/><circle cx="2059.18" cy="565.77" r="0.75"/><circle cx="2067.85" cy="565.29" r="0.75"/><circle cx="2076.52" cy="564.81" r="0.75"/><circle cx="2085.19" cy="563.39" r="0.75"/><circle cx="2093.86" cy="560.42" r="0.75"/><circle cx="2102.53" cy="557.02" r="0.75"/><circle cx="2111.2" cy="554.18" r="0.75"/><circle cx="2119.87" cy="553.19" r="0.75"/><circle cx="2128.55" cy="553.87" r="0.75"/><circle cx="2137.22" cy="555.49" r="0.75"/><circle cx="2145.89" cy="556.98" r="0.75"/><circle cx="2154.56" cy="557.92" r="0.75"/><circle cx="2163.23" cy="556.85" r="0.75"/><circle cx="2171.9" cy="556.64" r="0.75"/></g>
<circle cx="2119.87" cy="553.19" r="0.9" fill="#5fbf6f"/>
<circle cx="2171.9" cy="556.64" r="1.1" fill="#2a38a8"/>
<rect x="1739" y="589.5" width="83.6" height="42.6" fill="#eb9c68"/>
<rect x="2258" y="589.5" width="92" height="42.6" fill="#e58860"/>
<text x="1664" y="616.74" class="t ag" text-anchor="middle" font-size="17">65 to 69</text>
<text x="1784.5" y="616.74" class="v" text-anchor="middle" font-size="17">1184.50</text>
<text x="2304" y="616.74" class="v" text-anchor="middle" font-size="17">1374.04</text>
<text x="2424.5" y="616.74" class="t ag" text-anchor="middle" font-size="17">65 to 69</text>
<rect x="1589" y="631.3" width="233.6" height="1" fill="#d3d3d3"/>
<rect x="2258" y="631.3" width="233" height="1" fill="#d3d3d3"/>
<rect x="1739" y="631" width="83.6" height="1.6" fill="#d0d0d0"/>
<rect x="2258" y="631" width="92" height="1.6" fill="#d0d0d0"/>
<polyline points="1903.1,626.11 1911.77,623.01 1920.44,620.27 1929.11,617.53 1937.78,615.52 1946.45,614.06 1955.13,612.6 1963.8,611.32 1972.47,610.04 1981.14,608.94 1989.81,608.21 1998.48,608.03 2007.15,607.66 2015.82,607.3 2024.49,607.12 2033.16,606.93 2041.84,606.57 2050.51,606.39 2059.18,606.02 2067.85,605.84 2076.52,605.47 2085.19,603.83 2093.86,600.91 2102.53,598.17 2111.2,596.34 2119.87,595.61 2128.55,596.16 2137.22,597.25 2145.89,598.53 2154.56,598.9 2163.23,598.17 2171.9,597.98" class="sp"/>
<g class="dt"><circle cx="1903.1" cy="626.11" r="0.75"/><circle cx="1911.77" cy="623.01" r="0.75"/><circle cx="1920.44" cy="620.27" r="0.75"/><circle cx="1929.11" cy="617.53" r="0.75"/><circle cx="1937.78" cy="615.52" r="0.75"/><circle cx="1946.45" cy="614.06" r="0.75"/><circle cx="1955.13" cy="612.6" r="0.75"/><circle cx="1963.8" cy="611.32" r="0.75"/><circle cx="1972.47" cy="610.04" r="0.75"/><circle cx="1981.14" cy="608.94" r="0.75"/><circle cx="1989.81" cy="608.21" r="0.75"/><circle cx="1998.48" cy="608.03" r="0.75"/><circle cx="2007.15" cy="607.66" r="0.75"/><circle cx="2015.82" cy="607.3" r="0.75"/><circle cx="2024.49" cy="607.12" r="0.75"/><circle cx="2033.16" cy="606.93" r="0.75"/><circle cx="2041.84" cy="606.57" r="0.75"/><circle cx="2050.51" cy="606.39" r="0.75"/><circle cx="2059.18" cy="606.02" r="0.75"/><circle cx="2067.85" cy="605.84" r="0.75"/><circle cx="2076.52" cy="605.47" r="0.75"/><circle cx="2085.19" cy="603.83" r="0.75"/><circle cx="2093.86" cy="600.91" r="0.75"/><circle cx="2102.53" cy="598.17" r="0.75"/><circle cx="2111.2" cy="596.34" r="0.75"/><circle cx="2119.87" cy="595.61" r="0.75"/><circle cx="2128.55" cy="596.16" r="0.75"/><circle cx="2137.22" cy="597.25" r="0.75"/><circle cx="2145.89" cy="598.53" r="0.75"/><circle cx="2154.56" cy="598.9" r="0.75"/><circle cx="2163.23" cy="598.17" r="0.75"/><circle cx="2171.9" cy="597.98" r="0.75"/></g>
<circle cx="2119.87" cy="595.61" r="0.9" fill="#5fbf6f"/>
<circle cx="2171.9" cy="597.98" r="1.1" fill="#2a38a8"/>
<rect x="1739" y="631.8" width="83.6" height="42.6" fill="#d0a67c"/>
<rect x="2258" y="631.8" width="92" height="42.6" fill="#eca46c"/>
<text x="1664" y="659.04" class="t ag" text-anchor="middle" font-size="17">70 to 74</text>
<text x="1784.5" y="659.04" class="v" text-anchor="middle" font-size="17">1034.65</text>
<text x="2304" y="659.04" class="v" text-anchor="middle" font-size="17">1235.22</text>
<text x="2424.5" y="659.04" class="t ag" text-anchor="middle" font-size="17">70 to 74</text>
<rect x="1589" y="673.6" width="233.6" height="1" fill="#d3d3d3"/>
<rect x="2258" y="673.6" width="233" height="1" fill="#d3d3d3"/>
<rect x="1739" y="673.3" width="83.6" height="1.6" fill="#d0d0d0"/>
<rect x="2258" y="673.3" width="92" height="1.6" fill="#d0d0d0"/>
<polyline points="1903.1,668.53 1911.77,667.8 1920.44,667.26 1929.11,666.35 1937.78,664.54 1946.45,662.18 1955.13,659.45 1963.8,656.55 1972.47,653.64 1981.14,651.83 1989.81,650.92 1998.48,650.19 2007.15,649.65 2015.82,649.29 2024.49,648.92 2033.16,648.56 2041.84,648.2 2050.51,647.83 2059.18,647.29 2067.85,646.93 2076.52,646.2 2085.19,644.57 2093.86,642.21 2102.53,639.66 2111.2,638.39 2119.87,638.03 2128.55,638.57 2137.22,639.3 2145.89,640.21 2154.56,640.39 2163.23,639.85 2171.9,639.66" class="sp"/>
<g class="dt"><circle cx="1903.1" cy="668.53" r="0.75"/><circle cx="1911.77" cy="667.8" r="0.75"/><circle cx="1920.44" cy="667.26" r="0.75"/><circle cx="1929.11" cy="666.35" r="0.75"/><circle cx="1937.78" cy="664.54" r="0.75"/><circle cx="1946.45" cy="662.18" r="0.75"/><circle cx="1955.13" cy="659.45" r="0.75"/><circle cx="1963.8" cy="656.55" r="0.75"/><circle cx="1972.47" cy="653.64" r="0.75"/><circle cx="1981.14" cy="651.83" r="0.75"/><circle cx="1989.81" cy="650.92" r="0.75"/><circle cx="1998.48" cy="650.19" r="0.75"/><circle cx="2007.15" cy="649.65" r="0.75"/><circle cx="2015.82" cy="649.29" r="0.75"/><circle cx="2024.49" cy="648.92" r="0.75"/><circle cx="2033.16" cy="648.56" r="0.75"/><circle cx="2041.84" cy="648.2" r="0.75"/><circle cx="2050.51" cy="647.83" r="0.75"/><circle cx="2059.18" cy="647.29" r="0.75"/><circle cx="2067.85" cy="646.93" r="0.75"/><circle cx="2076.52" cy="646.2" r="0.75"/><circle cx="2085.19" cy="644.57" r="0.75"/><circle cx="2093.86" cy="642.21" r="0.75"/><circle cx="2102.53" cy="639.66" r="0.75"/><circle cx="2111.2" cy="638.39" r="0.75"/><circle cx="2119.87" cy="638.03" r="0.75"/><circle cx="2128.55" cy="638.57" r="0.75"/><circle cx="2137.22" cy="639.3" r="0.75"/><circle cx="2145.89" cy="640.21" r="0.75"/><circle cx="2154.56" cy="640.39" r="0.75"/><circle cx="2163.23" cy="639.85" r="0.75"/><circle cx="2171.9" cy="639.66" r="0.75"/></g>
<circle cx="2119.87" cy="638.03" r="0.9" fill="#5fbf6f"/>
<circle cx="2171.9" cy="639.66" r="1.1" fill="#2a38a8"/>
<rect x="1739" y="674.1" width="83.6" height="42.6" fill="#a2a48e"/>
<rect x="2258" y="674.1" width="92" height="42.6" fill="#bca486"/>
<text x="1664" y="701.34" class="t ag" text-anchor="middle" font-size="17">75 to 79</text>
<text x="1784.5" y="701.34" class="v" text-anchor="middle" font-size="17">873.28</text>
<text x="2304" y="701.34" class="v" text-anchor="middle" font-size="17">1060.30</text>
<text x="2424.5" y="701.34" class="t ag" text-anchor="middle" font-size="17">75 to 79</text>
<rect x="1589" y="715.9" width="233.6" height="1" fill="#d3d3d3"/>
<rect x="2258" y="715.9" width="233" height="1" fill="#d3d3d3"/>
<rect x="1739" y="715.6" width="83.6" height="1.6" fill="#d0d0d0"/>
<rect x="2258" y="715.6" width="92" height="1.6" fill="#d0d0d0"/>
<polyline points="1903.1,710.95 1911.77,709.68 1920.44,708.59 1929.11,707.86 1937.78,707.14 1946.45,706.77 1955.13,706.23 1963.8,705.32 1972.47,703.87 1981.14,701.87 1989.81,699.33 1998.48,696.97 2007.15,694.79 2015.82,693.52 2024.49,692.8 2033.16,692.25 2041.84,691.71 2050.51,691.16 2059.18,690.62 2067.85,689.89 2076.52,688.98 2085.19,687.35 2093.86,685.17 2102.53,682.81 2111.2,680.99 2119.87,680.45 2128.55,680.81 2137.22,681.36 2145.89,682.27 2154.56,682.63 2163.23,682.45 2171.9,682.45" class="sp"/>
<g class="dt"><circle cx="1903.1" cy="710.95" r="0.75"/><circle cx="1911.77" cy="709.68" r="0.75"/><circle cx="1920.44" cy="708.59" r="0.75"/><circle cx="1929.11" cy="707.86" r="0.75"/><circle cx="1937.78" cy="707.14" r="0.75"/><circle cx="1946.45" cy="706.77" r="0.75"/><circle cx="1955.13" cy="706.23" r="0.75"/><circle cx="1963.8" cy="705.32" r="0.75"/><circle cx="1972.47" cy="703.87" r="0.75"/><circle cx="1981.14" cy="701.87" r="0.75"/><circle cx="1989.81" cy="699.33" r="0.75"/><circle cx="1998.48" cy="696.97" r="0.75"/><circle cx="2007.15" cy="694.79" r="0.75"/><circle cx="2015.82" cy="693.52" r="0.75"/><circle cx="2024.49" cy="692.8" r="0.75"/><circle cx="2033.16" cy="692.25" r="0.75"/><circle cx="2041.84" cy="691.71" r="0.75"/><circle cx="2050.51" cy="691.16" r="0.75"/><circle cx="2059.18" cy="690.62" r="0.75"/><circle cx="2067.85" cy="689.89" r="0.75"/><circle cx="2076.52" cy="688.98" r="0.75"/><circle cx="2085.19" cy="687.35" r="0.75"/><circle cx="2093.86" cy="685.17" r="0.75"/><circle cx="2102.53" cy="682.81" r="0.75"/><circle cx="2111.2" cy="680.99" r="0.75"/><circle cx="2119.87" cy="680.45" r="0.75"/><circle cx="2128.55" cy="680.81" r="0.75"/><circle cx="2137.22" cy="681.36" r="0.75"/><circle cx="2145.89" cy="682.27" r="0.75"/><circle cx="2154.56" cy="682.63" r="0.75"/><circle cx="2163.23" cy="682.45" r="0.75"/><circle cx="2171.9" cy="682.45" r="0.75"/></g>
<circle cx="2119.87" cy="680.45" r="0.9" fill="#5fbf6f"/>
<circle cx="2171.9" cy="682.45" r="1.1" fill="#2a38a8"/>
<rect x="1739" y="716.4" width="83.6" height="42.6" fill="#58a3a5"/>
<rect x="2258" y="716.4" width="92" height="42.6" fill="#78a298"/>
<text x="1664" y="743.64" class="t ag" text-anchor="middle" font-size="17">80 to 84</text>
<text x="1784.5" y="743.64" class="v" text-anchor="middle" font-size="17">695.52</text>
<text x="2304" y="743.64" class="v" text-anchor="middle" font-size="17">873.16</text>
<text x="2424.5" y="743.64" class="t ag" text-anchor="middle" font-size="17">80 to 84</text>
<rect x="1589" y="758.2" width="233.6" height="1" fill="#d3d3d3"/>
<rect x="2258" y="758.2" width="233" height="1" fill="#d3d3d3"/>
<rect x="1739" y="757.9" width="83.6" height="1.6" fill="#d0d0d0"/>
<rect x="2258" y="757.9" width="92" height="1.6" fill="#d0d0d0"/>
<polyline points="1903.1,753.37 1911.77,752.27 1920.44,751.18 1929.11,750.08 1937.78,748.99 1946.45,747.89 1955.13,746.61 1963.8,745.52 1972.47,744.6 1981.14,744.06 1989.81,743.69 1998.48,743.69 2007.15,743.51 2015.82,742.96 2024.49,741.5 2033.16,739.31 2041.84,737.12 2050.51,735.11 2059.18,733.65 2067.85,732.55 2076.52,731.45 2085.19,729.63 2093.86,727.07 2102.53,724.7 2111.2,723.42 2119.87,722.87 2128.55,722.87 2137.22,723.05 2145.89,723.6 2154.56,723.78 2163.23,723.24 2171.9,722.87" class="sp"/>
<g class="dt"><circle cx="1903.1" cy="753.37" r="0.75"/><circle cx="1911.77" cy="752.27" r="0.75"/><circle cx="1920.44" cy="751.18" r="0.75"/><circle cx="1929.11" cy="750.08" r="0.75"/><circle cx="1937.78" cy="748.99" r="0.75"/><circle cx="1946.45" cy="747.89" r="0.75"/><circle cx="1955.13" cy="746.61" r="0.75"/><circle cx="1963.8" cy="745.52" r="0.75"/><circle cx="1972.47" cy="744.6" r="0.75"/><circle cx="1981.14" cy="744.06" r="0.75"/><circle cx="1989.81" cy="743.69" r="0.75"/><circle cx="1998.48" cy="743.69" r="0.75"/><circle cx="2007.15" cy="743.51" r="0.75"/><circle cx="2015.82" cy="742.96" r="0.75"/><circle cx="2024.49" cy="741.5" r="0.75"/><circle cx="2033.16" cy="739.31" r="0.75"/><circle cx="2041.84" cy="737.12" r="0.75"/><circle cx="2050.51" cy="735.11" r="0.75"/><circle cx="2059.18" cy="733.65" r="0.75"/><circle cx="2067.85" cy="732.55" r="0.75"/><circle cx="2076.52" cy="731.45" r="0.75"/><circle cx="2085.19" cy="729.63" r="0.75"/><circle cx="2093.86" cy="727.07" r="0.75"/><circle cx="2102.53" cy="724.7" r="0.75"/><circle cx="2111.2" cy="723.42" r="0.75"/><circle cx="2119.87" cy="722.87" r="0.75"/><circle cx="2128.55" cy="722.87" r="0.75"/><circle cx="2137.22" cy="723.05" r="0.75"/><circle cx="2145.89" cy="723.6" r="0.75"/><circle cx="2154.56" cy="723.78" r="0.75"/><circle cx="2163.23" cy="723.24" r="0.75"/><circle cx="2171.9" cy="722.87" r="0.75"/></g>
<circle cx="2119.87" cy="722.87" r="0.9" fill="#5fbf6f"/>
<circle cx="2171.9" cy="722.87" r="1.1" fill="#2a38a8"/>
<rect x="1739" y="758.7" width="83.6" height="42.6" fill="#3e8b7a"/>
<rect x="2258" y="758.7" width="92" height="42.6" fill="#44958a"/>
<text x="1664" y="785.94" class="t ag" text-anchor="middle" font-size="17">85 to 89</text>
<text x="1784.5" y="785.94" class="v" text-anchor="middle" font-size="17">519.73</text>
<text x="2304" y="785.94" class="v" text-anchor="middle" font-size="17">671.68</text>
<text x="2424.5" y="785.94" class="t ag" text-anchor="middle" font-size="17">85 to 89</text>
<rect x="1589" y="800.5" width="233.6" height="1" fill="#d3d3d3"/>
<rect x="2258" y="800.5" width="233" height="1" fill="#d3d3d3"/>
<rect x="1739" y="800.2" width="83.6" height="1.6" fill="#d0d0d0"/>
<rect x="2258" y="800.2" width="92" height="1.6" fill="#d0d0d0"/>
<polyline points="1903.1,795.79 1911.77,794.15 1920.44,792.69 1929.11,791.59 1937.78,790.68 1946.45,789.76 1955.13,788.67 1963.8,787.57 1972.47,786.48 1981.14,785.56 1989.81,784.83 1998.48,784.28 2007.15,783.74 2015.82,783.55 2024.49,783.37 2033.16,783.19 2041.84,783.19 2050.51,783.01 2059.18,782.28 2067.85,780.45 2076.52,778.07 2085.19,775.15 2093.86,771.86 2102.53,768.76 2111.2,766.93 2119.87,766.2 2128.55,766.02 2137.22,766.2 2145.89,766.39 2154.56,766.2 2163.23,765.66 2171.9,765.29" class="sp"/>
<g class="dt"><circle cx="1903.1" cy="795.79" r="0.75"/><circle cx="1911.77" cy="794.15" r="0.75"/><circle cx="1920.44" cy="792.69" r="0.75"/><circle cx="1929.11" cy="791.59" r="0.75"/><circle cx="1937.78" cy="790.68" r="0.75"/><circle cx="1946.45" cy="789.76" r="0.75"/><circle cx="1955.13" cy="788.67" r="0.75"/><circle cx="1963.8" cy="787.57" r="0.75"/><circle cx="1972.47" cy="786.48" r="0.75"/><circle cx="1981.14" cy="785.56" r="0.75"/><circle cx="1989.81" cy="784.83" r="0.75"/><circle cx="1998.48" cy="784.28" r="0.75"/><circle cx="2007.15" cy="783.74" r="0.75"/><circle cx="2015.82" cy="783.55" r="0.75"/><circle cx="2024.49" cy="783.37" r="0.75"/><circle cx="2033.16" cy="783.19" r="0.75"/><circle cx="2041.84" cy="783.19" r="0.75"/><circle cx="2050.51" cy="783.01" r="0.75"/><circle cx="2059.18" cy="782.28" r="0.75"/><circle cx="2067.85" cy="780.45" r="0.75"/><circle cx="2076.52" cy="778.07" r="0.75"/><circle cx="2085.19" cy="775.15" r="0.75"/><circle cx="2093.86" cy="771.86" r="0.75"/><circle cx="2102.53" cy="768.76" r="0.75"/><circle cx="2111.2" cy="766.93" r="0.75"/><circle cx="2119.87" cy="766.2" r="0.75"/><circle cx="2128.55" cy="766.02" r="0.75"/><circle cx="2137.22" cy="766.2" r="0.75"/><circle cx="2145.89" cy="766.39" r="0.75"/><circle cx="2154.56" cy="766.2" r="0.75"/><circle cx="2163.23" cy="765.66" r="0.75"/><circle cx="2171.9" cy="765.29" r="0.75"/></g>
<circle cx="2171.9" cy="765.29" r="0.9" fill="#5fbf6f"/>
<circle cx="2171.9" cy="765.29" r="1.1" fill="#2a38a8"/>
<rect x="1739" y="801" width="83.6" height="42.6" fill="#2d7a58"/>
<rect x="2258" y="801" width="92" height="42.6" fill="#2e7a5e"/>
<text x="1664" y="828.24" class="t ag" text-anchor="middle" font-size="17">90 to 94</text>
<text x="1784.5" y="828.24" class="v" text-anchor="middle" font-size="17">368.51</text>
<text x="2304" y="828.24" class="v" text-anchor="middle" font-size="17">486.47</text>
<text x="2424.5" y="828.24" class="t ag" text-anchor="middle" font-size="17">90 to 94</text>
<rect x="1589" y="842.8" width="233.6" height="1" fill="#d3d3d3"/>
<rect x="2258" y="842.8" width="233" height="1" fill="#d3d3d3"/>
<rect x="1739" y="842.5" width="83.6" height="1.6" fill="#d0d0d0"/>
<rect x="2258" y="842.5" width="92" height="1.6" fill="#d0d0d0"/>
<polyline points="1903.1,838.21 1911.77,836.76 1920.44,835.31 1929.11,834.03 1937.78,832.95 1946.45,831.86 1955.13,830.4 1963.8,829.13 1972.47,827.86 1981.14,827.14 1989.81,826.41 1998.48,825.86 2007.15,825.32 2015.82,824.78 2024.49,824.23 2033.16,823.87 2041.84,823.5 2050.51,823.32 2059.18,822.96 2067.85,822.42 2076.52,821.87 2085.19,820.6 2093.86,818.24 2102.53,815.52 2111.2,812.97 2119.87,810.98 2128.55,809.89 2137.22,809.34 2145.89,808.98 2154.56,808.8 2163.23,808.25 2171.9,807.71" class="sp"/>
<g class="dt"><circle cx="1903.1" cy="838.21" r="0.75"/><circle cx="1911.77" cy="836.76" r="0.75"/><circle cx="1920.44" cy="835.31" r="0.75"/><circle cx="1929.11" cy="834.03" r="0.75"/><circle cx="1937.78" cy="832.95" r="0.75"/><circle cx="1946.45" cy="831.86" r="0.75"/><circle cx="1955.13" cy="830.4" r="0.75"/><circle cx="1963.8" cy="829.13" r="0.75"/><circle cx="1972.47" cy="827.86" r="0.75"/><circle cx="1981.14" cy="827.14" r="0.75"/><circle cx="1989.81" cy="826.41" r="0.75"/><circle cx="1998.48" cy="825.86" r="0.75"/><circle cx="2007.15" cy="825.32" r="0.75"/><circle cx="2015.82" cy="824.78" r="0.75"/><circle cx="2024.49" cy="824.23" r="0.75"/><circle cx="2033.16" cy="823.87" r="0.75"/><circle cx="2041.84" cy="823.5" r="0.75"/><circle cx="2050.51" cy="823.32" r="0.75"/><circle cx="2059.18" cy="822.96" r="0.75"/><circle cx="2067.85" cy="822.42" r="0.75"/><circle cx="2076.52" cy="821.87" r="0.75"/><circle cx="2085.19" cy="820.6" r="0.75"/><circle cx="2093.86" cy="818.24" r="0.75"/><circle cx="2102.53" cy="815.52" r="0.75"/><circle cx="2111.2" cy="812.97" r="0.75"/><circle cx="2119.87" cy="810.98" r="0.75"/><circle cx="2128.55" cy="809.89" r="0.75"/><circle cx="2137.22" cy="809.34" r="0.75"/><circle cx="2145.89" cy="808.98" r="0.75"/><circle cx="2154.56" cy="808.8" r="0.75"/><circle cx="2163.23" cy="808.25" r="0.75"/><circle cx="2171.9" cy="807.71" r="0.75"/></g>
<circle cx="2171.9" cy="807.71" r="0.9" fill="#5fbf6f"/>
<circle cx="2171.9" cy="807.71" r="1.1" fill="#2a38a8"/>
<rect x="1739" y="843.3" width="83.6" height="42.6" fill="#1e6e40"/>
<rect x="2258" y="843.3" width="92" height="42.6" fill="#1e6e40"/>
<text x="1664" y="870.54" class="t ag" text-anchor="middle" font-size="17">95 plus</text>
<text x="1784.5" y="870.54" class="v" text-anchor="middle" font-size="17">253.22</text>
<text x="2304" y="870.54" class="v" text-anchor="middle" font-size="17">344.85</text>
<text x="2424.5" y="870.54" class="t ag" text-anchor="middle" font-size="17">95 plus</text>
<polyline points="1903.1,880.63 1911.77,878.81 1920.44,877.54 1929.11,876.64 1937.78,875.91 1946.45,875.55 1955.13,875 1963.8,874.28 1972.47,873.55 1981.14,872.82 1989.81,871.92 1998.48,871.19 2007.15,870.46 2015.82,869.74 2024.49,869.19 2033.16,868.83 2041.84,868.47 2050.51,868.1 2059.18,867.74 2067.85,867.01 2076.52,866.11 2085.19,864.65 2093.86,862.48 2102.53,860.12 2111.2,858.12 2119.87,856.85 2128.55,856.3 2137.22,855.76 2145.89,854.85 2154.56,853.22 2163.23,851.58 2171.9,850.13" class="sp"/>
<g class="dt"><circle cx="1903.1" cy="880.63" r="0.75"/><circle cx="1911.77" cy="878.81" r="0.75"/><circle cx="1920.44" cy="877.54" r="0.75"/><circle cx="1929.11" cy="876.64" r="0.75"/><circle cx="1937.78" cy="875.91" r="0.75"/><circle cx="1946.45" cy="875.55" r="0.75"/><circle cx="1955.13" cy="875" r="0.75"/><circle cx="1963.8" cy="874.28" r="0.75"/><circle cx="1972.47" cy="873.55" r="0.75"/><circle cx="1981.14" cy="872.82" r="0.75"/><circle cx="1989.81" cy="871.92" r="0.75"/><circle cx="1998.48" cy="871.19" r="0.75"/><circle cx="2007.15" cy="870.46" r="0.75"/><circle cx="2015.82" cy="869.74" r="0.75"/><circle cx="2024.49" cy="869.19" r="0.75"/><circle cx="2033.16" cy="868.83" r="0.75"/><circle cx="2041.84" cy="868.47" r="0.75"/><circle cx="2050.51" cy="868.1" r="0.75"/><circle cx="2059.18" cy="867.74" r="0.75"/><circle cx="2067.85" cy="867.01" r="0.75"/><circle cx="2076.52" cy="866.11" r="0.75"/><circle cx="2085.19" cy="864.65" r="0.75"/><circle cx="2093.86" cy="862.48" r="0.75"/><circle cx="2102.53" cy="860.12" r="0.75"/><circle cx="2111.2" cy="858.12" r="0.75"/><circle cx="2119.87" cy="856.85" r="0.75"/><circle cx="2128.55" cy="856.3" r="0.75"/><circle cx="2137.22" cy="855.76" r="0.75"/><circle cx="2145.89" cy="854.85" r="0.75"/><circle cx="2154.56" cy="853.22" r="0.75"/><circle cx="2163.23" cy="851.58" r="0.75"/><circle cx="2171.9" cy="850.13" r="0.75"/></g>
<circle cx="2171.9" cy="850.13" r="0.9" fill="#5fbf6f"/>
<circle cx="2171.9" cy="850.13" r="1.1" fill="#2a38a8"/>
<rect x="1589" y="885.1" width="233.6" height="2" fill="#d3d3d3"/>
<rect x="2258" y="885.1" width="233" height="2" fill="#d3d3d3"/>
<rect x="1589" y="36.9" width="233.6" height="3.2" fill="#000"/>
<rect x="2258" y="37.2" width="233" height="2.7" fill="#000"/>
<rect x="1832" y="38.4" width="406.4" height="1.3" fill="#d6d6d6"/>
<rect x="1832" y="887.4" width="406.4" height="2" fill="#d6d6d6"/>
<text x="2036.7" y="15.6" class="tt" text-anchor="middle" font-size="17.4" letter-spacing="0.25">Prevalence rate by age group from 1990 to 2021</text>
<text x="1662.8" y="958" class="t" text-anchor="middle" font-size="17">age</text>
<text x="2432.6" y="958" class="t" text-anchor="middle" font-size="17">age</text>
<rect x="1738" y="971.6" width="84.1" height="42.55" fill="#cc414a"/>
<rect x="2265.5" y="971.6" width="92.5" height="42.55" fill="#cc3f4a"/>
<text x="1662.8" y="998.81" class="t ag" text-anchor="middle" font-size="17">&lt;5</text>
<text x="1784" y="998.81" class="v" text-anchor="middle" font-size="17">306.02</text>
<text x="2311.5" y="998.81" class="v" text-anchor="middle" font-size="17">328.99</text>
<text x="2432.6" y="998.81" class="t ag" text-anchor="middle" font-size="17">&lt;5</text>
<rect x="1588.4" y="1013.35" width="233.7" height="1" fill="#d3d3d3"/>
<rect x="2265.5" y="1013.35" width="234.5" height="1" fill="#d3d3d3"/>
<rect x="1738" y="1013.05" width="84.1" height="1.6" fill="#d0d0d0"/>
<rect x="2265.5" y="1013.05" width="92.5" height="1.6" fill="#d0d0d0"/>
<polyline points="1917.7,1006.1 1926.37,1004.28 1935.04,1002.47 1943.71,1000.65 1952.38,999.02 1961.05,997.57 1969.73,995.75 1978.4,993.94 1987.07,992.48 1995.74,991.76 2004.41,991.39 2013.08,991.21 2021.75,991.21 2030.42,991.21 2039.09,991.03 2047.76,991.03 2056.44,991.03 2065.11,990.85 2073.78,990.85 2082.45,990.67 2091.12,990.49 2099.79,988.67 2108.46,984.86 2117.13,980.5 2125.8,976.87 2134.47,975.6 2143.15,976.51 2151.82,978.69 2160.49,980.68 2169.16,981.95 2177.83,980.86 2186.5,980.86" class="sp"/>
<g class="dt"><circle cx="1917.7" cy="1006.1" r="0.75"/><circle cx="1926.37" cy="1004.28" r="0.75"/><circle cx="1935.04" cy="1002.47" r="0.75"/><circle cx="1943.71" cy="1000.65" r="0.75"/><circle cx="1952.38" cy="999.02" r="0.75"/><circle cx="1961.05" cy="997.57" r="0.75"/><circle cx="1969.73" cy="995.75" r="0.75"/><circle cx="1978.4" cy="993.94" r="0.75"/><circle cx="1987.07" cy="992.48" r="0.75"/><circle cx="1995.74" cy="991.76" r="0.75"/><circle cx="2004.41" cy="991.39" r="0.75"/><circle cx="2013.08" cy="991.21" r="0.75"/><circle cx="2021.75" cy="991.21" r="0.75"/><circle cx="2030.42" cy="991.21" r="0.75"/><circle cx="2039.09" cy="991.03" r="0.75"/><circle cx="2047.76" cy="991.03" r="0.75"/><circle cx="2056.44" cy="991.03" r="0.75"/><circle cx="2065.11" cy="990.85" r="0.75"/><circle cx="2073.78" cy="990.85" r="0.75"/><circle cx="2082.45" cy="990.67" r="0.75"/><circle cx="2091.12" cy="990.49" r="0.75"/><circle cx="2099.79" cy="988.67" r="0.75"/><circle cx="2108.46" cy="984.86" r="0.75"/><circle cx="2117.13" cy="980.5" r="0.75"/><circle cx="2125.8" cy="976.87" r="0.75"/><circle cx="2134.47" cy="975.6" r="0.75"/><circle cx="2143.15" cy="976.51" r="0.75"/><circle cx="2151.82" cy="978.69" r="0.75"/><circle cx="2160.49" cy="980.68" r="0.75"/><circle cx="2169.16" cy="981.95" r="0.75"/><circle cx="2177.83" cy="980.86" r="0.75"/><circle cx="2186.5" cy="980.86" r="0.75"/></g>
<circle cx="2134.47" cy="975.6" r="0.9" fill="#5fbf6f"/>
<circle cx="2186.5" cy="980.86" r="1.1" fill="#2a38a8"/>
<rect x="1738" y="1013.85" width="84.1" height="42.55" fill="#cd474b"/>
<rect x="2265.5" y="1013.85" width="92.5" height="42.55" fill="#cc444b"/>
<text x="1662.8" y="1041.06" class="t ag" text-anchor="middle" font-size="17">5 to 9</text>
<text x="1784" y="1041.06" class="v" text-anchor="middle" font-size="17">301.81</text>
<text x="2311.5" y="1041.06" class="v" text-anchor="middle" font-size="17">324.61</text>
<text x="2432.6" y="1041.06" class="t ag" text-anchor="middle" font-size="17">5 to 9</text>
<rect x="1588.4" y="1055.6" width="233.7" height="1" fill="#d3d3d3"/>
<rect x="2265.5" y="1055.6" width="234.5" height="1" fill="#d3d3d3"/>
<rect x="1738" y="1055.3" width="84.1" height="1.6" fill="#d0d0d0"/>
<rect x="2265.5" y="1055.3" width="92.5" height="1.6" fill="#d0d0d0"/>
<polyline points="1917.7,1048.47 1926.37,1046.66 1935.04,1044.85 1943.71,1043.05 1952.38,1041.42 1961.05,1039.97 1969.73,1038.17 1978.4,1036.36 1987.07,1034.91 1995.74,1034.19 2004.41,1033.82 2013.08,1033.61 2021.75,1033.57 2030.42,1033.53 2039.09,1033.32 2047.76,1033.28 2056.44,1033.24 2065.11,1033.04 2073.78,1033 2082.45,1032.79 2091.12,1032.58 2099.79,1030.8 2108.46,1027.06 2117.13,1022.78 2125.8,1019.22 2134.47,1017.97 2143.15,1018.86 2151.82,1020.99 2160.49,1022.95 2169.16,1024.19 2177.83,1023.1 2186.5,1023.08" class="sp"/>
<g class="dt"><circle cx="1917.7" cy="1048.47" r="0.75"/><circle cx="1926.37" cy="1046.66" r="0.75"/><circle cx="1935.04" cy="1044.85" r="0.75"/><circle cx="1943.71" cy="1043.05" r="0.75"/><circle cx="1952.38" cy="1041.42" r="0.75"/><circle cx="1961.05" cy="1039.97" r="0.75"/><circle cx="1969.73" cy="1038.17" r="0.75"/><circle cx="1978.4" cy="1036.36" r="0.75"/><circle cx="1987.07" cy="1034.91" r="0.75"/><circle cx="1995.74" cy="1034.19" r="0.75"/><circle cx="2004.41" cy="1033.82" r="0.75"/><circle cx="2013.08" cy="1033.61" r="0.75"/><circle cx="2021.75" cy="1033.57" r="0.75"/><circle cx="2030.42" cy="1033.53" r="0.75"/><circle cx="2039.09" cy="1033.32" r="0.75"/><circle cx="2047.76" cy="1033.28" r="0.75"/><circle cx="2056.44" cy="1033.24" r="0.75"/><circle cx="2065.11" cy="1033.04" r="0.75"/><circle cx="2073.78" cy="1033" r="0.75"/><circle cx="2082.45" cy="1032.79" r="0.75"/><circle cx="2091.12" cy="1032.58" r="0.75"/><circle cx="2099.79" cy="1030.8" r="0.75"/><circle cx="2108.46" cy="1027.06" r="0.75"/><circle cx="2117.13" cy="1022.78" r="0.75"/><circle cx="2125.8" cy="1019.22" r="0.75"/><circle cx="2134.47" cy="1017.97" r="0.75"/><circle cx="2143.15" cy="1018.86" r="0.75"/><circle cx="2151.82" cy="1020.99" r="0.75"/><circle cx="2160.49" cy="1022.95" r="0.75"/><circle cx="2169.16" cy="1024.19" r="0.75"/><circle cx="2177.83" cy="1023.1" r="0.75"/><circle cx="2186.5" cy="1023.08" r="0.75"/></g>
<circle cx="2134.47" cy="1017.97" r="0.9" fill="#5fbf6f"/>
<circle cx="2186.5" cy="1023.08" r="1.1" fill="#2a38a8"/>
<rect x="1738" y="1056.1" width="84.1" height="42.55" fill="#ce4a4c"/>
<rect x="2265.5" y="1056.1" width="92.5" height="42.55" fill="#cd484c"/>
<text x="1662.8" y="1083.31" class="t ag" text-anchor="middle" font-size="17">10 to 14</text>
<text x="1784" y="1083.31" class="v" text-anchor="middle" font-size="17">298.14</text>
<text x="2311.5" y="1083.31" class="v" text-anchor="middle" font-size="17">320.50</text>
<text x="2432.6" y="1083.31" class="t ag" text-anchor="middle" font-size="17">10 to 14</text>
<rect x="1588.4" y="1097.85" width="233.7" height="1" fill="#d3d3d3"/>
<rect x="2265.5" y="1097.85" width="234.5" height="1" fill="#d3d3d3"/>
<rect x="1738" y="1097.55" width="84.1" height="1.6" fill="#d0d0d0"/>
<rect x="2265.5" y="1097.55" width="92.5" height="1.6" fill="#d0d0d0"/>
<polyline points="1917.7,1090.84 1926.37,1089.04 1935.04,1087.24 1943.71,1085.44 1952.38,1083.82 1961.05,1082.38 1969.73,1080.58 1978.4,1078.78 1987.07,1077.34 1995.74,1076.62 2004.41,1076.24 2013.08,1076.01 2021.75,1075.93 2030.42,1075.85 2039.09,1075.62 2047.76,1075.54 2056.44,1075.46 2065.11,1075.22 2073.78,1075.14 2082.45,1074.91 2091.12,1074.68 2099.79,1072.93 2108.46,1069.26 2117.13,1065.06 2125.8,1061.56 2134.47,1060.34 2143.15,1061.21 2151.82,1063.3 2160.49,1065.21 2169.16,1066.42 2177.83,1065.34 2186.5,1065.3" class="sp"/>
<g class="dt"><circle cx="1917.7" cy="1090.84" r="0.75"/><circle cx="1926.37" cy="1089.04" r="0.75"/><circle cx="1935.04" cy="1087.24" r="0.75"/><circle cx="1943.71" cy="1085.44" r="0.75"/><circle cx="1952.38" cy="1083.82" r="0.75"/><circle cx="1961.05" cy="1082.38" r="0.75"/><circle cx="1969.73" cy="1080.58" r="0.75"/><circle cx="1978.4" cy="1078.78" r="0.75"/><circle cx="1987.07" cy="1077.34" r="0.75"/><circle cx="1995.74" cy="1076.62" r="0.75"/><circle cx="2004.41" cy="1076.24" r="0.75"/><circle cx="2013.08" cy="1076.01" r="0.75"/><circle cx="2021.75" cy="1075.93" r="0.75"/><circle cx="2030.42" cy="1075.85" r="0.75"/><circle cx="2039.09" cy="1075.62" r="0.75"/><circle cx="2047.76" cy="1075.54" r="0.75"/><circle cx="2056.44" cy="1075.46" r="0.75"/><circle cx="2065.11" cy="1075.22" r="0.75"/><circle cx="2073.78" cy="1075.14" r="0.75"/><circle cx="2082.45" cy="1074.91" r="0.75"/><circle cx="2091.12" cy="1074.68" r="0.75"/><circle cx="2099.79" cy="1072.93" r="0.75"/><circle cx="2108.46" cy="1069.26" r="0.75"/><circle cx="2117.13" cy="1065.06" r="0.75"/><circle cx="2125.8" cy="1061.56" r="0.75"/><circle cx="2134.47" cy="1060.34" r="0.75"/><circle cx="2143.15" cy="1061.21" r="0.75"/><circle cx="2151.82" cy="1063.3" r="0.75"/><circle cx="2160.49" cy="1065.21" r="0.75"/><circle cx="2169.16" cy="1066.42" r="0.75"/><circle cx="2177.83" cy="1065.34" r="0.75"/><circle cx="2186.5" cy="1065.3" r="0.75"/></g>
<circle cx="2134.47" cy="1060.34" r="0.9" fill="#5fbf6f"/>
<circle cx="2186.5" cy="1065.3" r="1.1" fill="#2a38a8"/>
<rect x="1738" y="1098.35" width="84.1" height="42.55" fill="#cf4e4d"/>
<rect x="2265.5" y="1098.35" width="92.5" height="42.55" fill="#cf4c4d"/>
<text x="1662.8" y="1125.56" class="t ag" text-anchor="middle" font-size="17">15 to 19</text>
<text x="1784" y="1125.56" class="v" text-anchor="middle" font-size="17">294.88</text>
<text x="2311.5" y="1125.56" class="v" text-anchor="middle" font-size="17">316.91</text>
<text x="2432.6" y="1125.56" class="t ag" text-anchor="middle" font-size="17">15 to 19</text>
<rect x="1588.4" y="1140.1" width="233.7" height="1" fill="#d3d3d3"/>
<rect x="2265.5" y="1140.1" width="234.5" height="1" fill="#d3d3d3"/>
<rect x="1738" y="1139.8" width="84.1" height="1.6" fill="#d0d0d0"/>
<rect x="2265.5" y="1139.8" width="92.5" height="1.6" fill="#d0d0d0"/>
<polyline points="1917.7,1133.21 1926.37,1131.42 1935.04,1129.63 1943.71,1127.83 1952.38,1126.22 1961.05,1124.79 1969.73,1122.99 1978.4,1121.2 1987.07,1119.77 1995.74,1119.05 2004.41,1118.66 2013.08,1118.4 2021.75,1118.28 2030.42,1118.16 2039.09,1117.91 2047.76,1117.79 2056.44,1117.67 2065.11,1117.41 2073.78,1117.29 2082.45,1117.04 2091.12,1116.78 2099.79,1115.06 2108.46,1111.46 2117.13,1107.34 2125.8,1103.91 2134.47,1102.71 2143.15,1103.56 2151.82,1105.6 2160.49,1107.47 2169.16,1108.66 2177.83,1107.57 2186.5,1107.52" class="sp"/>
<g class="dt"><circle cx="1917.7" cy="1133.21" r="0.75"/><circle cx="1926.37" cy="1131.42" r="0.75"/><circle cx="1935.04" cy="1129.63" r="0.75"/><circle cx="1943.71" cy="1127.83" r="0.75"/><circle cx="1952.38" cy="1126.22" r="0.75"/><circle cx="1961.05" cy="1124.79" r="0.75"/><circle cx="1969.73" cy="1122.99" r="0.75"/><circle cx="1978.4" cy="1121.2" r="0.75"/><circle cx="1987.07" cy="1119.77" r="0.75"/><circle cx="1995.74" cy="1119.05" r="0.75"/><circle cx="2004.41" cy="1118.66" r="0.75"/><circle cx="2013.08" cy="1118.4" r="0.75"/><circle cx="2021.75" cy="1118.28" r="0.75"/><circle cx="2030.42" cy="1118.16" r="0.75"/><circle cx="2039.09" cy="1117.91" r="0.75"/><circle cx="2047.76" cy="1117.79" r="0.75"/><circle cx="2056.44" cy="1117.67" r="0.75"/><circle cx="2065.11" cy="1117.41" r="0.75"/><circle cx="2073.78" cy="1117.29" r="0.75"/><circle cx="2082.45" cy="1117.04" r="0.75"/><circle cx="2091.12" cy="1116.78" r="0.75"/><circle cx="2099.79" cy="1115.06" r="0.75"/><circle cx="2108.46" cy="1111.46" r="0.75"/><circle cx="2117.13" cy="1107.34" r="0.75"/><circle cx="2125.8" cy="1103.91" r="0.75"/><circle cx="2134.47" cy="1102.71" r="0.75"/><circle cx="2143.15" cy="1103.56" r="0.75"/><circle cx="2151.82" cy="1105.6" r="0.75"/><circle cx="2160.49" cy="1107.47" r="0.75"/><circle cx="2169.16" cy="1108.66" r="0.75"/><circle cx="2177.83" cy="1107.57" r="0.75"/><circle cx="2186.5" cy="1107.52" r="0.75"/></g>
<circle cx="2134.47" cy="1102.71" r="0.9" fill="#5fbf6f"/>
<circle cx="2186.5" cy="1107.52" r="1.1" fill="#2a38a8"/>
<rect x="1738" y="1140.6" width="84.1" height="42.55" fill="#d0514d"/>
<rect x="2265.5" y="1140.6" width="92.5" height="42.55" fill="#cf4f4d"/>
<text x="1662.8" y="1167.81" class="t ag" text-anchor="middle" font-size="17">20 to 24</text>
<text x="1784" y="1167.81" class="v" text-anchor="middle" font-size="17">292.28</text>
<text x="2311.5" y="1167.81" class="v" text-anchor="middle" font-size="17">314.17</text>
<text x="2432.6" y="1167.81" class="t ag" text-anchor="middle" font-size="17">20 to 24</text>
<rect x="1588.4" y="1182.35" width="233.7" height="1" fill="#d3d3d3"/>
<rect x="2265.5" y="1182.35" width="234.5" height="1" fill="#d3d3d3"/>
<rect x="1738" y="1182.05" width="84.1" height="1.6" fill="#d0d0d0"/>
<rect x="2265.5" y="1182.05" width="92.5" height="1.6" fill="#d0d0d0"/>
<polyline points="1917.7,1175.58 1926.37,1173.8 1935.04,1172.01 1943.71,1170.23 1952.38,1168.62 1961.05,1167.19 1969.73,1165.41 1978.4,1163.62 1987.07,1162.2 1995.74,1161.48 2004.41,1161.08 2013.08,1160.8 2021.75,1160.64 2030.42,1160.48 2039.09,1160.2 2047.76,1160.04 2056.44,1159.88 2065.11,1159.6 2073.78,1159.44 2082.45,1159.16 2091.12,1158.88 2099.79,1157.2 2108.46,1153.66 2117.13,1149.62 2125.8,1146.26 2134.47,1145.08 2143.15,1145.91 2151.82,1147.9 2160.49,1149.73 2169.16,1150.89 2177.83,1149.81 2186.5,1149.74" class="sp"/>
<g class="dt"><circle cx="1917.7" cy="1175.58" r="0.75"/><circle cx="1926.37" cy="1173.8" r="0.75"/><circle cx="1935.04" cy="1172.01" r="0.75"/><circle cx="1943.71" cy="1170.23" r="0.75"/><circle cx="1952.38" cy="1168.62" r="0.75"/><circle cx="1961.05" cy="1167.19" r="0.75"/><circle cx="1969.73" cy="1165.41" r="0.75"/><circle cx="1978.4" cy="1163.62" r="0.75"/><circle cx="1987.07" cy="1162.2" r="0.75"/><circle cx="1995.74" cy="1161.48" r="0.75"/><circle cx="2004.41" cy="1161.08" r="0.75"/><circle cx="2013.08" cy="1160.8" r="0.75"/><circle cx="2021.75" cy="1160.64" r="0.75"/><circle cx="2030.42" cy="1160.48" r="0.75"/><circle cx="2039.09" cy="1160.2" r="0.75"/><circle cx="2047.76" cy="1160.04" r="0.75"/><circle cx="2056.44" cy="1159.88" r="0.75"/><circle cx="2065.11" cy="1159.6" r="0.75"/><circle cx="2073.78" cy="1159.44" r="0.75"/><circle cx="2082.45" cy="1159.16" r="0.75"/><circle cx="2091.12" cy="1158.88" r="0.75"/><circle cx="2099.79" cy="1157.2" r="0.75"/><circle cx="2108.46" cy="1153.66" r="0.75"/><circle cx="2117.13" cy="1149.62" r="0.75"/><circle cx="2125.8" cy="1146.26" r="0.75"/><circle cx="2134.47" cy="1145.08" r="0.75"/><circle cx="2143.15" cy="1145.91" r="0.75"/><circle cx="2151.82" cy="1147.9" r="0.75"/><circle cx="2160.49" cy="1149.73" r="0.75"/><circle cx="2169.16" cy="1150.89" r="0.75"/><circle cx="2177.83" cy="1149.81" r="0.75"/><circle cx="2186.5" cy="1149.74" r="0.75"/></g>
<circle cx="2134.47" cy="1145.08" r="0.9" fill="#5fbf6f"/>
<circle cx="2186.5" cy="1149.74" r="1.1" fill="#2a38a8"/>
<rect x="1738" y="1182.85" width="84.1" height="42.55" fill="#d2564f"/>
<rect x="2265.5" y="1182.85" width="92.5" height="42.55" fill="#d0524e"/>
<text x="1662.8" y="1210.06" class="t ag" text-anchor="middle" font-size="17">25 to 29</text>
<text x="1784" y="1210.06" class="v" text-anchor="middle" font-size="17">288.59</text>
<text x="2311.5" y="1210.06" class="v" text-anchor="middle" font-size="17">312.79</text>
<text x="2432.6" y="1210.06" class="t ag" text-anchor="middle" font-size="17">25 to 29</text>
<rect x="1588.4" y="1224.6" width="233.7" height="1" fill="#d3d3d3"/>
<rect x="2265.5" y="1224.6" width="234.5" height="1" fill="#d3d3d3"/>
<rect x="1738" y="1224.3" width="84.1" height="1.6" fill="#d0d0d0"/>
<rect x="2265.5" y="1224.3" width="92.5" height="1.6" fill="#d0d0d0"/>
<polyline points="1917.7,1217.95 1926.37,1216.17 1935.04,1214.4 1943.71,1212.62 1952.38,1211.02 1961.05,1209.6 1969.73,1207.82 1978.4,1206.05 1987.07,1204.62 1995.74,1203.92 2004.41,1203.5 2013.08,1203.2 2021.75,1203 2030.42,1202.8 2039.09,1202.49 2047.76,1202.29 2056.44,1202.09 2065.11,1201.79 2073.78,1201.59 2082.45,1201.28 2091.12,1200.98 2099.79,1199.33 2108.46,1195.86 2117.13,1191.9 2125.8,1188.6 2134.47,1187.45 2143.15,1188.26 2151.82,1190.21 2160.49,1191.99 2169.16,1193.13 2177.83,1192.05 2186.5,1191.96" class="sp"/>
<g class="dt"><circle cx="1917.7" cy="1217.95" r="0.75"/><circle cx="1926.37" cy="1216.17" r="0.75"/><circle cx="1935.04" cy="1214.4" r="0.75"/><circle cx="1943.71" cy="1212.62" r="0.75"/><circle cx="1952.38" cy="1211.02" r="0.75"/><circle cx="1961.05" cy="1209.6" r="0.75"/><circle cx="1969.73" cy="1207.82" r="0.75"/><circle cx="1978.4" cy="1206.05" r="0.75"/><circle cx="1987.07" cy="1204.62" r="0.75"/><circle cx="1995.74" cy="1203.92" r="0.75"/><circle cx="2004.41" cy="1203.5" r="0.75"/><circle cx="2013.08" cy="1203.2" r="0.75"/><circle cx="2021.75" cy="1203" r="0.75"/><circle cx="2030.42" cy="1202.8" r="0.75"/><circle cx="2039.09" cy="1202.49" r="0.75"/><circle cx="2047.76" cy="1202.29" r="0.75"/><circle cx="2056.44" cy="1202.09" r="0.75"/><circle cx="2065.11" cy="1201.79" r="0.75"/><circle cx="2073.78" cy="1201.59" r="0.75"/><circle cx="2082.45" cy="1201.28" r="0.75"/><circle cx="2091.12" cy="1200.98" r="0.75"/><circle cx="2099.79" cy="1199.33" r="0.75"/><circle cx="2108.46" cy="1195.86" r="0.75"/><circle cx="2117.13" cy="1191.9" r="0.75"/><circle cx="2125.8" cy="1188.6" r="0.75"/><circle cx="2134.47" cy="1187.45" r="0.75"/><circle cx="2143.15" cy="1188.26" r="0.75"/><circle cx="2151.82" cy="1190.21" r="0.75"/><circle cx="2160.49" cy="1191.99" r="0.75"/><circle cx="2169.16" cy="1193.13" r="0.75"/><circle cx="2177.83" cy="1192.05" r="0.75"/><circle cx="2186.5" cy="1191.96" r="0.75"/></g>
<circle cx="2134.47" cy="1187.45" r="0.9" fill="#5fbf6f"/>
<circle cx="2186.5" cy="1191.96" r="1.1" fill="#2a38a8"/>
<rect x="1738" y="1225.1" width="84.1" height="42.55" fill="#d35a50"/>
<rect x="2265.5" y="1225.1" width="92.5" height="42.55" fill="#d1564f"/>
<text x="1662.8" y="1252.31" class="t ag" text-anchor="middle" font-size="17">30 to 34</text>
<text x="1784" y="1252.31" class="v" text-anchor="middle" font-size="17">285.02</text>
<text x="2311.5" y="1252.31" class="v" text-anchor="middle" font-size="17">309.47</text>
<text x="2432.6" y="1252.31" class="t ag" text-anchor="middle" font-size="17">30 to 34</text>
<rect x="1588.4" y="1266.85" width="233.7" height="1" fill="#d3d3d3"/>
<rect x="2265.5" y="1266.85" width="234.5" height="1" fill="#d3d3d3"/>
<rect x="1738" y="1266.55" width="84.1" height="1.6" fill="#d0d0d0"/>
<rect x="2265.5" y="1266.55" width="92.5" height="1.6" fill="#d0d0d0"/>
<polyline points="1917.7,1260.32 1926.37,1258.55 1935.04,1256.78 1943.71,1255.01 1952.38,1253.42 1961.05,1252.01 1969.73,1250.24 1978.4,1248.47 1987.07,1247.05 1995.74,1246.35 2004.41,1245.93 2013.08,1245.6 2021.75,1245.36 2030.42,1245.12 2039.09,1244.79 2047.76,1244.55 2056.44,1244.31 2065.11,1243.97 2073.78,1243.73 2082.45,1243.4 2091.12,1243.07 2099.79,1241.46 2108.46,1238.06 2117.13,1234.18 2125.8,1230.95 2134.47,1229.82 2143.15,1230.61 2151.82,1232.51 2160.49,1234.26 2169.16,1235.36 2177.83,1234.28 2186.5,1234.18" class="sp"/>
<g class="dt"><circle cx="1917.7" cy="1260.32" r="0.75"/><circle cx="1926.37" cy="1258.55" r="0.75"/><circle cx="1935.04" cy="1256.78" r="0.75"/><circle cx="1943.71" cy="1255.01" r="0.75"/><circle cx="1952.38" cy="1253.42" r="0.75"/><circle cx="1961.05" cy="1252.01" r="0.75"/><circle cx="1969.73" cy="1250.24" r="0.75"/><circle cx="1978.4" cy="1248.47" r="0.75"/><circle cx="1987.07" cy="1247.05" r="0.75"/><circle cx="1995.74" cy="1246.35" r="0.75"/><circle cx="2004.41" cy="1245.93" r="0.75"/><circle cx="2013.08" cy="1245.6" r="0.75"/><circle cx="2021.75" cy="1245.36" r="0.75"/><circle cx="2030.42" cy="1245.12" r="0.75"/><circle cx="2039.09" cy="1244.79" r="0.75"/><circle cx="2047.76" cy="1244.55" r="0.75"/><circle cx="2056.44" cy="1244.31" r="0.75"/><circle cx="2065.11" cy="1243.97" r="0.75"/><circle cx="2073.78" cy="1243.73" r="0.75"/><circle cx="2082.45" cy="1243.4" r="0.75"/><circle cx="2091.12" cy="1243.07" r="0.75"/><circle cx="2099.79" cy="1241.46" r="0.75"/><circle cx="2108.46" cy="1238.06" r="0.75"/><circle cx="2117.13" cy="1234.18" r="0.75"/><circle cx="2125.8" cy="1230.95" r="0.75"/><circle cx="2134.47" cy="1229.82" r="0.75"/><circle cx="2143.15" cy="1230.61" r="0.75"/><circle cx="2151.82" cy="1232.51" r="0.75"/><circle cx="2160.49" cy="1234.26" r="0.75"/><circle cx="2169.16" cy="1235.36" r="0.75"/><circle cx="2177.83" cy="1234.28" r="0.75"/><circle cx="2186.5" cy="1234.18" r="0.75"/></g>
<circle cx="2134.47" cy="1229.82" r="0.9" fill="#5fbf6f"/>
<circle cx="2186.5" cy="1234.18" r="1.1" fill="#2a38a8"/>
<rect x="1738" y="1267.35" width="84.1" height="42.55" fill="#d55f51"/>
<rect x="2265.5" y="1267.35" width="92.5" height="42.55" fill="#d35a50"/>
<text x="1662.8" y="1294.56" class="t ag" text-anchor="middle" font-size="17">35 to 39</text>
<text x="1784" y="1294.56" class="v" text-anchor="middle" font-size="17">280.79</text>
<text x="2311.5" y="1294.56" class="v" text-anchor="middle" font-size="17">304.69</text>
<text x="2432.6" y="1294.56" class="t ag" text-anchor="middle" font-size="17">35 to 39</text>
<rect x="1588.4" y="1309.1" width="233.7" height="1" fill="#d3d3d3"/>
<rect x="2265.5" y="1309.1" width="234.5" height="1" fill="#d3d3d3"/>
<rect x="1738" y="1308.8" width="84.1" height="1.6" fill="#d0d0d0"/>
<rect x="2265.5" y="1308.8" width="92.5" height="1.6" fill="#d0d0d0"/>
<polyline points="1917.7,1302.69 1926.37,1300.93 1935.04,1299.17 1943.71,1297.41 1952.38,1295.82 1961.05,1294.41 1969.73,1292.65 1978.4,1290.89 1987.07,1289.48 1995.74,1288.78 2004.41,1288.35 2013.08,1287.99 2021.75,1287.71 2030.42,1287.43 2039.09,1287.08 2047.76,1286.8 2056.44,1286.52 2065.11,1286.16 2073.78,1285.88 2082.45,1285.53 2091.12,1285.17 2099.79,1283.59 2108.46,1280.26 2117.13,1276.46 2125.8,1273.3 2134.47,1272.19 2143.15,1272.96 2151.82,1274.82 2160.49,1276.52 2169.16,1277.6 2177.83,1276.52 2186.5,1276.39" class="sp"/>
<g class="dt"><circle cx="1917.7" cy="1302.69" r="0.75"/><circle cx="1926.37" cy="1300.93" r="0.75"/><circle cx="1935.04" cy="1299.17" r="0.75"/><circle cx="1943.71" cy="1297.41" r="0.75"/><circle cx="1952.38" cy="1295.82" r="0.75"/><circle cx="1961.05" cy="1294.41" r="0.75"/><circle cx="1969.73" cy="1292.65" r="0.75"/><circle cx="1978.4" cy="1290.89" r="0.75"/><circle cx="1987.07" cy="1289.48" r="0.75"/><circle cx="1995.74" cy="1288.78" r="0.75"/><circle cx="2004.41" cy="1288.35" r="0.75"/><circle cx="2013.08" cy="1287.99" r="0.75"/><circle cx="2021.75" cy="1287.71" r="0.75"/><circle cx="2030.42" cy="1287.43" r="0.75"/><circle cx="2039.09" cy="1287.08" r="0.75"/><circle cx="2047.76" cy="1286.8" r="0.75"/><circle cx="2056.44" cy="1286.52" r="0.75"/><circle cx="2065.11" cy="1286.16" r="0.75"/><circle cx="2073.78" cy="1285.88" r="0.75"/><circle cx="2082.45" cy="1285.53" r="0.75"/><circle cx="2091.12" cy="1285.17" r="0.75"/><circle cx="2099.79" cy="1283.59" r="0.75"/><circle cx="2108.46" cy="1280.26" r="0.75"/><circle cx="2117.13" cy="1276.46" r="0.75"/><circle cx="2125.8" cy="1273.3" r="0.75"/><circle cx="2134.47" cy="1272.19" r="0.75"/><circle cx="2143.15" cy="1272.96" r="0.75"/><circle cx="2151.82" cy="1274.82" r="0.75"/><circle cx="2160.49" cy="1276.52" r="0.75"/><circle cx="2169.16" cy="1277.6" r="0.75"/><circle cx="2177.83" cy="1276.52" r="0.75"/><circle cx="2186.5" cy="1276.39" r="0.75"/></g>
<circle cx="2134.47" cy="1272.19" r="0.9" fill="#5fbf6f"/>
<circle cx="2186.5" cy="1276.39" r="1.1" fill="#2a38a8"/>
<rect x="1738" y="1309.6" width="84.1" height="42.55" fill="#d76553"/>
<rect x="2265.5" y="1309.6" width="92.5" height="42.55" fill="#d56052"/>
<text x="1662.8" y="1336.81" class="t ag" text-anchor="middle" font-size="17">40 to 44</text>
<text x="1784" y="1336.81" class="v" text-anchor="middle" font-size="17">275.96</text>
<text x="2311.5" y="1336.81" class="v" text-anchor="middle" font-size="17">299.94</text>
<text x="2432.6" y="1336.81" class="t ag" text-anchor="middle" font-size="17">40 to 44</text>
<rect x="1588.4" y="1351.35" width="233.7" height="1" fill="#d3d3d3"/>
<rect x="2265.5" y="1351.35" width="234.5" height="1" fill="#d3d3d3"/>
<rect x="1738" y="1351.05" width="84.1" height="1.6" fill="#d0d0d0"/>
<rect x="2265.5" y="1351.05" width="92.5" height="1.6" fill="#d0d0d0"/>
<polyline points="1917.7,1345.06 1926.37,1343.31 1935.04,1341.55 1943.71,1339.8 1952.38,1338.22 1961.05,1336.82 1969.73,1335.06 1978.4,1333.31 1987.07,1331.91 1995.74,1331.21 2004.41,1330.77 2013.08,1330.39 2021.75,1330.07 2030.42,1329.75 2039.09,1329.37 2047.76,1329.05 2056.44,1328.73 2065.11,1328.35 2073.78,1328.03 2082.45,1327.65 2091.12,1327.27 2099.79,1325.72 2108.46,1322.46 2117.13,1318.74 2125.8,1315.64 2134.47,1314.56 2143.15,1315.31 2151.82,1317.12 2160.49,1318.78 2169.16,1319.83 2177.83,1318.75 2186.5,1318.61" class="sp"/>
<g class="dt"><circle cx="1917.7" cy="1345.06" r="0.75"/><circle cx="1926.37" cy="1343.31" r="0.75"/><circle cx="1935.04" cy="1341.55" r="0.75"/><circle cx="1943.71" cy="1339.8" r="0.75"/><circle cx="1952.38" cy="1338.22" r="0.75"/><circle cx="1961.05" cy="1336.82" r="0.75"/><circle cx="1969.73" cy="1335.06" r="0.75"/><circle cx="1978.4" cy="1333.31" r="0.75"/><circle cx="1987.07" cy="1331.91" r="0.75"/><circle cx="1995.74" cy="1331.21" r="0.75"/><circle cx="2004.41" cy="1330.77" r="0.75"/><circle cx="2013.08" cy="1330.39" r="0.75"/><circle cx="2021.75" cy="1330.07" r="0.75"/><circle cx="2030.42" cy="1329.75" r="0.75"/><circle cx="2039.09" cy="1329.37" r="0.75"/><circle cx="2047.76" cy="1329.05" r="0.75"/><circle cx="2056.44" cy="1328.73" r="0.75"/><circle cx="2065.11" cy="1328.35" r="0.75"/><circle cx="2073.78" cy="1328.03" r="0.75"/><circle cx="2082.45" cy="1327.65" r="0.75"/><circle cx="2091.12" cy="1327.27" r="0.75"/><circle cx="2099.79" cy="1325.72" r="0.75"/><circle cx="2108.46" cy="1322.46" r="0.75"/><circle cx="2117.13" cy="1318.74" r="0.75"/><circle cx="2125.8" cy="1315.64" r="0.75"/><circle cx="2134.47" cy="1314.56" r="0.75"/><circle cx="2143.15" cy="1315.31" r="0.75"/><circle cx="2151.82" cy="1317.12" r="0.75"/><circle cx="2160.49" cy="1318.78" r="0.75"/><circle cx="2169.16" cy="1319.83" r="0.75"/><circle cx="2177.83" cy="1318.75" r="0.75"/><circle cx="2186.5" cy="1318.61" r="0.75"/></g>
<circle cx="2134.47" cy="1314.56" r="0.9" fill="#5fbf6f"/>
<circle cx="2186.5" cy="1318.61" r="1.1" fill="#2a38a8"/>
<rect x="1738" y="1351.85" width="84.1" height="42.55" fill="#da6e57"/>
<rect x="2265.5" y="1351.85" width="92.5" height="42.55" fill="#d86855"/>
<text x="1662.8" y="1379.06" class="t ag" text-anchor="middle" font-size="17">45 to 49</text>
<text x="1784" y="1379.06" class="v" text-anchor="middle" font-size="17">268.82</text>
<text x="2311.5" y="1379.06" class="v" text-anchor="middle" font-size="17">293.39</text>
<text x="2432.6" y="1379.06" class="t ag" text-anchor="middle" font-size="17">45 to 49</text>
<rect x="1588.4" y="1393.6" width="233.7" height="1" fill="#d3d3d3"/>
<rect x="2265.5" y="1393.6" width="234.5" height="1" fill="#d3d3d3"/>
<rect x="1738" y="1393.3" width="84.1" height="1.6" fill="#d0d0d0"/>
<rect x="2265.5" y="1393.3" width="92.5" height="1.6" fill="#d0d0d0"/>
<polyline points="1917.7,1387.43 1926.37,1385.68 1935.04,1383.94 1943.71,1382.19 1952.38,1380.62 1961.05,1379.22 1969.73,1377.48 1978.4,1375.73 1987.07,1374.34 1995.74,1373.64 2004.41,1373.19 2013.08,1372.79 2021.75,1372.43 2030.42,1372.07 2039.09,1371.66 2047.76,1371.3 2056.44,1370.94 2065.11,1370.54 2073.78,1370.18 2082.45,1369.77 2091.12,1369.37 2099.79,1367.85 2108.46,1364.67 2117.13,1361.03 2125.8,1357.99 2134.47,1356.93 2143.15,1357.66 2151.82,1359.43 2160.49,1361.04 2169.16,1362.07 2177.83,1360.99 2186.5,1360.83" class="sp"/>
<g class="dt"><circle cx="1917.7" cy="1387.43" r="0.75"/><circle cx="1926.37" cy="1385.68" r="0.75"/><circle cx="1935.04" cy="1383.94" r="0.75"/><circle cx="1943.71" cy="1382.19" r="0.75"/><circle cx="1952.38" cy="1380.62" r="0.75"/><circle cx="1961.05" cy="1379.22" r="0.75"/><circle cx="1969.73" cy="1377.48" r="0.75"/><circle cx="1978.4" cy="1375.73" r="0.75"/><circle cx="1987.07" cy="1374.34" r="0.75"/><circle cx="1995.74" cy="1373.64" r="0.75"/><circle cx="2004.41" cy="1373.19" r="0.75"/><circle cx="2013.08" cy="1372.79" r="0.75"/><circle cx="2021.75" cy="1372.43" r="0.75"/><circle cx="2030.42" cy="1372.07" r="0.75"/><circle cx="2039.09" cy="1371.66" r="0.75"/><circle cx="2047.76" cy="1371.3" r="0.75"/><circle cx="2056.44" cy="1370.94" r="0.75"/><circle cx="2065.11" cy="1370.54" r="0.75"/><circle cx="2073.78" cy="1370.18" r="0.75"/><circle cx="2082.45" cy="1369.77" r="0.75"/><circle cx="2091.12" cy="1369.37" r="0.75"/><circle cx="2099.79" cy="1367.85" r="0.75"/><circle cx="2108.46" cy="1364.67" r="0.75"/><circle cx="2117.13" cy="1361.03" r="0.75"/><circle cx="2125.8" cy="1357.99" r="0.75"/><circle cx="2134.47" cy="1356.93" r="0.75"/><circle cx="2143.15" cy="1357.66" r="0.75"/><circle cx="2151.82" cy="1359.43" r="0.75"/><circle cx="2160.49" cy="1361.04" r="0.75"/><circle cx="2169.16" cy="1362.07" r="0.75"/><circle cx="2177.83" cy="1360.99" r="0.75"/><circle cx="2186.5" cy="1360.83" r="0.75"/></g>
<circle cx="2134.47" cy="1356.93" r="0.9" fill="#5fbf6f"/>
<circle cx="2186.5" cy="1360.83" r="1.1" fill="#2a38a8"/>
<rect x="1738" y="1394.1" width="84.1" height="42.55" fill="#dc765b"/>
<rect x="2265.5" y="1394.1" width="92.5" height="42.55" fill="#dc725a"/>
<text x="1662.8" y="1421.31" class="t ag" text-anchor="middle" font-size="17">50 to 54</text>
<text x="1784" y="1421.31" class="v" text-anchor="middle" font-size="17">261.23</text>
<text x="2311.5" y="1421.31" class="v" text-anchor="middle" font-size="17">285.62</text>
<text x="2432.6" y="1421.31" class="t ag" text-anchor="middle" font-size="17">50 to 54</text>
<rect x="1588.4" y="1435.85" width="233.7" height="1" fill="#d3d3d3"/>
<rect x="2265.5" y="1435.85" width="234.5" height="1" fill="#d3d3d3"/>
<rect x="1738" y="1435.55" width="84.1" height="1.6" fill="#d0d0d0"/>
<rect x="2265.5" y="1435.55" width="92.5" height="1.6" fill="#d0d0d0"/>
<polyline points="1917.7,1429.8 1926.37,1428.06 1935.04,1426.32 1943.71,1424.59 1952.38,1423.02 1961.05,1421.63 1969.73,1419.89 1978.4,1418.15 1987.07,1416.76 1995.74,1416.07 2004.41,1415.61 2013.08,1415.18 2021.75,1414.78 2030.42,1414.38 2039.09,1413.95 2047.76,1413.55 2056.44,1413.15 2065.11,1412.72 2073.78,1412.32 2082.45,1411.89 2091.12,1411.46 2099.79,1409.98 2108.46,1406.87 2117.13,1403.31 2125.8,1400.34 2134.47,1399.3 2143.15,1400.01 2151.82,1401.73 2160.49,1403.3 2169.16,1404.3 2177.83,1403.23 2186.5,1403.05" class="sp"/>
<g class="dt"><circle cx="1917.7" cy="1429.8" r="0.75"/><circle cx="1926.37" cy="1428.06" r="0.75"/><circle cx="1935.04" cy="1426.32" r="0.75"/><circle cx="1943.71" cy="1424.59" r="0.75"/><circle cx="1952.38" cy="1423.02" r="0.75"/><circle cx="1961.05" cy="1421.63" r="0.75"/><circle cx="1969.73" cy="1419.89" r="0.75"/><circle cx="1978.4" cy="1418.15" r="0.75"/><circle cx="1987.07" cy="1416.76" r="0.75"/><circle cx="1995.74" cy="1416.07" r="0.75"/><circle cx="2004.41" cy="1415.61" r="0.75"/><circle cx="2013.08" cy="1415.18" r="0.75"/><circle cx="2021.75" cy="1414.78" r="0.75"/><circle cx="2030.42" cy="1414.38" r="0.75"/><circle cx="2039.09" cy="1413.95" r="0.75"/><circle cx="2047.76" cy="1413.55" r="0.75"/><circle cx="2056.44" cy="1413.15" r="0.75"/><circle cx="2065.11" cy="1412.72" r="0.75"/><circle cx="2073.78" cy="1412.32" r="0.75"/><circle cx="2082.45" cy="1411.89" r="0.75"/><circle cx="2091.12" cy="1411.46" r="0.75"/><circle cx="2099.79" cy="1409.98" r="0.75"/><circle cx="2108.46" cy="1406.87" r="0.75"/><circle cx="2117.13" cy="1403.31" r="0.75"/><circle cx="2125.8" cy="1400.34" r="0.75"/><circle cx="2134.47" cy="1399.3" r="0.75"/><circle cx="2143.15" cy="1400.01" r="0.75"/><circle cx="2151.82" cy="1401.73" r="0.75"/><circle cx="2160.49" cy="1403.3" r="0.75"/><circle cx="2169.16" cy="1404.3" r="0.75"/><circle cx="2177.83" cy="1403.23" r="0.75"/><circle cx="2186.5" cy="1403.05" r="0.75"/></g>
<circle cx="2134.47" cy="1399.3" r="0.9" fill="#5fbf6f"/>
<circle cx="2186.5" cy="1403.05" r="1.1" fill="#2a38a8"/>
<rect x="1738" y="1436.35" width="84.1" height="42.55" fill="#e08060"/>
<rect x="2265.5" y="1436.35" width="92.5" height="42.55" fill="#df7c5e"/>
<text x="1662.8" y="1463.56" class="t ag" text-anchor="middle" font-size="17">55 to 59</text>
<text x="1784" y="1463.56" class="v" text-anchor="middle" font-size="17">251.75</text>
<text x="2311.5" y="1463.56" class="v" text-anchor="middle" font-size="17">276.29</text>
<text x="2432.6" y="1463.56" class="t ag" text-anchor="middle" font-size="17">55 to 59</text>
<rect x="1588.4" y="1478.1" width="233.7" height="1" fill="#d3d3d3"/>
<rect x="2265.5" y="1478.1" width="234.5" height="1" fill="#d3d3d3"/>
<rect x="1738" y="1477.8" width="84.1" height="1.6" fill="#d0d0d0"/>
<rect x="2265.5" y="1477.8" width="92.5" height="1.6" fill="#d0d0d0"/>
<polyline points="1917.7,1472.17 1926.37,1470.44 1935.04,1468.71 1943.71,1466.98 1952.38,1465.42 1961.05,1464.04 1969.73,1462.31 1978.4,1460.58 1987.07,1459.19 1995.74,1458.51 2004.41,1458.04 2013.08,1457.58 2021.75,1457.14 2030.42,1456.7 2039.09,1456.25 2047.76,1455.81 2056.44,1455.37 2065.11,1454.91 2073.78,1454.47 2082.45,1454.02 2091.12,1453.56 2099.79,1452.11 2108.46,1449.07 2117.13,1445.59 2125.8,1442.69 2134.47,1441.67 2143.15,1442.37 2151.82,1444.03 2160.49,1445.57 2169.16,1446.54 2177.83,1445.46 2186.5,1445.27" class="sp"/>
<g class="dt"><circle cx="1917.7" cy="1472.17" r="0.75"/><circle cx="1926.37" cy="1470.44" r="0.75"/><circle cx="1935.04" cy="1468.71" r="0.75"/><circle cx="1943.71" cy="1466.98" r="0.75"/><circle cx="1952.38" cy="1465.42" r="0.75"/><circle cx="1961.05" cy="1464.04" r="0.75"/><circle cx="1969.73" cy="1462.31" r="0.75"/><circle cx="1978.4" cy="1460.58" r="0.75"/><circle cx="1987.07" cy="1459.19" r="0.75"/><circle cx="1995.74" cy="1458.51" r="0.75"/><circle cx="2004.41" cy="1458.04" r="0.75"/><circle cx="2013.08" cy="1457.58" r="0.75"/><circle cx="2021.75" cy="1457.14" r="0.75"/><circle cx="2030.42" cy="1456.7" r="0.75"/><circle cx="2039.09" cy="1456.25" r="0.75"/><circle cx="2047.76" cy="1455.81" r="0.75"/><circle cx="2056.44" cy="1455.37" r="0.75"/><circle cx="2065.11" cy="1454.91" r="0.75"/><circle cx="2073.78" cy="1454.47" r="0.75"/><circle cx="2082.45" cy="1454.02" r="0.75"/><circle cx="2091.12" cy="1453.56" r="0.75"/><circle cx="2099.79" cy="1452.11" r="0.75"/><circle cx="2108.46" cy="1449.07" r="0.75"/><circle cx="2117.13" cy="1445.59" r="0.75"/><circle cx="2125.8" cy="1442.69" r="0.75"/><circle cx="2134.47" cy="1441.67" r="0.75"/><circle cx="2143.15" cy="1442.37" r="0.75"/><circle cx="2151.82" cy="1444.03" r="0.75"/><circle cx="2160.49" cy="1445.57" r="0.75"/><circle cx="2169.16" cy="1446.54" r="0.75"/><circle cx="2177.83" cy="1445.46" r="0.75"/><circle cx="2186.5" cy="1445.27" r="0.75"/></g>
<circle cx="2134.47" cy="1441.67" r="0.9" fill="#5fbf6f"/>
<circle cx="2186.5" cy="1445.27" r="1.1" fill="#2a38a8"/>
<rect x="1738" y="1478.6" width="84.1" height="42.55" fill="#e48e64"/>
<rect x="2265.5" y="1478.6" width="92.5" height="42.55" fill="#e38862"/>
<text x="1662.8" y="1505.81" class="t ag" text-anchor="middle" font-size="17">60 to 64</text>
<text x="1784" y="1505.81" class="v" text-anchor="middle" font-size="17">238.20</text>
<text x="2311.5" y="1505.81" class="v" text-anchor="middle" font-size="17">264.06</text>
<text x="2432.6" y="1505.81" class="t ag" text-anchor="middle" font-size="17">60 to 64</text>
<rect x="1588.4" y="1520.35" width="233.7" height="1" fill="#d3d3d3"/>
<rect x="2265.5" y="1520.35" width="234.5" height="1" fill="#d3d3d3"/>
<rect x="1738" y="1520.05" width="84.1" height="1.6" fill="#d0d0d0"/>
<rect x="2265.5" y="1520.05" width="92.5" height="1.6" fill="#d0d0d0"/>
<polyline points="1917.7,1514.54 1926.37,1512.82 1935.04,1511.09 1943.71,1509.37 1952.38,1507.82 1961.05,1506.44 1969.73,1504.72 1978.4,1503 1987.07,1501.62 1995.74,1500.94 2004.41,1500.46 2013.08,1499.98 2021.75,1499.5 2030.42,1499.02 2039.09,1498.54 2047.76,1498.06 2056.44,1497.58 2065.11,1497.1 2073.78,1496.62 2082.45,1496.14 2091.12,1495.66 2099.79,1494.24 2108.46,1491.27 2117.13,1487.87 2125.8,1485.03 2134.47,1484.04 2143.15,1484.72 2151.82,1486.34 2160.49,1487.83 2169.16,1488.77 2177.83,1487.7 2186.5,1487.49" class="sp"/>
<g class="dt"><circle cx="1917.7" cy="1514.54" r="0.75"/><circle cx="1926.37" cy="1512.82" r="0.75"/><circle cx="1935.04" cy="1511.09" r="0.75"/><circle cx="1943.71" cy="1509.37" r="0.75"/><circle cx="1952.38" cy="1507.82" r="0.75"/><circle cx="1961.05" cy="1506.44" r="0.75"/><circle cx="1969.73" cy="1504.72" r="0.75"/><circle cx="1978.4" cy="1503" r="0.75"/><circle cx="1987.07" cy="1501.62" r="0.75"/><circle cx="1995.74" cy="1500.94" r="0.75"/><circle cx="2004.41" cy="1500.46" r="0.75"/><circle cx="2013.08" cy="1499.98" r="0.75"/><circle cx="2021.75" cy="1499.5" r="0.75"/><circle cx="2030.42" cy="1499.02" r="0.75"/><circle cx="2039.09" cy="1498.54" r="0.75"/><circle cx="2047.76" cy="1498.06" r="0.75"/><circle cx="2056.44" cy="1497.58" r="0.75"/><circle cx="2065.11" cy="1497.1" r="0.75"/><circle cx="2073.78" cy="1496.62" r="0.75"/><circle cx="2082.45" cy="1496.14" r="0.75"/><circle cx="2091.12" cy="1495.66" r="0.75"/><circle cx="2099.79" cy="1494.24" r="0.75"/><circle cx="2108.46" cy="1491.27" r="0.75"/><circle cx="2117.13" cy="1487.87" r="0.75"/><circle cx="2125.8" cy="1485.03" r="0.75"/><circle cx="2134.47" cy="1484.04" r="0.75"/><circle cx="2143.15" cy="1484.72" r="0.75"/><circle cx="2151.82" cy="1486.34" r="0.75"/><circle cx="2160.49" cy="1487.83" r="0.75"/><circle cx="2169.16" cy="1488.77" r="0.75"/><circle cx="2177.83" cy="1487.7" r="0.75"/><circle cx="2186.5" cy="1487.49" r="0.75"/></g>
<circle cx="2134.47" cy="1484.04" r="0.9" fill="#5fbf6f"/>
<circle cx="2186.5" cy="1487.49" r="1.1" fill="#2a38a8"/>
<rect x="1738" y="1520.85" width="84.1" height="42.55" fill="#e4a46e"/>
<rect x="2265.5" y="1520.85" width="92.5" height="42.55" fill="#eca06a"/>
<text x="1662.8" y="1548.06" class="t ag" text-anchor="middle" font-size="17">65 to 69</text>
<text x="1784" y="1548.06" class="v" text-anchor="middle" font-size="17">209.16</text>
<text x="2311.5" y="1548.06" class="v" text-anchor="middle" font-size="17">243.69</text>
<text x="2432.6" y="1548.06" class="t ag" text-anchor="middle" font-size="17">65 to 69</text>
<rect x="1588.4" y="1562.6" width="233.7" height="1" fill="#d3d3d3"/>
<rect x="2265.5" y="1562.6" width="234.5" height="1" fill="#d3d3d3"/>
<rect x="1738" y="1562.3" width="84.1" height="1.6" fill="#d0d0d0"/>
<rect x="2265.5" y="1562.3" width="92.5" height="1.6" fill="#d0d0d0"/>
<polyline points="1917.7,1556.91 1926.37,1553.81 1935.04,1551.07 1943.71,1548.33 1952.38,1546.32 1961.05,1544.86 1969.73,1543.4 1978.4,1542.12 1987.07,1540.84 1995.74,1539.74 2004.41,1539.01 2013.08,1538.83 2021.75,1538.46 2030.42,1538.1 2039.09,1537.92 2047.76,1537.73 2056.44,1537.37 2065.11,1537.19 2073.78,1536.82 2082.45,1536.64 2091.12,1536.27 2099.79,1534.63 2108.46,1531.71 2117.13,1528.97 2125.8,1527.14 2134.47,1526.41 2143.15,1526.96 2151.82,1528.05 2160.49,1529.33 2169.16,1529.7 2177.83,1528.97 2186.5,1528.78" class="sp"/>
<g class="dt"><circle cx="1917.7" cy="1556.91" r="0.75"/><circle cx="1926.37" cy="1553.81" r="0.75"/><circle cx="1935.04" cy="1551.07" r="0.75"/><circle cx="1943.71" cy="1548.33" r="0.75"/><circle cx="1952.38" cy="1546.32" r="0.75"/><circle cx="1961.05" cy="1544.86" r="0.75"/><circle cx="1969.73" cy="1543.4" r="0.75"/><circle cx="1978.4" cy="1542.12" r="0.75"/><circle cx="1987.07" cy="1540.84" r="0.75"/><circle cx="1995.74" cy="1539.74" r="0.75"/><circle cx="2004.41" cy="1539.01" r="0.75"/><circle cx="2013.08" cy="1538.83" r="0.75"/><circle cx="2021.75" cy="1538.46" r="0.75"/><circle cx="2030.42" cy="1538.1" r="0.75"/><circle cx="2039.09" cy="1537.92" r="0.75"/><circle cx="2047.76" cy="1537.73" r="0.75"/><circle cx="2056.44" cy="1537.37" r="0.75"/><circle cx="2065.11" cy="1537.19" r="0.75"/><circle cx="2073.78" cy="1536.82" r="0.75"/><circle cx="2082.45" cy="1536.64" r="0.75"/><circle cx="2091.12" cy="1536.27" r="0.75"/><circle cx="2099.79" cy="1534.63" r="0.75"/><circle cx="2108.46" cy="1531.71" r="0.75"/><circle cx="2117.13" cy="1528.97" r="0.75"/><circle cx="2125.8" cy="1527.14" r="0.75"/><circle cx="2134.47" cy="1526.41" r="0.75"/><circle cx="2143.15" cy="1526.96" r="0.75"/><circle cx="2151.82" cy="1528.05" r="0.75"/><circle cx="2160.49" cy="1529.33" r="0.75"/><circle cx="2169.16" cy="1529.7" r="0.75"/><circle cx="2177.83" cy="1528.97" r="0.75"/><circle cx="2186.5" cy="1528.78" r="0.75"/></g>
<circle cx="2134.47" cy="1526.41" r="0.9" fill="#5fbf6f"/>
<circle cx="2186.5" cy="1528.78" r="1.1" fill="#2a38a8"/>
<rect x="1738" y="1563.1" width="84.1" height="42.55" fill="#baa486"/>
<rect x="2265.5" y="1563.1" width="92.5" height="42.55" fill="#d0a47c"/>
<text x="1662.8" y="1590.31" class="t ag" text-anchor="middle" font-size="17">70 to 74</text>
<text x="1784" y="1590.31" class="v" text-anchor="middle" font-size="17">179.28</text>
<text x="2311.5" y="1590.31" class="v" text-anchor="middle" font-size="17">215.24</text>
<text x="2432.6" y="1590.31" class="t ag" text-anchor="middle" font-size="17">70 to 74</text>
<rect x="1588.4" y="1604.85" width="233.7" height="1" fill="#d3d3d3"/>
<rect x="2265.5" y="1604.85" width="234.5" height="1" fill="#d3d3d3"/>
<rect x="1738" y="1604.55" width="84.1" height="1.6" fill="#d0d0d0"/>
<rect x="2265.5" y="1604.55" width="92.5" height="1.6" fill="#d0d0d0"/>
<polyline points="1917.7,1599.28 1926.37,1598.55 1935.04,1598.01 1943.71,1597.1 1952.38,1595.29 1961.05,1592.93 1969.73,1590.2 1978.4,1587.3 1987.07,1584.39 1995.74,1582.58 2004.41,1581.67 2013.08,1580.94 2021.75,1580.4 2030.42,1580.04 2039.09,1579.67 2047.76,1579.31 2056.44,1578.95 2065.11,1578.58 2073.78,1578.04 2082.45,1577.68 2091.12,1576.95 2099.79,1575.32 2108.46,1572.96 2117.13,1570.41 2125.8,1569.14 2134.47,1568.78 2143.15,1569.32 2151.82,1570.05 2160.49,1570.96 2169.16,1571.14 2177.83,1570.6 2186.5,1570.41" class="sp"/>
<g class="dt"><circle cx="1917.7" cy="1599.28" r="0.75"/><circle cx="1926.37" cy="1598.55" r="0.75"/><circle cx="1935.04" cy="1598.01" r="0.75"/><circle cx="1943.71" cy="1597.1" r="0.75"/><circle cx="1952.38" cy="1595.29" r="0.75"/><circle cx="1961.05" cy="1592.93" r="0.75"/><circle cx="1969.73" cy="1590.2" r="0.75"/><circle cx="1978.4" cy="1587.3" r="0.75"/><circle cx="1987.07" cy="1584.39" r="0.75"/><circle cx="1995.74" cy="1582.58" r="0.75"/><circle cx="2004.41" cy="1581.67" r="0.75"/><circle cx="2013.08" cy="1580.94" r="0.75"/><circle cx="2021.75" cy="1580.4" r="0.75"/><circle cx="2030.42" cy="1580.04" r="0.75"/><circle cx="2039.09" cy="1579.67" r="0.75"/><circle cx="2047.76" cy="1579.31" r="0.75"/><circle cx="2056.44" cy="1578.95" r="0.75"/><circle cx="2065.11" cy="1578.58" r="0.75"/><circle cx="2073.78" cy="1578.04" r="0.75"/><circle cx="2082.45" cy="1577.68" r="0.75"/><circle cx="2091.12" cy="1576.95" r="0.75"/><circle cx="2099.79" cy="1575.32" r="0.75"/><circle cx="2108.46" cy="1572.96" r="0.75"/><circle cx="2117.13" cy="1570.41" r="0.75"/><circle cx="2125.8" cy="1569.14" r="0.75"/><circle cx="2134.47" cy="1568.78" r="0.75"/><circle cx="2143.15" cy="1569.32" r="0.75"/><circle cx="2151.82" cy="1570.05" r="0.75"/><circle cx="2160.49" cy="1570.96" r="0.75"/><circle cx="2169.16" cy="1571.14" r="0.75"/><circle cx="2177.83" cy="1570.6" r="0.75"/><circle cx="2186.5" cy="1570.41" r="0.75"/></g>
<circle cx="2134.47" cy="1568.78" r="0.9" fill="#5fbf6f"/>
<circle cx="2186.5" cy="1570.41" r="1.1" fill="#2a38a8"/>
<rect x="1738" y="1605.35" width="84.1" height="42.55" fill="#88a498"/>
<rect x="2265.5" y="1605.35" width="92.5" height="42.55" fill="#a0a48e"/>
<text x="1662.8" y="1632.56" class="t ag" text-anchor="middle" font-size="17">75 to 79</text>
<text x="1784" y="1632.56" class="v" text-anchor="middle" font-size="17">148.39</text>
<text x="2311.5" y="1632.56" class="v" text-anchor="middle" font-size="17">181.68</text>
<text x="2432.6" y="1632.56" class="t ag" text-anchor="middle" font-size="17">75 to 79</text>
<rect x="1588.4" y="1647.1" width="233.7" height="1" fill="#d3d3d3"/>
<rect x="2265.5" y="1647.1" width="234.5" height="1" fill="#d3d3d3"/>
<rect x="1738" y="1646.8" width="84.1" height="1.6" fill="#d0d0d0"/>
<rect x="2265.5" y="1646.8" width="92.5" height="1.6" fill="#d0d0d0"/>
<polyline points="1917.7,1641.65 1926.37,1640.38 1935.04,1639.29 1943.71,1638.56 1952.38,1637.84 1961.05,1637.47 1969.73,1636.93 1978.4,1636.02 1987.07,1634.57 1995.74,1632.57 2004.41,1630.03 2013.08,1627.67 2021.75,1625.49 2030.42,1624.22 2039.09,1623.5 2047.76,1622.95 2056.44,1622.41 2065.11,1621.86 2073.78,1621.32 2082.45,1620.59 2091.12,1619.68 2099.79,1618.05 2108.46,1615.87 2117.13,1613.51 2125.8,1611.69 2134.47,1611.15 2143.15,1611.51 2151.82,1612.06 2160.49,1612.97 2169.16,1613.33 2177.83,1613.15 2186.5,1613.15" class="sp"/>
<g class="dt"><circle cx="1917.7" cy="1641.65" r="0.75"/><circle cx="1926.37" cy="1640.38" r="0.75"/><circle cx="1935.04" cy="1639.29" r="0.75"/><circle cx="1943.71" cy="1638.56" r="0.75"/><circle cx="1952.38" cy="1637.84" r="0.75"/><circle cx="1961.05" cy="1637.47" r="0.75"/><circle cx="1969.73" cy="1636.93" r="0.75"/><circle cx="1978.4" cy="1636.02" r="0.75"/><circle cx="1987.07" cy="1634.57" r="0.75"/><circle cx="1995.74" cy="1632.57" r="0.75"/><circle cx="2004.41" cy="1630.03" r="0.75"/><circle cx="2013.08" cy="1627.67" r="0.75"/><circle cx="2021.75" cy="1625.49" r="0.75"/><circle cx="2030.42" cy="1624.22" r="0.75"/><circle cx="2039.09" cy="1623.5" r="0.75"/><circle cx="2047.76" cy="1622.95" r="0.75"/><circle cx="2056.44" cy="1622.41" r="0.75"/><circle cx="2065.11" cy="1621.86" r="0.75"/><circle cx="2073.78" cy="1621.32" r="0.75"/><circle cx="2082.45" cy="1620.59" r="0.75"/><circle cx="2091.12" cy="1619.68" r="0.75"/><circle cx="2099.79" cy="1618.05" r="0.75"/><circle cx="2108.46" cy="1615.87" r="0.75"/><circle cx="2117.13" cy="1613.51" r="0.75"/><circle cx="2125.8" cy="1611.69" r="0.75"/><circle cx="2134.47" cy="1611.15" r="0.75"/><circle cx="2143.15" cy="1611.51" r="0.75"/><circle cx="2151.82" cy="1612.06" r="0.75"/><circle cx="2160.49" cy="1612.97" r="0.75"/><circle cx="2169.16" cy="1613.33" r="0.75"/><circle cx="2177.83" cy="1613.15" r="0.75"/><circle cx="2186.5" cy="1613.15" r="0.75"/></g>
<circle cx="2134.47" cy="1611.15" r="0.9" fill="#5fbf6f"/>
<circle cx="2186.5" cy="1613.15" r="1.1" fill="#2a38a8"/>
<rect x="1738" y="1647.6" width="84.1" height="42.55" fill="#4c9a94"/>
<rect x="2265.5" y="1647.6" width="92.5" height="42.55" fill="#58a2a6"/>
<text x="1662.8" y="1674.81" class="t ag" text-anchor="middle" font-size="17">80 to 84</text>
<text x="1784" y="1674.81" class="v" text-anchor="middle" font-size="17">115.74</text>
<text x="2311.5" y="1674.81" class="v" text-anchor="middle" font-size="17">146.76</text>
<text x="2432.6" y="1674.81" class="t ag" text-anchor="middle" font-size="17">80 to 84</text>
<rect x="1588.4" y="1689.35" width="233.7" height="1" fill="#d3d3d3"/>
<rect x="2265.5" y="1689.35" width="234.5" height="1" fill="#d3d3d3"/>
<rect x="1738" y="1689.05" width="84.1" height="1.6" fill="#d0d0d0"/>
<rect x="2265.5" y="1689.05" width="92.5" height="1.6" fill="#d0d0d0"/>
<polyline points="1917.7,1684.02 1926.37,1682.92 1935.04,1681.83 1943.71,1680.73 1952.38,1679.64 1961.05,1678.54 1969.73,1677.26 1978.4,1676.17 1987.07,1675.25 1995.74,1674.71 2004.41,1674.34 2013.08,1674.34 2021.75,1674.16 2030.42,1673.61 2039.09,1672.15 2047.76,1669.96 2056.44,1667.77 2065.11,1665.76 2073.78,1664.3 2082.45,1663.2 2091.12,1662.1 2099.79,1660.28 2108.46,1657.72 2117.13,1655.35 2125.8,1654.07 2134.47,1653.52 2143.15,1653.52 2151.82,1653.7 2160.49,1654.25 2169.16,1654.43 2177.83,1653.89 2186.5,1653.52" class="sp"/>
<g class="dt"><circle cx="1917.7" cy="1684.02" r="0.75"/><circle cx="1926.37" cy="1682.92" r="0.75"/><circle cx="1935.04" cy="1681.83" r="0.75"/><circle cx="1943.71" cy="1680.73" r="0.75"/><circle cx="1952.38" cy="1679.64" r="0.75"/><circle cx="1961.05" cy="1678.54" r="0.75"/><circle cx="1969.73" cy="1677.26" r="0.75"/><circle cx="1978.4" cy="1676.17" r="0.75"/><circle cx="1987.07" cy="1675.25" r="0.75"/><circle cx="1995.74" cy="1674.71" r="0.75"/><circle cx="2004.41" cy="1674.34" r="0.75"/><circle cx="2013.08" cy="1674.34" r="0.75"/><circle cx="2021.75" cy="1674.16" r="0.75"/><circle cx="2030.42" cy="1673.61" r="0.75"/><circle cx="2039.09" cy="1672.15" r="0.75"/><circle cx="2047.76" cy="1669.96" r="0.75"/><circle cx="2056.44" cy="1667.77" r="0.75"/><circle cx="2065.11" cy="1665.76" r="0.75"/><circle cx="2073.78" cy="1664.3" r="0.75"/><circle cx="2082.45" cy="1663.2" r="0.75"/><circle cx="2091.12" cy="1662.1" r="0.75"/><circle cx="2099.79" cy="1660.28" r="0.75"/><circle cx="2108.46" cy="1657.72" r="0.75"/><circle cx="2117.13" cy="1655.35" r="0.75"/><circle cx="2125.8" cy="1654.07" r="0.75"/><circle cx="2134.47" cy="1653.52" r="0.75"/><circle cx="2143.15" cy="1653.52" r="0.75"/><circle cx="2151.82" cy="1653.7" r="0.75"/><circle cx="2160.49" cy="1654.25" r="0.75"/><circle cx="2169.16" cy="1654.43" r="0.75"/><circle cx="2177.83" cy="1653.89" r="0.75"/><circle cx="2186.5" cy="1653.52" r="0.75"/></g>
<circle cx="2134.47" cy="1653.52" r="0.9" fill="#5fbf6f"/>
<circle cx="2186.5" cy="1653.52" r="1.1" fill="#2a38a8"/>
<rect x="1738" y="1689.85" width="84.1" height="42.55" fill="#3a8670"/>
<rect x="2265.5" y="1689.85" width="92.5" height="42.55" fill="#42907e"/>
<text x="1662.8" y="1717.06" class="t ag" text-anchor="middle" font-size="17">85 to 89</text>
<text x="1784" y="1717.06" class="v" text-anchor="middle" font-size="17">84.70</text>
<text x="2311.5" y="1717.06" class="v" text-anchor="middle" font-size="17">110.28</text>
<text x="2432.6" y="1717.06" class="t ag" text-anchor="middle" font-size="17">85 to 89</text>
<rect x="1588.4" y="1731.6" width="233.7" height="1" fill="#d3d3d3"/>
<rect x="2265.5" y="1731.6" width="234.5" height="1" fill="#d3d3d3"/>
<rect x="1738" y="1731.3" width="84.1" height="1.6" fill="#d0d0d0"/>
<rect x="2265.5" y="1731.3" width="92.5" height="1.6" fill="#d0d0d0"/>
<polyline points="1917.7,1726.39 1926.37,1724.75 1935.04,1723.29 1943.71,1722.19 1952.38,1721.28 1961.05,1720.36 1969.73,1719.27 1978.4,1718.17 1987.07,1717.08 1995.74,1716.16 2004.41,1715.43 2013.08,1714.88 2021.75,1714.34 2030.42,1714.15 2039.09,1713.97 2047.76,1713.79 2056.44,1713.79 2065.11,1713.61 2073.78,1712.88 2082.45,1711.05 2091.12,1708.67 2099.79,1705.75 2108.46,1702.46 2117.13,1699.36 2125.8,1697.53 2134.47,1696.8 2143.15,1696.62 2151.82,1696.8 2160.49,1696.99 2169.16,1696.8 2177.83,1696.26 2186.5,1695.89" class="sp"/>
<g class="dt"><circle cx="1917.7" cy="1726.39" r="0.75"/><circle cx="1926.37" cy="1724.75" r="0.75"/><circle cx="1935.04" cy="1723.29" r="0.75"/><circle cx="1943.71" cy="1722.19" r="0.75"/><circle cx="1952.38" cy="1721.28" r="0.75"/><circle cx="1961.05" cy="1720.36" r="0.75"/><circle cx="1969.73" cy="1719.27" r="0.75"/><circle cx="1978.4" cy="1718.17" r="0.75"/><circle cx="1987.07" cy="1717.08" r="0.75"/><circle cx="1995.74" cy="1716.16" r="0.75"/><circle cx="2004.41" cy="1715.43" r="0.75"/><circle cx="2013.08" cy="1714.88" r="0.75"/><circle cx="2021.75" cy="1714.34" r="0.75"/><circle cx="2030.42" cy="1714.15" r="0.75"/><circle cx="2039.09" cy="1713.97" r="0.75"/><circle cx="2047.76" cy="1713.79" r="0.75"/><circle cx="2056.44" cy="1713.79" r="0.75"/><circle cx="2065.11" cy="1713.61" r="0.75"/><circle cx="2073.78" cy="1712.88" r="0.75"/><circle cx="2082.45" cy="1711.05" r="0.75"/><circle cx="2091.12" cy="1708.67" r="0.75"/><circle cx="2099.79" cy="1705.75" r="0.75"/><circle cx="2108.46" cy="1702.46" r="0.75"/><circle cx="2117.13" cy="1699.36" r="0.75"/><circle cx="2125.8" cy="1697.53" r="0.75"/><circle cx="2134.47" cy="1696.8" r="0.75"/><circle cx="2143.15" cy="1696.62" r="0.75"/><circle cx="2151.82" cy="1696.8" r="0.75"/><circle cx="2160.49" cy="1696.99" r="0.75"/><circle cx="2169.16" cy="1696.8" r="0.75"/><circle cx="2177.83" cy="1696.26" r="0.75"/><circle cx="2186.5" cy="1695.89" r="0.75"/></g>
<circle cx="2186.5" cy="1695.89" r="0.9" fill="#5fbf6f"/>
<circle cx="2186.5" cy="1695.89" r="1.1" fill="#2a38a8"/>
<rect x="1738" y="1732.1" width="84.1" height="42.55" fill="#2c7854"/>
<rect x="2265.5" y="1732.1" width="92.5" height="42.55" fill="#2e7a58"/>
<text x="1662.8" y="1759.31" class="t ag" text-anchor="middle" font-size="17">90 to 94</text>
<text x="1784" y="1759.31" class="v" text-anchor="middle" font-size="17">58.66</text>
<text x="2311.5" y="1759.31" class="v" text-anchor="middle" font-size="17">77.96</text>
<text x="2432.6" y="1759.31" class="t ag" text-anchor="middle" font-size="17">90 to 94</text>
<rect x="1588.4" y="1773.85" width="233.7" height="1" fill="#d3d3d3"/>
<rect x="2265.5" y="1773.85" width="234.5" height="1" fill="#d3d3d3"/>
<rect x="1738" y="1773.55" width="84.1" height="1.6" fill="#d0d0d0"/>
<rect x="2265.5" y="1773.55" width="92.5" height="1.6" fill="#d0d0d0"/>
<polyline points="1917.7,1768.76 1926.37,1767.31 1935.04,1765.86 1943.71,1764.58 1952.38,1763.5 1961.05,1762.41 1969.73,1760.95 1978.4,1759.68 1987.07,1758.41 1995.74,1757.69 2004.41,1756.96 2013.08,1756.41 2021.75,1755.87 2030.42,1755.33 2039.09,1754.78 2047.76,1754.42 2056.44,1754.05 2065.11,1753.87 2073.78,1753.51 2082.45,1752.97 2091.12,1752.42 2099.79,1751.15 2108.46,1748.79 2117.13,1746.07 2125.8,1743.52 2134.47,1741.53 2143.15,1740.44 2151.82,1739.89 2160.49,1739.53 2169.16,1739.35 2177.83,1738.8 2186.5,1738.26" class="sp"/>
<g class="dt"><circle cx="1917.7" cy="1768.76" r="0.75"/><circle cx="1926.37" cy="1767.31" r="0.75"/><circle cx="1935.04" cy="1765.86" r="0.75"/><circle cx="1943.71" cy="1764.58" r="0.75"/><circle cx="1952.38" cy="1763.5" r="0.75"/><circle cx="1961.05" cy="1762.41" r="0.75"/><circle cx="1969.73" cy="1760.95" r="0.75"/><circle cx="1978.4" cy="1759.68" r="0.75"/><circle cx="1987.07" cy="1758.41" r="0.75"/><circle cx="1995.74" cy="1757.69" r="0.75"/><circle cx="2004.41" cy="1756.96" r="0.75"/><circle cx="2013.08" cy="1756.41" r="0.75"/><circle cx="2021.75" cy="1755.87" r="0.75"/><circle cx="2030.42" cy="1755.33" r="0.75"/><circle cx="2039.09" cy="1754.78" r="0.75"/><circle cx="2047.76" cy="1754.42" r="0.75"/><circle cx="2056.44" cy="1754.05" r="0.75"/><circle cx="2065.11" cy="1753.87" r="0.75"/><circle cx="2073.78" cy="1753.51" r="0.75"/><circle cx="2082.45" cy="1752.97" r="0.75"/><circle cx="2091.12" cy="1752.42" r="0.75"/><circle cx="2099.79" cy="1751.15" r="0.75"/><circle cx="2108.46" cy="1748.79" r="0.75"/><circle cx="2117.13" cy="1746.07" r="0.75"/><circle cx="2125.8" cy="1743.52" r="0.75"/><circle cx="2134.47" cy="1741.53" r="0.75"/><circle cx="2143.15" cy="1740.44" r="0.75"/><circle cx="2151.82" cy="1739.89" r="0.75"/><circle cx="2160.49" cy="1739.53" r="0.75"/><circle cx="2169.16" cy="1739.35" r="0.75"/><circle cx="2177.83" cy="1738.8" r="0.75"/><circle cx="2186.5" cy="1738.26" r="0.75"/></g>
<circle cx="2186.5" cy="1738.26" r="0.9" fill="#5fbf6f"/>
<circle cx="2186.5" cy="1738.26" r="1.1" fill="#2a38a8"/>
<rect x="1738" y="1774.35" width="84.1" height="42.55" fill="#1e6c40"/>
<rect x="2265.5" y="1774.35" width="92.5" height="42.55" fill="#1e6e40"/>
<text x="1662.8" y="1801.56" class="t ag" text-anchor="middle" font-size="17">95 plus</text>
<text x="1784" y="1801.56" class="v" text-anchor="middle" font-size="17">39.74</text>
<text x="2311.5" y="1801.56" class="v" text-anchor="middle" font-size="17">54.14</text>
<text x="2432.6" y="1801.56" class="t ag" text-anchor="middle" font-size="17">95 plus</text>
<polyline points="1917.7,1811.13 1926.37,1809.31 1935.04,1808.04 1943.71,1807.14 1952.38,1806.41 1961.05,1806.05 1969.73,1805.5 1978.4,1804.78 1987.07,1804.05 1995.74,1803.32 2004.41,1802.42 2013.08,1801.69 2021.75,1800.96 2030.42,1800.24 2039.09,1799.69 2047.76,1799.33 2056.44,1798.97 2065.11,1798.6 2073.78,1798.24 2082.45,1797.51 2091.12,1796.61 2099.79,1795.15 2108.46,1792.98 2117.13,1790.62 2125.8,1788.62 2134.47,1787.35 2143.15,1786.8 2151.82,1786.26 2160.49,1785.35 2169.16,1783.72 2177.83,1782.08 2186.5,1780.63" class="sp"/>
<g class="dt"><circle cx="1917.7" cy="1811.13" r="0.75"/><circle cx="1926.37" cy="1809.31" r="0.75"/><circle cx="1935.04" cy="1808.04" r="0.75"/><circle cx="1943.71" cy="1807.14" r="0.75"/><circle cx="1952.38" cy="1806.41" r="0.75"/><circle cx="1961.05" cy="1806.05" r="0.75"/><circle cx="1969.73" cy="1805.5" r="0.75"/><circle cx="1978.4" cy="1804.78" r="0.75"/><circle cx="1987.07" cy="1804.05" r="0.75"/><circle cx="1995.74" cy="1803.32" r="0.75"/><circle cx="2004.41" cy="1802.42" r="0.75"/><circle cx="2013.08" cy="1801.69" r="0.75"/><circle cx="2021.75" cy="1800.96" r="0.75"/><circle cx="2030.42" cy="1800.24" r="0.75"/><circle cx="2039.09" cy="1799.69" r="0.75"/><circle cx="2047.76" cy="1799.33" r="0.75"/><circle cx="2056.44" cy="1798.97" r="0.75"/><circle cx="2065.11" cy="1798.6" r="0.75"/><circle cx="2073.78" cy="1798.24" r="0.75"/><circle cx="2082.45" cy="1797.51" r="0.75"/><circle cx="2091.12" cy="1796.61" r="0.75"/><circle cx="2099.79" cy="1795.15" r="0.75"/><circle cx="2108.46" cy="1792.98" r="0.75"/><circle cx="2117.13" cy="1790.62" r="0.75"/><circle cx="2125.8" cy="1788.62" r="0.75"/><circle cx="2134.47" cy="1787.35" r="0.75"/><circle cx="2143.15" cy="1786.8" r="0.75"/><circle cx="2151.82" cy="1786.26" r="0.75"/><circle cx="2160.49" cy="1785.35" r="0.75"/><circle cx="2169.16" cy="1783.72" r="0.75"/><circle cx="2177.83" cy="1782.08" r="0.75"/><circle cx="2186.5" cy="1780.63" r="0.75"/></g>
<circle cx="2186.5" cy="1780.63" r="0.9" fill="#5fbf6f"/>
<circle cx="2186.5" cy="1780.63" r="1.1" fill="#2a38a8"/>
<rect x="1588.4" y="1816.1" width="233.7" height="2" fill="#d3d3d3"/>
<rect x="2265.5" y="1816.1" width="234.5" height="2" fill="#d3d3d3"/>
<rect x="1588.4" y="968.4" width="233.7" height="3.5" fill="#000"/>
<rect x="2265.5" y="968.7" width="234.5" height="3" fill="#000"/>
<rect x="1869.5" y="970.2" width="360.2" height="1.3" fill="#d6d6d6"/>
<rect x="1869.5" y="1819.2" width="360.2" height="2" fill="#d6d6d6"/>
<text x="2051.4" y="947.1" class="tt" text-anchor="middle" font-size="17.4" letter-spacing="0.25">DALY rate by age group from 1990 to 2021</text>
</svg></div></body></html>
